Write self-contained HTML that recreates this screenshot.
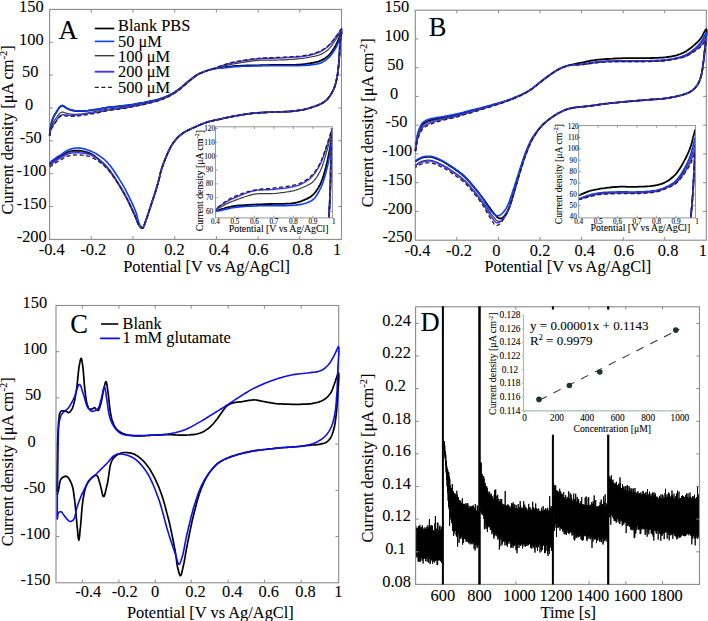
<!DOCTYPE html>
<html><head><meta charset="utf-8"><style>
html,body{margin:0;padding:0;background:#fff;}
svg{display:block;}
text{font-family:"Liberation Serif", serif;fill:#000;stroke:#000;stroke-width:0.08px;}
</style></head><body>
<svg width="708" height="621" viewBox="0 0 708 621">
<rect width="708" height="621" fill="#fff"/>
<rect x="49.6" y="9.4" width="291.9" height="230.0" fill="none" stroke="#8a8a8a" stroke-width="1.1"/>
<path d="M91.3,239.4v-3.2M91.3,9.4v3.2M133.0,239.4v-3.2M133.0,9.4v3.2M174.7,239.4v-3.2M174.7,9.4v3.2M216.4,239.4v-3.2M216.4,9.4v3.2M258.1,239.4v-3.2M258.1,9.4v3.2M299.8,239.4v-3.2M299.8,9.4v3.2M49.6,206.5h3.2M341.5,206.5h-3.2M49.6,173.7h3.2M341.5,173.7h-3.2M49.6,140.8h3.2M341.5,140.8h-3.2M49.6,108.0h3.2M341.5,108.0h-3.2M49.6,75.1h3.2M341.5,75.1h-3.2M49.6,42.3h3.2M341.5,42.3h-3.2" stroke="#8a8a8a" stroke-width="0.9900000000000001" fill="none"/>
<text x="51.7" y="254.6" font-size="16.4" text-anchor="middle" >-0.4</text>
<text x="93.3" y="254.6" font-size="16.4" text-anchor="middle" >-0.2</text>
<text x="130.6" y="254.6" font-size="16.4" text-anchor="middle" >0</text>
<text x="174.4" y="254.6" font-size="16.4" text-anchor="middle" >0.2</text>
<text x="219.0" y="254.6" font-size="16.4" text-anchor="middle" >0.4</text>
<text x="258.2" y="254.6" font-size="16.4" text-anchor="middle" >0.6</text>
<text x="302.4" y="254.6" font-size="16.4" text-anchor="middle" >0.8</text>
<text x="337.1" y="254.6" font-size="16.4" text-anchor="middle" >1</text>
<text x="31.4" y="11.6" font-size="16.4" text-anchor="middle" >150</text>
<text x="31.4" y="44.5" font-size="16.4" text-anchor="middle" >100</text>
<text x="30.2" y="77.3" font-size="16.4" text-anchor="middle" >50</text>
<text x="29.2" y="110.2" font-size="16.4" text-anchor="middle" >0</text>
<text x="30.7" y="143.0" font-size="16.4" text-anchor="middle" >-50</text>
<text x="31.5" y="175.9" font-size="16.4" text-anchor="middle" >-100</text>
<text x="31.7" y="208.7" font-size="16.4" text-anchor="middle" >-150</text>
<text x="31.7" y="241.6" font-size="16.4" text-anchor="middle" >-200</text>
<text transform="translate(13.0,214.4) rotate(-90)" font-size="16.4">Current density [&#956;A cm<tspan dy="-6" font-size="10.5">-2</tspan><tspan dy="6">]</tspan></text>
<text x="123.2" y="271.8" font-size="16.4" text-anchor="start" >Potential [V vs Ag/AgCl]</text>
<text x="58.6" y="39.2" font-size="26.5" text-anchor="start" >A</text>
<path d="M49.6,135.6 L49.7,134.6 L49.8,133.7 L49.9,132.8 L50.0,131.9 L50.1,131.0 L50.2,130.0 L50.3,129.1 L50.5,128.1 L50.7,126.9 L51.0,125.6 L51.3,124.3 L51.6,122.9 L51.9,121.6 L52.3,120.3 L52.7,119.1 L53.1,118.0 L53.5,117.1 L53.9,116.3 L54.3,115.5 L54.7,114.8 L55.2,114.1 L55.6,113.4 L56.1,112.7 L56.5,112.0 L56.9,111.3 L57.3,110.6 L57.7,109.9 L58.2,109.2 L58.6,108.6 L59.0,108.0 L59.5,107.4 L59.9,107.0 L60.2,106.7 L60.5,106.5 L60.8,106.2 L61.1,106.0 L61.4,105.9 L61.7,105.8 L62.1,105.7 L62.4,105.7 L62.9,105.8 L63.4,106.0 L63.9,106.3 L64.4,106.7 L64.9,107.1 L65.5,107.5 L66.0,107.8 L66.6,108.2 L67.2,108.5 L67.8,108.8 L68.4,109.1 L69.0,109.3 L69.6,109.6 L70.3,109.8 L71.0,110.1 L71.7,110.3 L72.8,110.5 L73.9,110.7 L75.1,110.9 L76.4,111.0 L77.7,111.1 L79.1,111.2 L80.5,111.2 L81.9,111.2 L83.8,111.1 L85.9,110.9 L88.1,110.7 L90.4,110.4 L92.6,110.1 L94.8,109.7 L96.9,109.4 L98.8,109.1 L100.1,108.9 L101.2,108.7 L102.3,108.4 L103.4,108.2 L104.5,108.0 L105.6,107.8 L106.7,107.6 L108.0,107.4 L109.8,107.1 L111.7,106.9 L113.7,106.8 L115.8,106.6 L117.9,106.4 L120.1,106.2 L122.4,106.0 L124.7,105.7 L127.6,105.3 L130.8,104.8 L134.1,104.3 L137.4,103.7 L140.7,103.1 L143.9,102.6 L146.9,102.0 L149.7,101.4 L151.5,101.0 L153.1,100.6 L154.7,100.3 L156.2,99.9 L157.7,99.5 L159.2,99.1 L160.7,98.6 L162.2,98.1 L163.8,97.5 L165.4,96.9 L166.9,96.2 L168.5,95.5 L170.1,94.8 L171.6,94.0 L173.2,93.1 L174.7,92.2 L176.3,91.1 L178.0,89.9 L179.6,88.7 L181.2,87.4 L182.7,86.1 L184.3,84.8 L185.8,83.5 L187.2,82.3 L188.3,81.4 L189.4,80.5 L190.5,79.7 L191.5,78.8 L192.6,78.0 L193.6,77.2 L194.6,76.4 L195.5,75.8 L196.3,75.3 L197.1,74.8 L197.8,74.4 L198.6,74.0 L199.3,73.6 L200.1,73.2 L200.9,72.9 L201.8,72.5 L203.1,72.0 L204.4,71.5 L205.8,71.0 L207.2,70.5 L208.7,70.1 L210.2,69.6 L211.8,69.2 L213.3,68.9 L214.9,68.5 L216.6,68.2 L218.3,67.9 L220.1,67.7 L221.8,67.5 L223.5,67.3 L225.2,67.1 L226.8,66.9 L228.2,66.7 L229.4,66.6 L230.7,66.5 L231.9,66.3 L233.1,66.2 L234.4,66.1 L235.8,66.0 L237.2,65.9 L239.5,65.8 L242.0,65.7 L244.5,65.6 L247.2,65.5 L250.0,65.4 L252.7,65.4 L255.4,65.3 L258.1,65.3 L260.7,65.2 L263.3,65.2 L265.9,65.1 L268.5,65.1 L271.1,65.0 L273.7,65.0 L276.3,65.0 L278.9,64.9 L281.6,64.9 L284.3,64.9 L287.1,64.9 L289.8,64.9 L292.5,64.9 L295.1,64.8 L297.5,64.7 L299.8,64.6 L301.3,64.5 L302.7,64.4 L304.0,64.2 L305.2,64.1 L306.5,63.9 L307.7,63.7 L309.0,63.5 L310.2,63.3 L311.5,63.0 L312.9,62.8 L314.2,62.5 L315.6,62.3 L316.9,61.9 L318.2,61.6 L319.4,61.1 L320.7,60.7 L321.8,60.1 L322.9,59.5 L324.0,58.9 L325.1,58.2 L326.1,57.5 L327.1,56.7 L328.1,55.9 L329.0,55.1 L329.9,54.1 L330.8,53.1 L331.6,51.9 L332.4,50.8 L333.2,49.6 L333.9,48.4 L334.6,47.3 L335.2,46.2 L335.7,45.4 L336.2,44.5 L336.6,43.7 L336.9,42.9 L337.3,42.1 L337.6,41.3 L338.0,40.5 L338.4,39.6 L338.8,38.6 L339.3,37.3 L339.7,36.0 L340.2,34.7 L340.6,33.5 L341.0,32.6 L341.3,32.0 L341.5,31.7 L341.6,32.1 L341.5,33.0 L341.3,34.3 L341.0,35.9 L340.7,37.6 L340.4,39.5 L340.2,41.3 L340.0,42.9 L339.9,44.7 L339.8,46.5 L339.7,48.4 L339.6,50.3 L339.5,52.2 L339.5,54.2 L339.4,56.1 L339.2,58.2 L339.0,60.6 L338.8,63.1 L338.6,65.7 L338.3,68.3 L338.0,70.9 L337.7,73.4 L337.3,75.8 L336.9,78.1 L336.5,79.8 L336.2,81.4 L335.8,83.0 L335.3,84.5 L334.9,86.0 L334.4,87.4 L333.8,88.9 L333.1,90.3 L332.4,91.7 L331.6,93.2 L330.8,94.6 L329.9,96.0 L328.9,97.3 L327.9,98.6 L326.7,99.8 L325.5,100.9 L323.9,102.1 L322.2,103.1 L320.3,104.1 L318.3,105.0 L316.3,105.8 L314.3,106.5 L312.2,107.2 L310.2,107.8 L308.3,108.4 L306.4,108.9 L304.5,109.4 L302.6,109.8 L300.7,110.1 L298.8,110.4 L296.9,110.7 L294.9,111.0 L293.0,111.2 L291.0,111.4 L289.1,111.5 L287.2,111.6 L285.2,111.7 L283.2,111.7 L281.1,111.8 L278.9,111.9 L276.2,112.0 L273.3,112.1 L270.3,112.2 L267.2,112.3 L264.1,112.5 L261.1,112.6 L258.3,112.8 L255.6,113.0 L253.6,113.2 L251.8,113.4 L250.0,113.6 L248.2,113.8 L246.5,114.1 L244.8,114.3 L243.1,114.6 L241.4,114.9 L239.9,115.1 L238.5,115.4 L237.0,115.6 L235.6,115.9 L234.2,116.1 L232.8,116.4 L231.4,116.7 L230.0,117.0 L228.4,117.3 L226.9,117.6 L225.4,117.9 L223.8,118.2 L222.3,118.6 L220.8,118.9 L219.2,119.3 L217.7,119.6 L216.3,119.9 L214.9,120.2 L213.5,120.5 L212.0,120.9 L210.6,121.2 L209.2,121.5 L207.8,121.9 L206.5,122.4 L205.0,122.8 L203.6,123.4 L202.2,123.9 L200.8,124.5 L199.4,125.1 L198.0,125.7 L196.6,126.3 L195.2,127.0 L193.7,127.6 L192.2,128.3 L190.7,129.0 L189.2,129.7 L187.8,130.4 L186.4,131.1 L185.1,131.8 L183.9,132.5 L183.0,133.1 L182.2,133.6 L181.5,134.2 L180.8,134.7 L180.1,135.3 L179.5,135.8 L178.8,136.4 L178.2,137.1 L177.4,137.8 L176.7,138.6 L176.0,139.4 L175.3,140.2 L174.6,141.1 L173.9,141.9 L173.2,142.9 L172.6,143.9 L171.8,145.1 L171.0,146.4 L170.3,147.8 L169.6,149.2 L168.9,150.6 L168.2,152.1 L167.5,153.6 L166.9,155.2 L166.1,156.9 L165.3,158.8 L164.6,160.7 L163.8,162.6 L163.1,164.5 L162.5,166.4 L161.8,168.3 L161.3,170.0 L160.9,171.4 L160.5,172.7 L160.2,173.9 L160.0,175.2 L159.7,176.4 L159.4,177.6 L159.1,178.9 L158.8,180.3 L158.3,181.8 L157.9,183.5 L157.4,185.1 L156.9,186.8 L156.4,188.5 L155.9,190.2 L155.4,191.8 L154.9,193.4 L154.4,194.8 L154.0,196.2 L153.5,197.6 L153.1,198.9 L152.6,200.3 L152.1,201.7 L151.7,203.1 L151.2,204.6 L150.6,206.4 L150.0,208.3 L149.3,210.3 L148.7,212.3 L148.0,214.2 L147.4,216.2 L146.8,218.0 L146.1,219.7 L145.7,221.0 L145.2,222.4 L144.8,223.7 L144.3,225.1 L143.9,226.2 L143.4,227.2 L142.9,227.9 L142.4,228.2 L142.0,228.2 L141.6,228.1 L141.2,227.8 L140.8,227.5 L140.4,227.0 L140.0,226.6 L139.6,226.1 L139.3,225.6 L138.8,224.9 L138.4,224.1 L138.0,223.2 L137.6,222.3 L137.2,221.3 L136.8,220.2 L136.4,219.1 L135.9,218.0 L135.1,216.2 L134.2,214.2 L133.3,212.1 L132.3,209.9 L131.3,207.6 L130.2,205.4 L129.2,203.3 L128.2,201.2 L127.3,199.4 L126.4,197.7 L125.5,196.0 L124.6,194.3 L123.6,192.7 L122.7,191.0 L121.7,189.2 L120.6,187.4 L119.2,185.1 L117.7,182.7 L116.1,180.1 L114.5,177.6 L112.8,175.1 L111.2,172.7 L109.6,170.4 L108.0,168.4 L106.8,167.0 L105.6,165.7 L104.5,164.5 L103.3,163.4 L102.1,162.3 L100.9,161.2 L99.8,160.2 L98.6,159.2 L97.6,158.4 L96.6,157.6 L95.6,156.9 L94.7,156.1 L93.7,155.4 L92.6,154.8 L91.6,154.2 L90.5,153.6 L89.2,153.1 L87.9,152.6 L86.5,152.1 L85.1,151.7 L83.6,151.4 L82.2,151.1 L80.8,150.8 L79.4,150.7 L78.1,150.6 L76.8,150.6 L75.5,150.6 L74.2,150.7 L72.9,150.9 L71.7,151.1 L70.4,151.3 L69.2,151.7 L68.0,152.1 L66.8,152.6 L65.6,153.2 L64.4,153.9 L63.3,154.6 L62.2,155.3 L61.1,156.0 L60.0,156.6 L59.2,157.1 L58.3,157.6 L57.5,158.1 L56.7,158.6 L55.9,159.1 L55.2,159.5 L54.5,160.0 L53.8,160.5 L53.2,161.0 L52.6,161.4 L52.1,161.9 L51.6,162.3 L51.1,162.8 L50.6,163.2 L50.1,163.7 L49.6,164.2" fill="none" stroke="#000" stroke-width="1.8" stroke-linejoin="round"/>
<path d="M49.6,135.6 L49.7,134.6 L49.8,133.7 L49.9,132.8 L50.0,131.8 L50.1,130.9 L50.2,130.0 L50.3,129.0 L50.5,128.0 L50.7,126.8 L51.0,125.5 L51.3,124.1 L51.6,122.8 L51.9,121.4 L52.3,120.1 L52.7,118.9 L53.1,117.8 L53.5,116.9 L53.9,116.1 L54.3,115.3 L54.7,114.6 L55.2,113.9 L55.6,113.2 L56.1,112.5 L56.5,111.8 L56.9,111.1 L57.3,110.4 L57.7,109.7 L58.2,109.0 L58.6,108.4 L59.0,107.8 L59.5,107.2 L59.9,106.8 L60.2,106.5 L60.5,106.3 L60.8,106.0 L61.1,105.9 L61.4,105.7 L61.7,105.6 L62.1,105.5 L62.4,105.5 L62.9,105.6 L63.4,105.8 L63.9,106.1 L64.4,106.5 L64.9,106.9 L65.5,107.3 L66.0,107.7 L66.6,108.0 L67.2,108.3 L67.8,108.6 L68.4,108.9 L69.0,109.1 L69.6,109.4 L70.3,109.6 L71.0,109.9 L71.7,110.1 L72.8,110.3 L73.9,110.5 L75.1,110.7 L76.4,110.8 L77.7,110.9 L79.1,111.0 L80.5,111.0 L81.9,111.0 L83.8,110.9 L85.9,110.7 L88.1,110.5 L90.4,110.2 L92.6,109.9 L94.8,109.6 L96.9,109.2 L98.8,109.0 L100.1,108.8 L101.2,108.5 L102.3,108.3 L103.4,108.1 L104.5,107.9 L105.6,107.7 L106.7,107.5 L108.0,107.3 L109.8,107.1 L111.7,106.9 L113.7,106.7 L115.8,106.5 L117.9,106.4 L120.1,106.2 L122.4,105.9 L124.7,105.6 L127.6,105.2 L130.8,104.8 L134.1,104.3 L137.4,103.7 L140.7,103.1 L143.9,102.5 L146.9,102.0 L149.7,101.4 L151.5,101.0 L153.1,100.6 L154.7,100.3 L156.2,99.9 L157.7,99.5 L159.2,99.1 L160.7,98.6 L162.2,98.1 L163.8,97.5 L165.4,96.9 L166.9,96.2 L168.5,95.5 L170.1,94.8 L171.6,94.0 L173.2,93.1 L174.7,92.2 L176.3,91.1 L178.0,89.9 L179.6,88.7 L181.2,87.4 L182.7,86.1 L184.3,84.8 L185.8,83.5 L187.2,82.3 L188.3,81.4 L189.4,80.5 L190.5,79.7 L191.5,78.8 L192.6,78.0 L193.6,77.2 L194.6,76.4 L195.5,75.8 L196.3,75.3 L197.1,74.8 L197.8,74.4 L198.6,74.0 L199.3,73.6 L200.1,73.2 L200.9,72.9 L201.8,72.5 L203.1,72.0 L204.4,71.5 L205.8,71.0 L207.2,70.6 L208.7,70.1 L210.2,69.7 L211.8,69.4 L213.3,69.0 L214.9,68.7 L216.6,68.5 L218.3,68.3 L220.1,68.1 L221.8,68.0 L223.5,67.8 L225.2,67.7 L226.8,67.6 L228.2,67.4 L229.4,67.3 L230.7,67.1 L231.9,67.0 L233.1,66.9 L234.4,66.8 L235.8,66.7 L237.2,66.6 L239.5,66.4 L242.0,66.3 L244.5,66.2 L247.2,66.2 L250.0,66.1 L252.7,66.0 L255.4,66.0 L258.1,65.9 L260.7,65.9 L263.3,65.8 L265.9,65.8 L268.5,65.8 L271.1,65.8 L273.7,65.8 L276.3,65.8 L278.9,65.8 L281.6,65.8 L284.3,65.8 L287.1,65.8 L289.8,65.7 L292.5,65.7 L295.1,65.7 L297.5,65.7 L299.8,65.6 L301.3,65.5 L302.7,65.5 L304.0,65.4 L305.2,65.4 L306.5,65.3 L307.7,65.2 L309.0,65.1 L310.2,64.9 L311.5,64.8 L312.9,64.6 L314.2,64.5 L315.6,64.3 L316.9,64.0 L318.2,63.7 L319.4,63.4 L320.7,63.0 L321.8,62.5 L322.9,61.9 L324.0,61.2 L325.1,60.6 L326.1,59.8 L327.1,59.0 L328.1,58.2 L329.0,57.4 L329.9,56.4 L330.8,55.4 L331.6,54.3 L332.4,53.2 L333.2,52.1 L333.9,51.0 L334.6,49.9 L335.2,48.8 L335.7,48.0 L336.2,47.2 L336.6,46.4 L336.9,45.6 L337.3,44.8 L337.7,44.0 L338.0,43.1 L338.4,42.3 L338.8,41.1 L339.3,39.8 L339.8,38.4 L340.2,37.0 L340.7,35.7 L341.0,34.6 L341.3,34.0 L341.5,33.7 L341.5,34.0 L341.4,34.7 L341.2,35.7 L341.0,37.0 L340.7,38.5 L340.4,40.0 L340.2,41.5 L340.0,42.9 L339.8,44.6 L339.7,46.4 L339.7,48.3 L339.6,50.2 L339.5,52.1 L339.5,54.1 L339.4,56.1 L339.2,58.2 L339.0,60.6 L338.8,63.1 L338.6,65.7 L338.3,68.3 L338.0,70.9 L337.7,73.4 L337.3,75.8 L336.9,78.1 L336.5,79.8 L336.2,81.4 L335.8,83.0 L335.3,84.5 L334.9,86.0 L334.4,87.4 L333.8,88.9 L333.1,90.3 L332.4,91.7 L331.6,93.2 L330.8,94.6 L329.9,96.0 L328.9,97.3 L327.9,98.6 L326.7,99.8 L325.5,100.9 L323.9,102.1 L322.2,103.1 L320.3,104.1 L318.3,105.0 L316.3,105.8 L314.3,106.5 L312.2,107.2 L310.2,107.8 L308.3,108.4 L306.4,108.9 L304.5,109.4 L302.6,109.8 L300.7,110.1 L298.8,110.4 L296.9,110.7 L294.9,111.0 L293.0,111.2 L291.0,111.4 L289.1,111.5 L287.2,111.6 L285.2,111.7 L283.2,111.7 L281.1,111.8 L278.9,111.9 L276.2,112.0 L273.3,112.1 L270.3,112.2 L267.2,112.3 L264.1,112.5 L261.1,112.6 L258.3,112.8 L255.6,113.0 L253.6,113.2 L251.8,113.4 L250.0,113.6 L248.2,113.8 L246.5,114.1 L244.8,114.3 L243.1,114.6 L241.4,114.9 L239.9,115.1 L238.5,115.4 L237.0,115.6 L235.6,115.9 L234.2,116.1 L232.8,116.4 L231.4,116.7 L230.0,117.0 L228.4,117.3 L226.9,117.6 L225.4,117.9 L223.8,118.2 L222.3,118.6 L220.8,118.9 L219.2,119.3 L217.7,119.6 L216.3,119.9 L214.9,120.2 L213.5,120.5 L212.0,120.9 L210.6,121.2 L209.2,121.5 L207.8,121.9 L206.5,122.4 L205.0,122.8 L203.6,123.4 L202.2,123.9 L200.8,124.5 L199.4,125.1 L198.0,125.7 L196.6,126.3 L195.2,127.0 L193.7,127.6 L192.2,128.3 L190.7,129.0 L189.2,129.7 L187.8,130.4 L186.4,131.1 L185.1,131.8 L183.9,132.5 L183.0,133.1 L182.2,133.6 L181.5,134.2 L180.8,134.7 L180.1,135.3 L179.5,135.8 L178.8,136.4 L178.2,137.1 L177.4,137.8 L176.7,138.6 L176.0,139.4 L175.3,140.2 L174.6,141.1 L173.9,141.9 L173.2,142.9 L172.6,143.9 L171.8,145.1 L171.0,146.4 L170.3,147.8 L169.6,149.2 L168.9,150.6 L168.2,152.1 L167.5,153.6 L166.9,155.2 L166.1,156.9 L165.3,158.8 L164.6,160.7 L163.8,162.6 L163.1,164.5 L162.5,166.4 L161.8,168.3 L161.3,170.0 L160.9,171.4 L160.5,172.7 L160.2,173.9 L160.0,175.2 L159.7,176.4 L159.4,177.6 L159.1,178.9 L158.8,180.3 L158.3,181.8 L157.9,183.5 L157.4,185.1 L156.9,186.8 L156.4,188.5 L155.9,190.2 L155.4,191.8 L154.9,193.4 L154.4,194.8 L154.0,196.2 L153.5,197.6 L153.1,198.9 L152.6,200.3 L152.1,201.7 L151.7,203.1 L151.2,204.6 L150.6,206.4 L150.0,208.3 L149.3,210.3 L148.7,212.3 L148.1,214.3 L147.4,216.2 L146.8,218.0 L146.1,219.7 L145.7,220.9 L145.2,222.3 L144.7,223.6 L144.3,224.8 L143.8,226.0 L143.3,226.9 L142.9,227.5 L142.4,227.7 L142.0,227.7 L141.6,227.4 L141.2,227.0 L140.8,226.4 L140.4,225.8 L140.0,225.1 L139.6,224.3 L139.3,223.6 L138.8,222.5 L138.4,221.2 L138.0,219.8 L137.6,218.4 L137.3,216.8 L136.9,215.2 L136.4,213.6 L135.9,212.1 L135.1,210.1 L134.2,208.0 L133.3,205.9 L132.3,203.7 L131.3,201.5 L130.2,199.4 L129.2,197.2 L128.2,195.2 L127.3,193.4 L126.4,191.6 L125.5,189.9 L124.6,188.2 L123.7,186.5 L122.7,184.8 L121.7,183.1 L120.6,181.3 L119.2,179.1 L117.7,176.7 L116.1,174.3 L114.5,171.8 L112.9,169.4 L111.2,167.1 L109.6,165.0 L108.0,163.2 L106.8,161.9 L105.6,160.8 L104.5,159.7 L103.3,158.7 L102.1,157.8 L100.9,156.9 L99.8,156.1 L98.6,155.3 L97.6,154.6 L96.6,154.0 L95.6,153.4 L94.6,152.9 L93.6,152.4 L92.6,151.9 L91.6,151.5 L90.5,151.0 L89.2,150.5 L87.8,150.0 L86.5,149.6 L85.1,149.1 L83.6,148.7 L82.2,148.4 L80.8,148.2 L79.4,148.1 L78.1,148.0 L76.8,148.0 L75.5,148.1 L74.2,148.3 L72.9,148.5 L71.7,148.8 L70.4,149.2 L69.2,149.6 L68.0,150.1 L66.8,150.7 L65.6,151.4 L64.4,152.2 L63.3,153.0 L62.2,153.8 L61.1,154.6 L60.0,155.3 L59.2,155.8 L58.3,156.3 L57.5,156.8 L56.7,157.3 L55.9,157.8 L55.2,158.3 L54.5,158.8 L53.8,159.3 L53.2,159.8 L52.6,160.2 L52.1,160.7 L51.6,161.1 L51.1,161.6 L50.6,162.1 L50.1,162.5 L49.6,163.0" fill="none" stroke="#0a3cff" stroke-width="1.6" stroke-linejoin="round"/>
<path d="M49.6,135.6 L49.7,134.9 L49.8,134.1 L49.9,133.4 L50.0,132.7 L50.1,132.0 L50.2,131.3 L50.3,130.5 L50.5,129.8 L50.7,128.9 L51.0,128.0 L51.3,127.0 L51.6,126.1 L52.0,125.1 L52.3,124.2 L52.7,123.3 L53.1,122.5 L53.5,121.8 L53.9,121.2 L54.3,120.5 L54.7,119.9 L55.2,119.3 L55.6,118.7 L56.1,118.1 L56.5,117.5 L56.9,117.0 L57.3,116.3 L57.8,115.7 L58.2,115.1 L58.6,114.5 L59.0,114.0 L59.5,113.5 L59.9,113.2 L60.2,112.9 L60.5,112.7 L60.8,112.6 L61.1,112.4 L61.4,112.3 L61.7,112.2 L62.1,112.2 L62.4,112.1 L62.9,112.2 L63.4,112.2 L63.9,112.4 L64.4,112.6 L64.9,112.8 L65.5,113.0 L66.0,113.1 L66.6,113.3 L67.2,113.4 L67.8,113.6 L68.4,113.7 L69.0,113.8 L69.6,114.0 L70.3,114.1 L71.0,114.2 L71.7,114.2 L72.8,114.3 L73.9,114.3 L75.2,114.3 L76.4,114.3 L77.7,114.2 L79.1,114.1 L80.5,114.0 L81.9,113.8 L83.8,113.6 L85.9,113.2 L88.2,112.9 L90.4,112.4 L92.6,112.0 L94.8,111.6 L96.9,111.2 L98.8,110.8 L100.0,110.6 L101.2,110.3 L102.3,110.1 L103.4,109.9 L104.5,109.7 L105.6,109.4 L106.7,109.2 L108.0,109.0 L109.8,108.8 L111.7,108.5 L113.7,108.3 L115.8,108.1 L117.9,107.9 L120.1,107.7 L122.4,107.4 L124.7,107.1 L127.6,106.6 L130.8,106.1 L134.1,105.5 L137.4,104.8 L140.7,104.2 L143.9,103.5 L146.9,102.8 L149.7,102.2 L151.5,101.8 L153.1,101.4 L154.7,101.0 L156.2,100.6 L157.7,100.2 L159.2,99.7 L160.7,99.2 L162.2,98.7 L163.8,98.1 L165.4,97.4 L166.9,96.7 L168.5,96.0 L170.1,95.2 L171.6,94.4 L173.2,93.6 L174.7,92.6 L176.3,91.5 L178.0,90.3 L179.6,89.1 L181.2,87.7 L182.7,86.4 L184.3,85.1 L185.8,83.8 L187.2,82.6 L188.3,81.7 L189.4,80.8 L190.5,79.9 L191.5,79.0 L192.6,78.2 L193.6,77.4 L194.6,76.7 L195.5,76.0 L196.3,75.5 L197.1,75.0 L197.8,74.6 L198.6,74.2 L199.3,73.8 L200.1,73.4 L200.9,73.0 L201.8,72.6 L203.1,72.1 L204.4,71.6 L205.8,71.1 L207.2,70.7 L208.7,70.2 L210.2,69.7 L211.8,69.3 L213.3,68.8 L214.9,68.4 L216.6,67.9 L218.3,67.4 L220.1,66.9 L221.8,66.5 L223.5,66.0 L225.2,65.6 L226.8,65.3 L228.2,65.0 L229.4,64.7 L230.7,64.4 L231.9,64.2 L233.1,64.0 L234.4,63.8 L235.8,63.5 L237.2,63.3 L239.5,62.9 L242.0,62.5 L244.5,62.1 L247.2,61.7 L250.0,61.3 L252.7,60.9 L255.4,60.6 L258.1,60.3 L260.7,60.2 L263.3,60.1 L265.9,60.1 L268.5,60.1 L271.1,60.1 L273.7,60.1 L276.3,60.1 L278.9,60.0 L281.6,59.9 L284.3,59.8 L287.1,59.6 L289.8,59.5 L292.5,59.3 L295.1,59.1 L297.5,58.9 L299.8,58.7 L301.3,58.5 L302.7,58.3 L304.0,58.2 L305.2,58.0 L306.5,57.8 L307.7,57.5 L309.0,57.3 L310.2,57.0 L311.5,56.8 L312.9,56.5 L314.2,56.3 L315.6,56.0 L316.9,55.7 L318.2,55.3 L319.4,54.9 L320.7,54.4 L321.8,53.9 L322.9,53.3 L324.0,52.7 L325.1,52.0 L326.1,51.3 L327.1,50.5 L328.1,49.7 L329.0,48.8 L329.9,47.9 L330.8,46.8 L331.6,45.8 L332.4,44.6 L333.2,43.5 L333.9,42.4 L334.6,41.3 L335.2,40.3 L335.7,39.6 L336.1,38.9 L336.5,38.2 L336.9,37.6 L337.3,37.0 L337.6,36.3 L338.0,35.7 L338.4,35.0 L338.8,34.3 L339.2,33.4 L339.7,32.6 L340.1,31.7 L340.6,30.9 L341.0,30.3 L341.3,29.9 L341.5,29.8 L341.7,30.2 L341.6,31.3 L341.4,32.8 L341.2,34.7 L340.8,36.8 L340.5,39.0 L340.2,41.1 L340.0,42.9 L339.9,44.8 L339.8,46.6 L339.7,48.5 L339.6,50.3 L339.5,52.2 L339.5,54.2 L339.4,56.2 L339.2,58.2 L339.0,60.6 L338.8,63.1 L338.6,65.7 L338.3,68.3 L338.0,70.9 L337.7,73.4 L337.3,75.8 L336.9,78.1 L336.5,79.8 L336.2,81.4 L335.8,83.0 L335.3,84.5 L334.9,86.0 L334.4,87.4 L333.8,88.9 L333.1,90.3 L332.4,91.7 L331.6,93.2 L330.8,94.6 L329.9,96.0 L328.9,97.3 L327.9,98.6 L326.7,99.8 L325.5,100.9 L323.9,102.1 L322.2,103.1 L320.3,104.1 L318.3,105.0 L316.3,105.8 L314.3,106.5 L312.2,107.2 L310.2,107.8 L308.3,108.4 L306.4,108.9 L304.5,109.4 L302.6,109.8 L300.7,110.1 L298.8,110.4 L296.9,110.7 L294.9,111.0 L293.0,111.2 L291.0,111.4 L289.1,111.5 L287.2,111.6 L285.2,111.7 L283.2,111.7 L281.1,111.8 L278.9,111.9 L276.2,112.0 L273.3,112.1 L270.3,112.2 L267.2,112.3 L264.1,112.5 L261.1,112.6 L258.3,112.8 L255.6,113.0 L253.6,113.2 L251.8,113.4 L250.0,113.6 L248.2,113.8 L246.5,114.1 L244.8,114.3 L243.1,114.6 L241.4,114.9 L239.9,115.1 L238.5,115.4 L237.0,115.6 L235.6,115.9 L234.2,116.1 L232.8,116.4 L231.4,116.7 L230.0,117.0 L228.4,117.3 L226.9,117.6 L225.4,117.9 L223.8,118.2 L222.3,118.6 L220.8,118.9 L219.2,119.3 L217.7,119.6 L216.3,119.9 L214.9,120.2 L213.5,120.5 L212.0,120.9 L210.6,121.2 L209.2,121.5 L207.8,121.9 L206.5,122.4 L205.0,122.8 L203.6,123.4 L202.2,123.9 L200.8,124.5 L199.4,125.1 L198.0,125.7 L196.6,126.3 L195.2,127.0 L193.7,127.6 L192.2,128.3 L190.7,129.0 L189.2,129.7 L187.8,130.4 L186.4,131.1 L185.1,131.8 L183.9,132.5 L183.0,133.1 L182.2,133.6 L181.5,134.2 L180.8,134.7 L180.1,135.3 L179.5,135.8 L178.8,136.4 L178.2,137.1 L177.4,137.8 L176.7,138.6 L176.0,139.4 L175.3,140.2 L174.6,141.1 L173.9,141.9 L173.2,142.9 L172.6,143.9 L171.8,145.1 L171.0,146.4 L170.3,147.8 L169.6,149.2 L168.9,150.6 L168.2,152.1 L167.5,153.6 L166.9,155.2 L166.1,156.9 L165.3,158.8 L164.6,160.7 L163.8,162.6 L163.1,164.5 L162.5,166.4 L161.8,168.3 L161.3,170.0 L160.9,171.4 L160.5,172.7 L160.2,173.9 L160.0,175.2 L159.7,176.4 L159.4,177.6 L159.1,178.9 L158.8,180.3 L158.3,181.8 L157.9,183.5 L157.4,185.1 L156.9,186.8 L156.4,188.5 L155.9,190.2 L155.4,191.8 L154.9,193.4 L154.4,194.8 L154.0,196.2 L153.5,197.6 L153.1,198.9 L152.6,200.3 L152.1,201.7 L151.7,203.1 L151.2,204.6 L150.6,206.4 L150.0,208.3 L149.3,210.3 L148.7,212.3 L148.0,214.2 L147.4,216.2 L146.8,218.0 L146.1,219.7 L145.7,221.0 L145.2,222.4 L144.8,223.7 L144.3,225.1 L143.9,226.2 L143.4,227.2 L142.9,227.9 L142.4,228.2 L142.0,228.2 L141.6,228.1 L141.2,227.8 L140.8,227.5 L140.4,227.0 L140.0,226.6 L139.6,226.1 L139.3,225.6 L138.8,224.9 L138.4,224.1 L138.0,223.2 L137.6,222.3 L137.2,221.2 L136.8,220.2 L136.4,219.1 L135.9,218.0 L135.1,216.2 L134.2,214.2 L133.3,212.1 L132.3,209.9 L131.3,207.7 L130.2,205.5 L129.2,203.3 L128.2,201.3 L127.3,199.5 L126.4,197.8 L125.5,196.1 L124.6,194.5 L123.6,192.8 L122.7,191.1 L121.7,189.4 L120.6,187.6 L119.2,185.3 L117.7,182.9 L116.1,180.4 L114.5,177.9 L112.8,175.4 L111.2,173.0 L109.6,170.8 L108.0,168.8 L106.8,167.4 L105.6,166.1 L104.4,164.9 L103.3,163.8 L102.1,162.7 L100.9,161.7 L99.8,160.7 L98.6,159.7 L97.6,158.9 L96.6,158.1 L95.6,157.4 L94.7,156.6 L93.7,156.0 L92.6,155.3 L91.6,154.7 L90.5,154.2 L89.2,153.7 L87.9,153.2 L86.5,152.7 L85.1,152.3 L83.6,152.0 L82.2,151.7 L80.8,151.5 L79.4,151.3 L78.1,151.3 L76.8,151.2 L75.5,151.3 L74.2,151.4 L72.9,151.5 L71.7,151.7 L70.4,152.0 L69.2,152.3 L68.0,152.8 L66.8,153.3 L65.6,153.9 L64.4,154.6 L63.3,155.3 L62.2,156.0 L61.1,156.6 L60.0,157.3 L59.2,157.8 L58.3,158.3 L57.5,158.7 L56.7,159.2 L55.9,159.7 L55.2,160.2 L54.5,160.7 L53.8,161.2 L53.2,161.6 L52.6,162.1 L52.1,162.5 L51.6,163.0 L51.1,163.5 L50.6,163.9 L50.1,164.4 L49.6,164.8" fill="none" stroke="#3a3a3a" stroke-width="1.2" stroke-linejoin="round"/>
<path d="M49.6,135.6 L49.7,135.0 L49.8,134.4 L49.9,133.8 L50.0,133.3 L50.1,132.7 L50.2,132.1 L50.3,131.5 L50.5,130.9 L50.7,130.2 L51.0,129.5 L51.3,128.8 L51.6,128.1 L52.0,127.4 L52.3,126.6 L52.7,125.9 L53.1,125.3 L53.5,124.6 L53.9,124.0 L54.3,123.4 L54.7,122.8 L55.2,122.2 L55.6,121.6 L56.1,121.0 L56.5,120.4 L56.9,119.8 L57.3,119.2 L57.8,118.6 L58.2,117.9 L58.6,117.3 L59.0,116.8 L59.5,116.3 L59.9,115.9 L60.2,115.7 L60.5,115.4 L60.8,115.3 L61.1,115.1 L61.4,115.0 L61.7,114.9 L62.1,114.8 L62.4,114.7 L62.9,114.7 L63.4,114.7 L63.9,114.7 L64.4,114.8 L64.9,114.9 L65.5,115.0 L66.0,115.0 L66.6,115.1 L67.2,115.1 L67.8,115.2 L68.4,115.2 L69.0,115.3 L69.6,115.3 L70.3,115.4 L71.0,115.4 L71.7,115.4 L72.8,115.4 L73.9,115.3 L75.2,115.2 L76.4,115.1 L77.7,115.0 L79.1,114.8 L80.5,114.7 L81.9,114.5 L83.8,114.2 L85.9,113.9 L88.1,113.6 L90.4,113.2 L92.6,112.9 L94.8,112.5 L96.9,112.2 L98.8,111.8 L100.0,111.6 L101.2,111.4 L102.3,111.2 L103.4,111.0 L104.5,110.8 L105.6,110.6 L106.7,110.4 L108.0,110.1 L109.8,109.9 L111.7,109.6 L113.7,109.4 L115.8,109.1 L117.9,108.9 L120.1,108.6 L122.4,108.3 L124.7,107.9 L127.6,107.4 L130.8,106.8 L134.1,106.2 L137.4,105.5 L140.7,104.9 L143.9,104.2 L146.9,103.5 L149.7,102.8 L151.5,102.4 L153.1,102.0 L154.7,101.6 L156.2,101.2 L157.7,100.8 L159.2,100.3 L160.7,99.8 L162.2,99.2 L163.8,98.6 L165.4,97.9 L167.0,97.2 L168.5,96.5 L170.1,95.7 L171.6,94.9 L173.2,94.0 L174.7,93.0 L176.3,91.9 L178.0,90.7 L179.6,89.4 L181.2,88.0 L182.7,86.7 L184.3,85.3 L185.8,84.1 L187.2,82.9 L188.3,81.9 L189.4,81.0 L190.5,80.1 L191.5,79.2 L192.5,78.4 L193.6,77.6 L194.6,76.8 L195.5,76.1 L196.3,75.6 L197.1,75.1 L197.8,74.7 L198.6,74.3 L199.3,73.9 L200.1,73.5 L200.9,73.1 L201.8,72.7 L203.1,72.2 L204.4,71.7 L205.8,71.2 L207.2,70.7 L208.7,70.2 L210.2,69.7 L211.8,69.2 L213.3,68.7 L214.9,68.1 L216.6,67.6 L218.3,67.0 L220.1,66.4 L221.8,65.8 L223.5,65.2 L225.2,64.7 L226.8,64.3 L228.2,63.9 L229.4,63.6 L230.7,63.3 L231.9,63.0 L233.1,62.8 L234.4,62.5 L235.8,62.3 L237.2,62.0 L239.5,61.5 L242.0,61.1 L244.5,60.6 L247.2,60.2 L250.0,59.7 L252.7,59.3 L255.4,59.0 L258.1,58.7 L260.7,58.5 L263.3,58.4 L265.9,58.3 L268.5,58.2 L271.1,58.2 L273.7,58.2 L276.3,58.1 L278.9,58.0 L281.6,57.9 L284.3,57.8 L287.1,57.6 L289.8,57.5 L292.5,57.3 L295.1,57.1 L297.5,56.9 L299.8,56.7 L301.3,56.5 L302.7,56.4 L304.0,56.2 L305.3,56.0 L306.5,55.9 L307.7,55.6 L309.0,55.4 L310.2,55.1 L311.6,54.7 L312.9,54.4 L314.2,54.0 L315.6,53.5 L316.9,53.1 L318.2,52.6 L319.4,52.0 L320.7,51.5 L321.8,50.8 L322.9,50.2 L324.0,49.5 L325.0,48.8 L326.1,48.0 L327.1,47.2 L328.1,46.4 L329.0,45.5 L329.9,44.7 L330.7,43.7 L331.6,42.7 L332.4,41.7 L333.2,40.7 L333.9,39.8 L334.6,38.8 L335.2,38.0 L335.7,37.4 L336.1,36.8 L336.5,36.3 L336.9,35.8 L337.3,35.3 L337.6,34.8 L338.0,34.3 L338.4,33.7 L338.8,33.1 L339.2,32.3 L339.7,31.6 L340.1,30.8 L340.6,30.1 L340.9,29.5 L341.3,29.2 L341.5,29.1 L341.7,29.6 L341.7,30.7 L341.5,32.4 L341.2,34.4 L340.9,36.6 L340.5,38.8 L340.2,41.0 L340.0,42.9 L339.9,44.8 L339.8,46.6 L339.7,48.5 L339.6,50.4 L339.6,52.3 L339.5,54.2 L339.4,56.2 L339.2,58.2 L339.0,60.6 L338.8,63.1 L338.6,65.7 L338.3,68.3 L338.0,70.9 L337.7,73.4 L337.3,75.8 L336.9,78.1 L336.5,79.8 L336.2,81.4 L335.8,83.0 L335.3,84.5 L334.9,86.0 L334.4,87.4 L333.8,88.9 L333.1,90.3 L332.4,91.7 L331.6,93.2 L330.8,94.6 L329.9,96.0 L328.9,97.3 L327.9,98.6 L326.7,99.8 L325.5,100.9 L323.9,102.1 L322.2,103.1 L320.3,104.1 L318.3,105.0 L316.3,105.8 L314.3,106.5 L312.2,107.2 L310.2,107.8 L308.3,108.4 L306.4,108.9 L304.5,109.4 L302.6,109.8 L300.7,110.1 L298.8,110.4 L296.9,110.7 L294.9,111.0 L293.0,111.2 L291.0,111.4 L289.1,111.5 L287.2,111.6 L285.2,111.7 L283.2,111.7 L281.1,111.8 L278.9,111.9 L276.2,112.0 L273.3,112.1 L270.3,112.2 L267.2,112.3 L264.1,112.5 L261.1,112.6 L258.3,112.8 L255.6,113.0 L253.6,113.2 L251.8,113.4 L250.0,113.6 L248.2,113.8 L246.5,114.1 L244.8,114.3 L243.1,114.6 L241.4,114.9 L239.9,115.1 L238.5,115.4 L237.0,115.6 L235.6,115.9 L234.2,116.1 L232.8,116.4 L231.4,116.7 L230.0,117.0 L228.4,117.3 L226.9,117.6 L225.4,117.9 L223.8,118.2 L222.3,118.6 L220.8,118.9 L219.2,119.3 L217.7,119.6 L216.3,119.9 L214.9,120.2 L213.5,120.5 L212.0,120.9 L210.6,121.2 L209.2,121.5 L207.8,121.9 L206.5,122.4 L205.0,122.8 L203.6,123.4 L202.2,123.9 L200.8,124.5 L199.4,125.1 L198.0,125.7 L196.6,126.3 L195.2,127.0 L193.7,127.6 L192.2,128.3 L190.7,129.0 L189.2,129.7 L187.8,130.4 L186.4,131.1 L185.1,131.8 L183.9,132.5 L183.0,133.1 L182.2,133.6 L181.5,134.2 L180.8,134.7 L180.1,135.3 L179.5,135.8 L178.8,136.4 L178.2,137.1 L177.4,137.8 L176.7,138.6 L176.0,139.4 L175.3,140.2 L174.6,141.1 L173.9,141.9 L173.2,142.9 L172.6,143.9 L171.8,145.1 L171.0,146.4 L170.3,147.8 L169.6,149.2 L168.9,150.6 L168.2,152.1 L167.5,153.6 L166.9,155.2 L166.1,156.9 L165.3,158.8 L164.6,160.7 L163.8,162.6 L163.1,164.5 L162.5,166.4 L161.8,168.3 L161.3,170.0 L160.9,171.4 L160.5,172.7 L160.2,173.9 L160.0,175.2 L159.7,176.4 L159.4,177.6 L159.1,178.9 L158.8,180.3 L158.3,181.8 L157.9,183.5 L157.4,185.1 L156.9,186.8 L156.4,188.5 L155.9,190.2 L155.4,191.8 L154.9,193.4 L154.4,194.8 L154.0,196.2 L153.5,197.6 L153.1,198.9 L152.6,200.3 L152.1,201.7 L151.7,203.1 L151.2,204.6 L150.6,206.4 L150.0,208.3 L149.3,210.3 L148.7,212.3 L148.0,214.2 L147.4,216.2 L146.8,218.0 L146.1,219.7 L145.7,221.0 L145.2,222.4 L144.8,223.7 L144.3,225.1 L143.9,226.2 L143.4,227.2 L142.9,227.9 L142.4,228.2 L142.0,228.2 L141.6,228.1 L141.2,227.8 L140.8,227.5 L140.4,227.0 L140.0,226.6 L139.6,226.1 L139.3,225.6 L138.8,224.9 L138.4,224.1 L138.0,223.2 L137.6,222.3 L137.2,221.3 L136.8,220.2 L136.4,219.1 L135.9,218.0 L135.1,216.2 L134.2,214.2 L133.3,212.1 L132.3,209.9 L131.3,207.6 L130.2,205.4 L129.2,203.3 L128.2,201.2 L127.3,199.4 L126.4,197.7 L125.5,196.0 L124.6,194.3 L123.6,192.6 L122.7,190.9 L121.7,189.2 L120.6,187.4 L119.2,185.2 L117.7,182.7 L116.1,180.3 L114.5,177.8 L112.9,175.3 L111.2,173.0 L109.6,170.8 L108.0,168.8 L106.8,167.5 L105.6,166.2 L104.5,165.0 L103.3,163.9 L102.1,162.8 L100.9,161.8 L99.8,160.8 L98.6,159.9 L97.6,159.1 L96.6,158.4 L95.6,157.7 L94.7,157.1 L93.7,156.5 L92.6,155.9 L91.6,155.4 L90.5,154.9 L89.2,154.5 L87.9,154.1 L86.5,153.7 L85.1,153.4 L83.6,153.2 L82.2,153.0 L80.8,152.9 L79.4,152.8 L78.1,152.7 L76.8,152.7 L75.5,152.7 L74.2,152.8 L72.9,152.9 L71.7,153.1 L70.4,153.3 L69.2,153.6 L68.0,154.0 L66.8,154.5 L65.6,155.1 L64.4,155.8 L63.3,156.5 L62.2,157.1 L61.1,157.8 L60.0,158.4 L59.2,158.9 L58.3,159.4 L57.5,159.8 L56.7,160.3 L55.9,160.8 L55.2,161.3 L54.5,161.8 L53.8,162.3 L53.2,162.7 L52.6,163.1 L52.1,163.6 L51.6,164.0 L51.1,164.5 L50.6,164.9 L50.1,165.4 L49.6,165.8" fill="none" stroke="#4433ff" stroke-width="1.5" stroke-linejoin="round"/>
<path d="M49.6,135.6 L49.7,135.0 L49.8,134.5 L49.9,133.9 L50.0,133.4 L50.1,132.8 L50.2,132.3 L50.3,131.7 L50.5,131.2 L50.7,130.5 L51.0,129.9 L51.3,129.2 L51.6,128.5 L52.0,127.9 L52.4,127.2 L52.7,126.6 L53.1,125.9 L53.5,125.3 L53.9,124.7 L54.3,124.1 L54.7,123.5 L55.2,122.9 L55.6,122.3 L56.1,121.7 L56.5,121.2 L56.9,120.6 L57.3,120.0 L57.8,119.3 L58.2,118.7 L58.6,118.2 L59.0,117.6 L59.5,117.2 L59.9,116.8 L60.2,116.6 L60.5,116.4 L60.8,116.2 L61.1,116.1 L61.4,115.9 L61.7,115.9 L62.1,115.8 L62.4,115.7 L62.9,115.7 L63.4,115.7 L63.9,115.7 L64.4,115.8 L64.9,115.9 L65.5,115.9 L66.0,116.0 L66.6,116.1 L67.2,116.1 L67.8,116.2 L68.4,116.2 L69.0,116.3 L69.6,116.3 L70.3,116.4 L71.0,116.4 L71.7,116.4 L72.8,116.4 L73.9,116.3 L75.2,116.2 L76.4,116.1 L77.7,116.0 L79.1,115.8 L80.5,115.6 L81.9,115.5 L83.8,115.2 L85.9,114.9 L88.2,114.6 L90.4,114.2 L92.6,113.8 L94.8,113.4 L96.9,113.1 L98.8,112.7 L100.1,112.4 L101.2,112.2 L102.3,111.9 L103.4,111.7 L104.5,111.4 L105.6,111.2 L106.7,110.9 L108.0,110.7 L109.8,110.4 L111.7,110.1 L113.7,109.8 L115.8,109.6 L117.9,109.3 L120.1,109.0 L122.4,108.7 L124.7,108.3 L127.6,107.8 L130.8,107.2 L134.1,106.5 L137.4,105.8 L140.7,105.1 L143.9,104.4 L146.9,103.7 L149.7,103.1 L151.5,102.6 L153.1,102.2 L154.7,101.8 L156.2,101.4 L157.7,100.9 L159.2,100.5 L160.7,100.0 L162.2,99.4 L163.8,98.8 L165.4,98.1 L167.0,97.4 L168.5,96.6 L170.1,95.8 L171.6,95.0 L173.2,94.1 L174.7,93.2 L176.3,92.0 L178.0,90.8 L179.6,89.5 L181.2,88.2 L182.7,86.8 L184.3,85.4 L185.8,84.2 L187.2,83.0 L188.3,82.0 L189.4,81.1 L190.5,80.2 L191.5,79.3 L192.5,78.4 L193.6,77.6 L194.6,76.9 L195.5,76.2 L196.3,75.6 L197.1,75.2 L197.8,74.7 L198.6,74.3 L199.3,73.9 L200.1,73.6 L200.9,73.2 L201.8,72.8 L203.1,72.2 L204.4,71.7 L205.8,71.2 L207.2,70.7 L208.7,70.2 L210.2,69.7 L211.8,69.2 L213.3,68.6 L214.9,68.1 L216.6,67.4 L218.3,66.8 L220.1,66.2 L221.8,65.6 L223.5,65.0 L225.2,64.4 L226.8,63.9 L228.2,63.5 L229.4,63.2 L230.7,62.8 L231.9,62.5 L233.1,62.2 L234.4,61.9 L235.8,61.6 L237.2,61.3 L239.5,60.9 L241.9,60.5 L244.5,60.1 L247.2,59.7 L250.0,59.3 L252.7,58.9 L255.4,58.6 L258.1,58.4 L260.7,58.1 L263.3,58.0 L265.9,57.9 L268.5,57.8 L271.1,57.7 L273.7,57.6 L276.3,57.5 L279.0,57.4 L281.6,57.2 L284.3,57.1 L287.1,57.0 L289.8,56.8 L292.5,56.6 L295.1,56.5 L297.5,56.3 L299.8,56.1 L301.3,55.9 L302.7,55.7 L304.0,55.6 L305.3,55.4 L306.5,55.2 L307.7,55.0 L309.0,54.7 L310.2,54.4 L311.6,54.1 L312.9,53.7 L314.2,53.3 L315.6,52.9 L316.9,52.4 L318.2,51.9 L319.4,51.4 L320.6,50.8 L321.8,50.2 L322.9,49.5 L324.0,48.8 L325.0,48.1 L326.1,47.3 L327.1,46.5 L328.1,45.7 L329.0,44.9 L329.9,44.0 L330.7,43.1 L331.6,42.1 L332.4,41.1 L333.2,40.1 L333.9,39.1 L334.6,38.2 L335.2,37.3 L335.7,36.7 L336.1,36.2 L336.5,35.6 L336.9,35.1 L337.2,34.6 L337.6,34.1 L338.0,33.6 L338.4,33.1 L338.8,32.5 L339.2,31.8 L339.7,31.2 L340.1,30.5 L340.5,29.9 L340.9,29.4 L341.3,29.2 L341.5,29.1 L341.7,29.6 L341.7,30.8 L341.5,32.4 L341.2,34.4 L340.9,36.6 L340.5,38.8 L340.2,41.0 L340.0,42.9 L339.9,44.8 L339.8,46.6 L339.7,48.5 L339.6,50.4 L339.6,52.3 L339.5,54.2 L339.4,56.2 L339.2,58.2 L339.0,60.6 L338.8,63.1 L338.6,65.7 L338.3,68.3 L338.0,70.9 L337.7,73.4 L337.3,75.8 L336.9,78.1 L336.5,79.8 L336.2,81.4 L335.8,83.0 L335.3,84.5 L334.9,86.0 L334.4,87.4 L333.8,88.9 L333.1,90.3 L332.4,91.7 L331.6,93.2 L330.8,94.6 L329.9,96.0 L328.9,97.3 L327.9,98.6 L326.7,99.8 L325.5,100.9 L323.9,102.1 L322.2,103.1 L320.3,104.1 L318.3,105.0 L316.3,105.8 L314.3,106.5 L312.2,107.2 L310.2,107.8 L308.3,108.4 L306.4,108.9 L304.5,109.4 L302.6,109.8 L300.7,110.1 L298.8,110.4 L296.9,110.7 L294.9,111.0 L293.0,111.2 L291.0,111.4 L289.1,111.5 L287.2,111.6 L285.2,111.7 L283.2,111.7 L281.1,111.8 L278.9,111.9 L276.2,112.0 L273.3,112.1 L270.3,112.2 L267.2,112.3 L264.1,112.5 L261.1,112.6 L258.3,112.8 L255.6,113.0 L253.6,113.2 L251.8,113.4 L250.0,113.6 L248.2,113.8 L246.5,114.1 L244.8,114.3 L243.1,114.6 L241.4,114.9 L239.9,115.1 L238.5,115.4 L237.0,115.6 L235.6,115.9 L234.2,116.1 L232.8,116.4 L231.4,116.7 L230.0,117.0 L228.4,117.3 L226.9,117.6 L225.4,117.9 L223.8,118.2 L222.3,118.6 L220.8,118.9 L219.2,119.3 L217.7,119.6 L216.3,119.9 L214.9,120.2 L213.5,120.5 L212.0,120.9 L210.6,121.2 L209.2,121.5 L207.8,121.9 L206.5,122.4 L205.0,122.8 L203.6,123.4 L202.2,123.9 L200.8,124.5 L199.4,125.1 L198.0,125.7 L196.6,126.3 L195.2,127.0 L193.7,127.6 L192.2,128.3 L190.7,129.0 L189.2,129.7 L187.8,130.4 L186.4,131.1 L185.1,131.8 L183.9,132.5 L183.0,133.1 L182.2,133.6 L181.5,134.2 L180.8,134.7 L180.1,135.3 L179.5,135.8 L178.8,136.4 L178.2,137.1 L177.4,137.8 L176.7,138.6 L176.0,139.4 L175.3,140.2 L174.6,141.1 L173.9,141.9 L173.2,142.9 L172.6,143.9 L171.8,145.1 L171.0,146.4 L170.3,147.8 L169.6,149.2 L168.9,150.6 L168.2,152.1 L167.5,153.6 L166.9,155.2 L166.1,156.9 L165.3,158.8 L164.6,160.7 L163.8,162.6 L163.1,164.5 L162.5,166.4 L161.8,168.3 L161.3,170.0 L160.9,171.4 L160.5,172.7 L160.2,173.9 L160.0,175.2 L159.7,176.4 L159.4,177.6 L159.1,178.9 L158.8,180.3 L158.3,181.8 L157.9,183.5 L157.4,185.1 L156.9,186.8 L156.4,188.5 L155.9,190.2 L155.4,191.8 L154.9,193.4 L154.4,194.8 L154.0,196.2 L153.5,197.6 L153.1,198.9 L152.6,200.3 L152.1,201.7 L151.7,203.1 L151.2,204.6 L150.6,206.4 L150.0,208.3 L149.3,210.3 L148.7,212.3 L148.0,214.2 L147.4,216.2 L146.8,218.0 L146.1,219.7 L145.7,221.0 L145.2,222.4 L144.8,223.7 L144.3,225.1 L143.9,226.2 L143.4,227.2 L142.9,227.9 L142.4,228.2 L142.0,228.2 L141.6,228.1 L141.2,227.8 L140.8,227.5 L140.4,227.0 L140.0,226.6 L139.6,226.1 L139.3,225.6 L138.8,224.9 L138.4,224.1 L138.0,223.2 L137.6,222.3 L137.2,221.3 L136.8,220.2 L136.4,219.1 L135.9,218.0 L135.1,216.2 L134.2,214.2 L133.3,212.1 L132.3,209.9 L131.3,207.6 L130.2,205.4 L129.2,203.3 L128.2,201.2 L127.3,199.4 L126.4,197.7 L125.5,196.0 L124.6,194.3 L123.7,192.6 L122.7,190.9 L121.7,189.2 L120.6,187.4 L119.2,185.2 L117.7,182.9 L116.1,180.5 L114.5,178.2 L112.9,175.8 L111.2,173.6 L109.6,171.5 L108.0,169.7 L106.8,168.4 L105.6,167.2 L104.5,166.1 L103.3,165.1 L102.1,164.1 L100.9,163.2 L99.8,162.3 L98.6,161.4 L97.6,160.8 L96.6,160.1 L95.6,159.5 L94.6,158.9 L93.7,158.3 L92.6,157.8 L91.6,157.4 L90.5,156.9 L89.2,156.5 L87.9,156.1 L86.5,155.8 L85.1,155.5 L83.6,155.3 L82.2,155.1 L80.8,155.0 L79.4,154.9 L78.1,154.8 L76.8,154.8 L75.5,154.9 L74.2,155.0 L72.9,155.1 L71.7,155.3 L70.4,155.5 L69.2,155.8 L68.0,156.2 L66.8,156.7 L65.6,157.3 L64.4,157.9 L63.3,158.5 L62.2,159.1 L61.1,159.8 L60.0,160.3 L59.2,160.8 L58.3,161.3 L57.5,161.7 L56.7,162.2 L55.9,162.6 L55.2,163.1 L54.5,163.5 L53.8,164.0 L53.2,164.4 L52.6,164.9 L52.1,165.3 L51.6,165.7 L51.1,166.1 L50.6,166.6 L50.1,167.0 L49.6,167.4" fill="none" stroke="#222" stroke-width="1.3" stroke-linejoin="round" stroke-dasharray="4,2.6"/>
<path d="M94.8,28.5H114.3" stroke="#000" stroke-width="1.7"/>
<text x="118.0" y="31.1" font-size="16.4" text-anchor="start" >Blank PBS</text>
<path d="M94.8,41.4H114.3" stroke="#0a3cff" stroke-width="1.6"/>
<text x="118.0" y="46.5" font-size="16.4" text-anchor="start" >50 &#956;M</text>
<path d="M94.8,55.7H114.3" stroke="#3a3a3a" stroke-width="1.4"/>
<text x="118.0" y="62.0" font-size="16.4" text-anchor="start" >100 &#956;M</text>
<path d="M94.8,71.7H114.3" stroke="#4433ff" stroke-width="1.9"/>
<text x="118.0" y="77.4" font-size="16.4" text-anchor="start" >200 &#956;M</text>
<path d="M94.8,87.4H114.3" stroke="#222" stroke-width="1.3" stroke-dasharray="4,2.6"/>
<text x="118.0" y="92.9" font-size="16.4" text-anchor="start" >500 &#956;M</text>
<rect x="215.4" y="126.8" width="116.99999999999997" height="91.10000000000001" fill="#fff"/>
<svg x="215.4" y="126.8" width="116.99999999999997" height="91.10000000000001" viewBox="215.4 126.8 116.99999999999997 91.10000000000001" overflow="hidden">
<path d="M212.5,212.2 L214.1,211.7 L215.7,211.1 L217.3,210.6 L218.9,210.0 L220.5,209.5 L222.1,208.9 L223.6,208.5 L225.2,208.0 L226.4,207.7 L227.6,207.4 L228.7,207.1 L229.9,206.9 L231.0,206.6 L232.2,206.4 L233.5,206.2 L234.9,206.0 L237.0,205.7 L239.3,205.5 L241.7,205.3 L244.2,205.1 L246.8,205.0 L249.4,204.8 L251.9,204.7 L254.4,204.6 L256.8,204.5 L259.3,204.4 L261.7,204.3 L264.1,204.2 L266.6,204.1 L269.0,204.0 L271.5,204.0 L273.9,203.9 L276.4,203.8 L278.9,203.8 L281.5,203.8 L284.1,203.8 L286.6,203.7 L289.0,203.6 L291.3,203.5 L293.4,203.2 L294.8,203.0 L296.1,202.7 L297.3,202.4 L298.5,202.1 L299.7,201.7 L300.8,201.3 L302.0,200.9 L303.1,200.4 L304.4,199.9 L305.7,199.3 L307.0,198.8 L308.2,198.1 L309.5,197.4 L310.7,196.7 L311.8,195.8 L312.9,194.9 L314.1,193.7 L315.1,192.5 L316.2,191.1 L317.2,189.6 L318.1,188.1 L319.0,186.5 L319.9,184.8 L320.7,183.1 L321.6,181.0 L322.5,178.8 L323.3,176.4 L324.0,174.0 L324.7,171.5 L325.4,169.1 L326.0,166.7 L326.5,164.5 L327.0,162.7 L327.4,160.9 L327.8,159.2 L328.1,157.5 L328.5,155.8 L328.8,154.1 L329.1,152.4 L329.5,150.6 L329.9,148.4 L330.3,145.8 L330.8,143.1 L331.2,140.3 L331.6,137.9 L331.9,135.9 L332.2,134.5 L332.4,134.0 L332.5,134.7 L332.4,136.5 L332.2,139.3 L332.0,142.6 L331.7,146.4 L331.4,150.3 L331.2,154.1 L331.0,157.6 L330.9,161.3 L330.8,165.1 L330.7,169.0 L330.6,173.0 L330.6,177.1 L330.5,181.2 L330.4,185.4 L330.3,189.6 L330.1,194.6 L329.8,199.7 L329.6,205.0 L329.3,210.3 L329.0,215.6 L328.7,220.9 L328.4,226.3 L328.1,231.6" fill="none" stroke="#000" stroke-width="1.8" stroke-linejoin="round"/>
<path d="M212.5,212.5 L214.1,212.1 L215.7,211.7 L217.3,211.3 L218.9,210.9 L220.5,210.5 L222.1,210.1 L223.6,209.8 L225.2,209.4 L226.4,209.1 L227.6,208.8 L228.7,208.6 L229.9,208.3 L231.0,208.0 L232.2,207.8 L233.5,207.6 L234.9,207.4 L237.0,207.1 L239.3,206.9 L241.7,206.7 L244.2,206.5 L246.8,206.3 L249.4,206.2 L251.9,206.1 L254.4,206.0 L256.8,205.9 L259.3,205.8 L261.7,205.8 L264.1,205.8 L266.6,205.8 L269.0,205.7 L271.5,205.7 L273.9,205.7 L276.4,205.7 L278.9,205.6 L281.5,205.6 L284.1,205.6 L286.6,205.6 L289.0,205.5 L291.3,205.4 L293.4,205.3 L294.8,205.2 L296.1,205.1 L297.3,204.9 L298.5,204.8 L299.7,204.6 L300.8,204.4 L302.0,204.2 L303.1,203.9 L304.4,203.5 L305.7,203.2 L307.0,202.8 L308.2,202.3 L309.5,201.8 L310.7,201.2 L311.8,200.5 L312.9,199.7 L314.1,198.7 L315.2,197.4 L316.2,196.0 L317.2,194.5 L318.1,193.0 L319.0,191.3 L319.9,189.7 L320.7,188.0 L321.6,185.9 L322.5,183.8 L323.3,181.5 L324.0,179.2 L324.7,176.8 L325.4,174.5 L326.0,172.2 L326.5,170.0 L327.0,168.2 L327.4,166.5 L327.8,164.8 L328.2,163.1 L328.5,161.4 L328.8,159.7 L329.1,158.0 L329.5,156.2 L329.9,153.8 L330.3,151.0 L330.8,148.0 L331.2,145.1 L331.6,142.4 L332.0,140.2 L332.2,138.7 L332.4,138.2 L332.4,138.7 L332.3,140.2 L332.2,142.4 L331.9,145.2 L331.7,148.2 L331.4,151.5 L331.2,154.6 L331.0,157.6 L330.9,161.1 L330.8,164.9 L330.7,168.8 L330.6,172.8 L330.6,176.9 L330.5,181.1 L330.4,185.4 L330.3,189.6 L330.1,194.6 L329.8,199.7 L329.6,205.0 L329.3,210.3 L329.0,215.6 L328.7,220.9 L328.4,226.3 L328.1,231.6" fill="none" stroke="#0a3cff" stroke-width="1.6" stroke-linejoin="round"/>
<path d="M212.5,212.1 L214.1,211.2 L215.7,210.2 L217.3,209.2 L218.9,208.2 L220.5,207.2 L222.1,206.3 L223.6,205.4 L225.2,204.6 L226.4,204.0 L227.6,203.4 L228.7,202.9 L229.9,202.4 L231.0,201.9 L232.2,201.4 L233.5,201.0 L234.9,200.4 L237.0,199.6 L239.3,198.8 L241.7,197.9 L244.2,197.0 L246.7,196.2 L249.3,195.4 L251.9,194.7 L254.4,194.2 L256.8,193.9 L259.2,193.7 L261.7,193.6 L264.1,193.7 L266.6,193.7 L269.0,193.7 L271.5,193.7 L273.9,193.5 L276.4,193.3 L278.9,193.0 L281.5,192.7 L284.1,192.4 L286.6,192.0 L289.0,191.7 L291.3,191.2 L293.4,190.8 L294.8,190.4 L296.1,190.0 L297.3,189.6 L298.5,189.2 L299.7,188.8 L300.8,188.3 L302.0,187.8 L303.1,187.3 L304.4,186.7 L305.7,186.2 L307.0,185.6 L308.2,184.9 L309.5,184.3 L310.7,183.5 L311.8,182.7 L312.9,181.8 L314.1,180.6 L315.1,179.3 L316.2,177.9 L317.2,176.5 L318.1,174.9 L319.0,173.3 L319.9,171.7 L320.7,170.0 L321.6,167.9 L322.5,165.7 L323.2,163.4 L324.0,161.0 L324.7,158.7 L325.3,156.3 L326.0,154.1 L326.5,152.0 L327.0,150.5 L327.4,149.1 L327.8,147.7 L328.1,146.3 L328.4,145.0 L328.8,143.7 L329.1,142.3 L329.5,140.9 L329.9,139.4 L330.3,137.7 L330.7,135.8 L331.1,134.0 L331.5,132.4 L331.9,131.1 L332.2,130.2 L332.4,129.9 L332.6,130.7 L332.5,132.9 L332.4,136.2 L332.1,140.2 L331.8,144.6 L331.5,149.2 L331.2,153.6 L331.0,157.6 L330.9,161.4 L330.8,165.3 L330.7,169.2 L330.6,173.2 L330.6,177.2 L330.5,181.3 L330.4,185.4 L330.3,189.6 L330.1,194.6 L329.8,199.7 L329.6,205.0 L329.3,210.3 L329.0,215.6 L328.7,220.9 L328.4,226.3 L328.1,231.6" fill="none" stroke="#3a3a3a" stroke-width="1.2" stroke-linejoin="round"/>
<path d="M212.5,211.8 L214.1,210.7 L215.7,209.4 L217.3,208.2 L218.9,206.9 L220.5,205.7 L222.1,204.6 L223.6,203.5 L225.2,202.5 L226.4,201.8 L227.6,201.1 L228.7,200.5 L229.8,199.9 L231.0,199.4 L232.2,198.8 L233.5,198.3 L234.9,197.7 L237.0,196.8 L239.3,195.8 L241.7,194.8 L244.2,193.9 L246.7,192.9 L249.3,192.1 L251.9,191.3 L254.4,190.8 L256.8,190.3 L259.2,190.1 L261.7,189.9 L264.1,189.8 L266.6,189.8 L269.0,189.7 L271.5,189.6 L273.9,189.4 L276.4,189.1 L278.9,188.8 L281.5,188.5 L284.1,188.2 L286.6,187.9 L289.0,187.5 L291.3,187.1 L293.4,186.6 L294.8,186.2 L296.1,185.9 L297.4,185.5 L298.6,185.2 L299.7,184.7 L300.9,184.3 L302.0,183.7 L303.1,183.1 L304.4,182.4 L305.7,181.6 L307.0,180.7 L308.2,179.8 L309.5,178.8 L310.7,177.8 L311.8,176.7 L312.9,175.5 L314.0,174.2 L315.1,172.8 L316.1,171.3 L317.1,169.7 L318.1,168.1 L319.0,166.5 L319.9,164.8 L320.7,163.1 L321.6,161.2 L322.4,159.2 L323.2,157.1 L323.9,155.0 L324.6,152.9 L325.3,150.9 L325.9,149.0 L326.5,147.2 L327.0,145.9 L327.4,144.8 L327.7,143.6 L328.1,142.5 L328.4,141.5 L328.8,140.4 L329.1,139.3 L329.5,138.2 L329.9,136.9 L330.3,135.3 L330.7,133.7 L331.1,132.1 L331.5,130.7 L331.9,129.5 L332.2,128.8 L332.4,128.5 L332.6,129.4 L332.6,131.7 L332.4,135.1 L332.2,139.4 L331.8,144.0 L331.5,148.8 L331.2,153.5 L331.0,157.6 L330.9,161.5 L330.8,165.4 L330.7,169.3 L330.6,173.2 L330.6,177.2 L330.5,181.3 L330.4,185.4 L330.3,189.6 L330.1,194.6 L329.8,199.7 L329.6,205.0 L329.3,210.3 L329.0,215.6 L328.7,220.9 L328.4,226.3 L328.1,231.6" fill="none" stroke="#4433ff" stroke-width="1.5" stroke-linejoin="round"/>
<path d="M212.5,211.7 L214.1,210.4 L215.7,209.2 L217.3,207.8 L218.9,206.5 L220.5,205.3 L222.1,204.0 L223.6,202.9 L225.2,201.8 L226.4,201.0 L227.5,200.2 L228.7,199.5 L229.8,198.8 L231.0,198.2 L232.2,197.6 L233.5,196.9 L234.9,196.3 L237.0,195.4 L239.3,194.5 L241.7,193.7 L244.2,192.8 L246.7,192.0 L249.3,191.3 L251.9,190.6 L254.4,190.1 L256.8,189.6 L259.2,189.3 L261.7,189.0 L264.1,188.8 L266.6,188.6 L269.0,188.5 L271.5,188.2 L273.9,188.0 L276.4,187.7 L278.9,187.4 L281.5,187.1 L284.1,186.8 L286.6,186.5 L289.0,186.1 L291.3,185.7 L293.4,185.2 L294.8,184.9 L296.1,184.5 L297.4,184.2 L298.6,183.8 L299.7,183.4 L300.9,182.9 L302.0,182.4 L303.1,181.8 L304.4,181.0 L305.7,180.2 L307.0,179.4 L308.2,178.4 L309.5,177.4 L310.7,176.4 L311.8,175.3 L312.9,174.2 L314.0,172.8 L315.1,171.4 L316.1,169.9 L317.1,168.3 L318.1,166.7 L319.0,165.1 L319.9,163.4 L320.7,161.7 L321.6,159.8 L322.4,157.8 L323.2,155.7 L323.9,153.6 L324.6,151.5 L325.3,149.5 L325.9,147.6 L326.5,145.8 L327.0,144.5 L327.4,143.4 L327.7,142.2 L328.1,141.1 L328.4,140.0 L328.8,139.0 L329.1,137.9 L329.5,136.8 L329.9,135.6 L330.3,134.3 L330.7,132.9 L331.1,131.5 L331.5,130.3 L331.9,129.4 L332.2,128.7 L332.4,128.5 L332.6,129.4 L332.6,131.7 L332.5,135.2 L332.2,139.4 L331.9,144.0 L331.5,148.9 L331.2,153.5 L331.0,157.6 L330.9,161.5 L330.8,165.4 L330.7,169.3 L330.6,173.2 L330.6,177.2 L330.5,181.3 L330.4,185.4 L330.3,189.6 L330.1,194.6 L329.8,199.7 L329.6,205.0 L329.3,210.3 L329.0,215.6 L328.7,220.9 L328.4,226.3 L328.1,231.6" fill="none" stroke="#222" stroke-width="1.3" stroke-linejoin="round" stroke-dasharray="4,2.6"/>
</svg>
<rect x="215.4" y="126.8" width="116.99999999999997" height="91.10000000000001" fill="none" stroke="#8a8a8a" stroke-width="0.9"/>
<path d="M234.9,217.9v-2.2M234.9,126.8v2.2M254.4,217.9v-2.2M254.4,126.8v2.2M273.9,217.9v-2.2M273.9,126.8v2.2M293.4,217.9v-2.2M293.4,126.8v2.2M312.9,217.9v-2.2M312.9,126.8v2.2M215.4,211.5h2.2M332.4,211.5h-2.2M215.4,197.7h2.2M332.4,197.7h-2.2M215.4,183.8h2.2M332.4,183.8h-2.2M215.4,170.0h2.2M332.4,170.0h-2.2M215.4,156.2h2.2M332.4,156.2h-2.2M215.4,142.3h2.2M332.4,142.3h-2.2M215.4,128.5h2.2M332.4,128.5h-2.2" stroke="#8a8a8a" stroke-width="0.81" fill="none"/>
<text x="215.4" y="224.2" font-size="7.2" text-anchor="middle" >0.4</text>
<text x="234.9" y="224.2" font-size="7.2" text-anchor="middle" >0.5</text>
<text x="254.4" y="224.2" font-size="7.2" text-anchor="middle" >0.6</text>
<text x="273.9" y="224.2" font-size="7.2" text-anchor="middle" >0.7</text>
<text x="293.4" y="224.2" font-size="7.2" text-anchor="middle" >0.8</text>
<text x="312.9" y="224.2" font-size="7.2" text-anchor="middle" >0.9</text>
<text x="333.9" y="224.2" font-size="7.2" text-anchor="middle" >1</text>
<text x="209.6" y="213.9" font-size="7.2" text-anchor="middle" >60</text>
<text x="209.6" y="200.1" font-size="7.2" text-anchor="middle" >70</text>
<text x="209.6" y="186.2" font-size="7.2" text-anchor="middle" >80</text>
<text x="209.6" y="172.4" font-size="7.2" text-anchor="middle" >90</text>
<text x="209.6" y="158.6" font-size="7.2" text-anchor="middle" >100</text>
<text x="209.6" y="144.7" font-size="7.2" text-anchor="middle" >110</text>
<text x="209.6" y="130.9" font-size="7.2" text-anchor="middle" >120</text>
<text transform="translate(203.0,231.2) rotate(-90)" font-size="9.8">Current density [&#956;A cm<tspan dy="-4" font-size="6.5">-2</tspan><tspan dy="4">]</tspan></text>
<text x="228.8" y="232.3" font-size="9.8" text-anchor="start" >Potential [V vs Ag/AgCl]</text>
<rect x="415.3" y="10.2" width="290.99999999999994" height="230.0" fill="none" stroke="#8a8a8a" stroke-width="1.1"/>
<path d="M456.9,240.2v-3.2M456.9,10.2v3.2M498.4,240.2v-3.2M498.4,10.2v3.2M540.0,240.2v-3.2M540.0,10.2v3.2M581.6,240.2v-3.2M581.6,10.2v3.2M623.2,240.2v-3.2M623.2,10.2v3.2M664.7,240.2v-3.2M664.7,10.2v3.2M415.3,211.4h3.2M706.3,211.4h-3.2M415.3,182.7h3.2M706.3,182.7h-3.2M415.3,153.9h3.2M706.3,153.9h-3.2M415.3,125.2h3.2M706.3,125.2h-3.2M415.3,96.4h3.2M706.3,96.4h-3.2M415.3,67.7h3.2M706.3,67.7h-3.2M415.3,38.9h3.2M706.3,38.9h-3.2" stroke="#8a8a8a" stroke-width="0.9900000000000001" fill="none"/>
<text x="417.4" y="255.8" font-size="16.4" text-anchor="middle" >-0.4</text>
<text x="459.0" y="255.8" font-size="16.4" text-anchor="middle" >-0.2</text>
<text x="496.3" y="255.8" font-size="16.4" text-anchor="middle" >0</text>
<text x="540.1" y="255.8" font-size="16.4" text-anchor="middle" >0.2</text>
<text x="584.7" y="255.8" font-size="16.4" text-anchor="middle" >0.4</text>
<text x="623.9" y="255.8" font-size="16.4" text-anchor="middle" >0.6</text>
<text x="668.1" y="255.8" font-size="16.4" text-anchor="middle" >0.8</text>
<text x="702.8" y="255.8" font-size="16.4" text-anchor="middle" >1</text>
<text x="396.8" y="12.3" font-size="16.4" text-anchor="middle" >150</text>
<text x="396.8" y="41.0" font-size="16.4" text-anchor="middle" >100</text>
<text x="395.4" y="69.8" font-size="16.4" text-anchor="middle" >50</text>
<text x="394.2" y="98.5" font-size="16.4" text-anchor="middle" >0</text>
<text x="396.5" y="127.3" font-size="16.4" text-anchor="middle" >-50</text>
<text x="397.2" y="156.0" font-size="16.4" text-anchor="middle" >-100</text>
<text x="397.4" y="184.8" font-size="16.4" text-anchor="middle" >-150</text>
<text x="397.4" y="213.5" font-size="16.4" text-anchor="middle" >-200</text>
<text x="397.4" y="242.3" font-size="16.4" text-anchor="middle" >-250</text>
<text transform="translate(373.3,207.3) rotate(-90)" font-size="16.4">Current density [&#956;A cm<tspan dy="-6" font-size="10.5">-2</tspan><tspan dy="6">]</tspan></text>
<text x="484.4" y="271.5" font-size="16.4" text-anchor="start" >Potential [V vs Ag/AgCl]</text>
<text x="428.7" y="35.8" font-size="26.5" text-anchor="start" >B</text>
<path d="M415.3,151.1 L415.4,150.8 L415.4,150.5 L415.5,150.2 L415.5,149.9 L415.6,149.6 L415.6,149.3 L415.7,148.9 L415.7,148.5 L415.8,147.7 L415.9,146.9 L416.1,145.9 L416.2,144.9 L416.3,143.8 L416.4,142.7 L416.6,141.7 L416.8,140.7 L416.9,139.7 L417.1,138.8 L417.2,137.8 L417.4,136.9 L417.5,136.0 L417.7,135.0 L418.0,134.1 L418.3,133.1 L418.7,132.0 L419.1,130.8 L419.6,129.7 L420.1,128.5 L420.6,127.4 L421.2,126.3 L421.8,125.3 L422.5,124.5 L423.1,123.9 L423.7,123.4 L424.3,122.9 L425.0,122.5 L425.6,122.2 L426.3,121.8 L427.0,121.5 L427.7,121.2 L428.3,120.9 L428.9,120.7 L429.5,120.5 L430.1,120.3 L430.8,120.1 L431.4,119.9 L432.1,119.7 L432.9,119.6 L434.0,119.3 L435.2,119.0 L436.6,118.8 L437.9,118.5 L439.3,118.2 L440.7,118.0 L442.1,117.7 L443.4,117.5 L444.7,117.2 L446.0,117.0 L447.2,116.7 L448.5,116.5 L449.8,116.2 L451.1,116.0 L452.5,115.7 L453.9,115.4 L455.7,114.9 L457.6,114.5 L459.6,114.0 L461.6,113.4 L463.6,112.9 L465.7,112.3 L467.8,111.8 L470.0,111.2 L472.5,110.5 L475.1,109.9 L477.7,109.2 L480.4,108.5 L483.1,107.7 L485.8,107.0 L488.5,106.2 L491.2,105.5 L493.9,104.7 L496.6,103.9 L499.3,103.1 L502.0,102.3 L504.6,101.4 L507.3,100.5 L509.9,99.6 L512.4,98.7 L514.6,97.7 L516.9,96.8 L519.1,95.8 L521.2,94.8 L523.3,93.8 L525.4,92.7 L527.4,91.7 L529.3,90.5 L530.8,89.5 L532.3,88.5 L533.7,87.4 L535.1,86.3 L536.5,85.2 L537.8,84.1 L539.2,83.0 L540.6,81.9 L542.0,80.8 L543.4,79.7 L544.8,78.6 L546.2,77.5 L547.7,76.5 L549.1,75.4 L550.5,74.4 L551.9,73.5 L553.1,72.6 L554.4,71.8 L555.6,71.1 L556.9,70.3 L558.1,69.6 L559.3,68.9 L560.6,68.3 L561.8,67.7 L562.8,67.3 L563.8,66.9 L564.8,66.6 L565.8,66.3 L566.8,66.0 L567.8,65.7 L568.9,65.4 L570.0,65.1 L571.3,64.8 L572.7,64.5 L574.2,64.1 L575.7,63.8 L577.2,63.5 L578.7,63.2 L580.1,62.9 L581.6,62.6 L582.9,62.4 L584.2,62.1 L585.5,61.8 L586.8,61.5 L588.1,61.2 L589.4,61.0 L590.7,60.7 L592.0,60.5 L593.2,60.3 L594.5,60.2 L595.7,60.0 L596.9,59.9 L598.2,59.7 L599.5,59.6 L600.9,59.5 L602.4,59.4 L604.6,59.2 L607.1,59.0 L609.6,58.8 L612.3,58.7 L615.0,58.5 L617.8,58.4 L620.5,58.3 L623.2,58.2 L625.8,58.2 L628.4,58.2 L631.0,58.2 L633.5,58.2 L636.1,58.2 L638.7,58.2 L641.3,58.2 L643.9,58.2 L646.6,58.2 L649.3,58.1 L652.1,58.0 L654.8,57.9 L657.5,57.8 L660.0,57.7 L662.5,57.6 L664.7,57.3 L666.2,57.2 L667.6,57.0 L668.9,56.9 L670.2,56.7 L671.4,56.5 L672.6,56.2 L673.9,56.0 L675.1,55.6 L676.4,55.3 L677.8,54.9 L679.1,54.4 L680.4,54.0 L681.7,53.4 L683.0,52.9 L684.3,52.3 L685.5,51.6 L686.9,50.8 L688.3,49.8 L689.7,48.8 L691.0,47.8 L692.4,46.7 L693.6,45.6 L694.8,44.6 L695.9,43.5 L696.7,42.8 L697.4,42.1 L698.1,41.4 L698.7,40.8 L699.3,40.1 L699.9,39.3 L700.5,38.6 L701.1,37.8 L701.8,36.7 L702.6,35.4 L703.3,33.9 L704.1,32.4 L704.8,31.1 L705.4,30.1 L705.9,29.4 L706.3,29.2 L706.6,29.9 L706.7,31.6 L706.5,34.1 L706.2,37.0 L705.9,40.2 L705.5,43.5 L705.1,46.5 L704.8,49.0 L704.7,50.8 L704.5,52.4 L704.4,54.0 L704.2,55.6 L704.1,57.1 L703.9,58.7 L703.7,60.3 L703.4,61.9 L703.2,63.9 L702.9,66.0 L702.6,68.1 L702.3,70.2 L701.9,72.3 L701.5,74.4 L701.1,76.3 L700.5,78.0 L700.1,79.3 L699.6,80.5 L699.2,81.6 L698.6,82.7 L698.1,83.8 L697.5,84.8 L696.8,85.7 L696.1,86.7 L695.4,87.5 L694.6,88.4 L693.8,89.1 L692.9,89.9 L692.0,90.6 L691.1,91.2 L690.0,91.9 L688.9,92.5 L687.4,93.2 L685.7,93.9 L683.9,94.4 L682.1,95.0 L680.2,95.5 L678.2,95.9 L676.3,96.4 L674.4,96.8 L672.6,97.2 L670.8,97.5 L668.9,97.8 L667.0,98.1 L665.2,98.4 L663.4,98.6 L661.6,98.8 L659.9,99.0 L658.7,99.1 L657.5,99.2 L656.4,99.3 L655.4,99.3 L654.2,99.4 L653.1,99.4 L651.8,99.5 L650.4,99.6 L647.6,99.8 L644.4,100.1 L640.9,100.4 L637.3,100.7 L633.5,101.0 L629.9,101.3 L626.4,101.6 L623.2,101.9 L620.8,102.1 L618.5,102.4 L616.2,102.6 L614.1,102.8 L611.9,103.0 L609.8,103.2 L607.8,103.5 L605.7,103.7 L603.9,103.9 L602.2,104.2 L600.6,104.4 L598.9,104.6 L597.3,104.9 L595.6,105.1 L593.8,105.4 L592.0,105.6 L589.4,106.0 L586.5,106.3 L583.5,106.6 L580.4,106.9 L577.4,107.2 L574.5,107.6 L571.9,108.0 L569.5,108.5 L568.2,108.9 L567.0,109.3 L565.9,109.7 L564.8,110.1 L563.8,110.5 L562.8,111.0 L561.8,111.5 L560.8,112.0 L559.8,112.5 L558.7,113.0 L557.7,113.6 L556.7,114.2 L555.7,114.8 L554.7,115.4 L553.7,116.1 L552.7,116.8 L551.4,117.7 L550.1,118.6 L548.8,119.6 L547.5,120.6 L546.1,121.7 L544.8,122.8 L543.5,124.0 L542.3,125.2 L541.0,126.6 L539.7,128.1 L538.4,129.6 L537.2,131.2 L536.0,132.8 L534.9,134.4 L533.8,136.1 L532.7,137.7 L531.8,139.2 L531.0,140.7 L530.2,142.2 L529.5,143.8 L528.8,145.3 L528.1,146.9 L527.4,148.6 L526.7,150.3 L525.9,152.3 L525.1,154.5 L524.3,156.8 L523.6,159.1 L522.8,161.4 L522.1,163.8 L521.4,166.2 L520.6,168.5 L519.9,171.1 L519.1,173.7 L518.4,176.4 L517.7,179.1 L517.0,181.8 L516.2,184.5 L515.5,187.1 L514.7,189.7 L514.0,192.2 L513.3,194.7 L512.6,197.2 L511.9,199.7 L511.1,202.2 L510.3,204.5 L509.5,206.6 L508.6,208.6 L508.0,210.0 L507.3,211.4 L506.5,212.7 L505.8,214.0 L505.0,215.1 L504.3,216.1 L503.5,217.0 L502.8,217.6 L502.3,217.9 L501.9,218.1 L501.4,218.3 L500.9,218.4 L500.5,218.5 L500.0,218.5 L499.6,218.4 L499.1,218.3 L498.6,218.1 L498.0,217.7 L497.4,217.2 L496.8,216.7 L496.3,216.0 L495.7,215.4 L495.1,214.7 L494.5,214.1 L493.8,213.2 L493.1,212.3 L492.3,211.4 L491.6,210.4 L490.9,209.4 L490.1,208.3 L489.4,207.3 L488.6,206.3 L487.8,205.2 L487.0,204.0 L486.2,202.9 L485.4,201.7 L484.6,200.6 L483.8,199.4 L482.9,198.2 L482.0,197.1 L481.0,195.8 L480.0,194.5 L479.0,193.2 L477.9,191.9 L476.8,190.6 L475.7,189.3 L474.6,188.0 L473.5,186.7 L472.4,185.5 L471.4,184.2 L470.4,183.0 L469.3,181.7 L468.2,180.5 L467.1,179.3 L466.0,178.1 L464.8,176.9 L463.4,175.7 L462.0,174.5 L460.5,173.3 L459.0,172.2 L457.4,171.0 L455.8,169.9 L454.3,168.8 L452.7,167.8 L451.2,166.7 L449.6,165.7 L448.1,164.7 L446.5,163.7 L444.9,162.7 L443.3,161.8 L441.8,161.0 L440.2,160.3 L438.9,159.7 L437.6,159.1 L436.4,158.6 L435.1,158.1 L433.8,157.6 L432.5,157.3 L431.3,157.0 L430.1,156.8 L429.0,156.8 L427.8,156.8 L426.7,156.8 L425.7,157.0 L424.6,157.2 L423.5,157.4 L422.5,157.7 L421.5,158.0 L420.7,158.3 L419.9,158.7 L419.1,159.1 L418.3,159.6 L417.6,160.0 L416.8,160.5 L416.1,161.0 L415.3,161.4" fill="none" stroke="#000" stroke-width="1.8" stroke-linejoin="round"/>
<path d="M415.3,151.1 L415.4,150.7 L415.4,150.4 L415.4,150.1 L415.5,149.7 L415.5,149.4 L415.6,149.0 L415.7,148.6 L415.7,148.2 L415.8,147.3 L415.9,146.4 L416.1,145.3 L416.2,144.2 L416.3,143.0 L416.4,141.8 L416.6,140.7 L416.8,139.6 L416.9,138.6 L417.1,137.5 L417.2,136.5 L417.4,135.5 L417.5,134.5 L417.7,133.5 L418.0,132.5 L418.3,131.5 L418.7,130.4 L419.1,129.2 L419.6,128.1 L420.1,126.9 L420.6,125.8 L421.2,124.7 L421.8,123.7 L422.5,122.9 L423.1,122.3 L423.7,121.8 L424.3,121.4 L425.0,121.0 L425.6,120.7 L426.3,120.3 L427.0,120.0 L427.7,119.7 L428.3,119.5 L428.9,119.3 L429.5,119.1 L430.1,118.9 L430.8,118.8 L431.4,118.6 L432.1,118.5 L432.9,118.3 L434.0,118.1 L435.3,117.9 L436.6,117.6 L437.9,117.4 L439.3,117.2 L440.7,117.0 L442.1,116.8 L443.4,116.6 L444.7,116.3 L446.0,116.1 L447.2,115.9 L448.5,115.7 L449.8,115.4 L451.1,115.1 L452.5,114.9 L453.9,114.6 L455.7,114.1 L457.6,113.7 L459.6,113.2 L461.6,112.7 L463.6,112.2 L465.7,111.6 L467.8,111.1 L470.0,110.5 L472.5,109.9 L475.1,109.3 L477.7,108.6 L480.4,107.9 L483.1,107.2 L485.8,106.5 L488.5,105.8 L491.2,105.1 L493.9,104.3 L496.6,103.6 L499.3,102.8 L502.0,102.0 L504.6,101.2 L507.3,100.3 L509.9,99.4 L512.4,98.5 L514.6,97.6 L516.9,96.6 L519.1,95.7 L521.2,94.7 L523.3,93.7 L525.4,92.6 L527.4,91.5 L529.3,90.4 L530.8,89.4 L532.3,88.4 L533.7,87.3 L535.1,86.2 L536.5,85.1 L537.8,84.0 L539.2,82.9 L540.6,81.8 L542.0,80.7 L543.4,79.6 L544.8,78.5 L546.2,77.4 L547.7,76.4 L549.1,75.3 L550.5,74.3 L551.9,73.4 L553.1,72.6 L554.4,71.8 L555.6,71.0 L556.9,70.3 L558.1,69.5 L559.3,68.9 L560.6,68.3 L561.8,67.7 L562.8,67.3 L563.8,66.9 L564.8,66.5 L565.8,66.2 L566.8,65.9 L567.8,65.6 L568.9,65.3 L570.0,65.1 L571.3,64.9 L572.7,64.8 L574.2,64.7 L575.7,64.6 L577.2,64.5 L578.7,64.5 L580.2,64.4 L581.6,64.2 L582.9,64.1 L584.2,63.9 L585.5,63.6 L586.8,63.4 L588.1,63.2 L589.4,62.9 L590.7,62.7 L592.0,62.5 L593.3,62.3 L594.5,62.2 L595.7,62.0 L596.9,61.9 L598.2,61.7 L599.5,61.6 L600.9,61.5 L602.4,61.4 L604.6,61.2 L607.1,61.1 L609.6,61.0 L612.3,61.0 L615.0,60.9 L617.8,60.9 L620.5,60.8 L623.2,60.8 L625.8,60.8 L628.4,60.8 L631.0,60.8 L633.6,60.8 L636.1,60.8 L638.7,60.8 L641.3,60.8 L643.9,60.8 L646.6,60.7 L649.3,60.7 L652.1,60.6 L654.8,60.5 L657.5,60.4 L660.0,60.3 L662.5,60.1 L664.7,59.9 L666.2,59.8 L667.6,59.6 L668.9,59.4 L670.2,59.2 L671.4,59.0 L672.6,58.8 L673.9,58.5 L675.1,58.2 L676.4,57.9 L677.7,57.6 L679.1,57.3 L680.4,56.9 L681.7,56.6 L683.0,56.1 L684.3,55.6 L685.5,55.0 L686.9,54.3 L688.3,53.5 L689.7,52.6 L691.0,51.6 L692.4,50.6 L693.6,49.5 L694.8,48.5 L695.9,47.6 L696.7,46.9 L697.4,46.2 L698.1,45.5 L698.7,44.8 L699.3,44.1 L699.9,43.4 L700.5,42.6 L701.1,41.8 L701.8,40.7 L702.6,39.4 L703.4,37.9 L704.1,36.5 L704.8,35.2 L705.4,34.1 L705.9,33.4 L706.3,33.2 L706.5,33.8 L706.6,35.1 L706.4,37.0 L706.1,39.4 L705.8,41.9 L705.4,44.5 L705.1,46.9 L704.8,49.0 L704.7,50.7 L704.5,52.3 L704.4,53.9 L704.2,55.5 L704.0,57.1 L703.9,58.7 L703.7,60.3 L703.4,61.9 L703.2,63.9 L702.9,66.0 L702.6,68.1 L702.3,70.2 L701.9,72.3 L701.5,74.4 L701.1,76.3 L700.5,78.0 L700.1,79.3 L699.6,80.5 L699.2,81.6 L698.6,82.7 L698.1,83.8 L697.5,84.8 L696.8,85.7 L696.1,86.7 L695.4,87.5 L694.6,88.4 L693.8,89.1 L692.9,89.9 L692.0,90.6 L691.1,91.2 L690.0,91.9 L688.9,92.5 L687.4,93.2 L685.7,93.9 L683.9,94.4 L682.1,95.0 L680.2,95.5 L678.2,95.9 L676.3,96.4 L674.4,96.8 L672.6,97.2 L670.8,97.5 L668.9,97.8 L667.0,98.1 L665.2,98.4 L663.4,98.6 L661.6,98.8 L659.9,99.0 L658.7,99.1 L657.5,99.2 L656.4,99.3 L655.4,99.3 L654.2,99.4 L653.1,99.4 L651.8,99.5 L650.4,99.6 L647.6,99.8 L644.4,100.1 L640.9,100.4 L637.3,100.7 L633.5,101.0 L629.9,101.3 L626.4,101.6 L623.2,101.9 L620.8,102.1 L618.5,102.4 L616.2,102.6 L614.1,102.8 L611.9,103.0 L609.8,103.2 L607.8,103.5 L605.7,103.7 L603.9,103.9 L602.2,104.2 L600.6,104.4 L598.9,104.6 L597.3,104.9 L595.6,105.1 L593.8,105.4 L592.0,105.6 L589.4,106.0 L586.5,106.3 L583.5,106.6 L580.4,106.9 L577.4,107.2 L574.5,107.6 L571.9,108.0 L569.5,108.5 L568.2,108.9 L567.0,109.3 L565.9,109.7 L564.8,110.1 L563.8,110.5 L562.8,111.0 L561.8,111.5 L560.8,112.0 L559.8,112.5 L558.7,113.0 L557.7,113.6 L556.7,114.2 L555.7,114.8 L554.7,115.4 L553.7,116.1 L552.7,116.8 L551.4,117.7 L550.1,118.6 L548.8,119.6 L547.5,120.6 L546.1,121.7 L544.8,122.8 L543.5,124.0 L542.3,125.2 L541.0,126.6 L539.7,128.0 L538.4,129.6 L537.2,131.1 L536.0,132.7 L534.9,134.3 L533.8,136.0 L532.7,137.6 L531.8,139.1 L531.0,140.6 L530.2,142.1 L529.5,143.6 L528.8,145.1 L528.1,146.7 L527.4,148.3 L526.7,150.0 L525.9,152.1 L525.0,154.3 L524.2,156.5 L523.4,158.8 L522.6,161.1 L521.8,163.4 L521.0,165.8 L520.2,168.2 L519.4,170.7 L518.5,173.4 L517.7,176.0 L516.8,178.7 L516.0,181.4 L515.1,184.0 L514.3,186.7 L513.4,189.2 L512.6,191.7 L511.8,194.2 L510.9,196.7 L510.1,199.2 L509.3,201.6 L508.4,203.9 L507.4,206.0 L506.4,207.8 L505.6,209.1 L504.8,210.3 L503.9,211.4 L503.0,212.5 L502.1,213.5 L501.2,214.3 L500.4,214.9 L499.6,215.4 L499.1,215.6 L498.7,215.7 L498.3,215.8 L497.8,215.8 L497.4,215.8 L497.0,215.8 L496.6,215.7 L496.2,215.5 L495.7,215.3 L495.2,215.0 L494.7,214.7 L494.2,214.2 L493.7,213.8 L493.2,213.3 L492.7,212.8 L492.2,212.2 L491.6,211.6 L490.9,210.8 L490.3,210.0 L489.7,209.2 L489.0,208.4 L488.4,207.5 L487.7,206.6 L487.1,205.7 L486.4,204.6 L485.7,203.5 L485.0,202.4 L484.4,201.2 L483.7,200.0 L483.0,198.9 L482.2,197.7 L481.4,196.5 L480.5,195.2 L479.6,193.9 L478.6,192.6 L477.6,191.3 L476.6,190.0 L475.6,188.7 L474.5,187.4 L473.5,186.1 L472.5,184.9 L471.4,183.6 L470.4,182.4 L469.3,181.2 L468.3,179.9 L467.1,178.7 L466.0,177.5 L464.8,176.4 L463.4,175.1 L462.0,173.9 L460.5,172.8 L459.0,171.6 L457.4,170.4 L455.8,169.3 L454.3,168.2 L452.7,167.2 L451.2,166.1 L449.6,165.1 L448.1,164.1 L446.5,163.1 L444.9,162.2 L443.3,161.3 L441.8,160.4 L440.2,159.7 L438.9,159.1 L437.6,158.5 L436.4,158.0 L435.1,157.5 L433.8,157.1 L432.5,156.7 L431.3,156.4 L430.1,156.2 L429.0,156.2 L427.8,156.2 L426.7,156.3 L425.7,156.4 L424.6,156.6 L423.5,156.8 L422.5,157.1 L421.5,157.4 L420.7,157.7 L419.9,158.1 L419.1,158.5 L418.3,159.0 L417.6,159.5 L416.8,159.9 L416.1,160.4 L415.3,160.8" fill="none" stroke="#0a3cff" stroke-width="1.6" stroke-linejoin="round"/>
<path d="M415.3,151.1 L415.4,150.8 L415.4,150.5 L415.5,150.3 L415.5,150.0 L415.6,149.7 L415.6,149.4 L415.7,149.1 L415.7,148.8 L415.8,148.1 L415.9,147.2 L416.1,146.4 L416.2,145.4 L416.3,144.4 L416.5,143.5 L416.6,142.5 L416.8,141.6 L416.9,140.7 L417.1,139.8 L417.2,138.9 L417.4,138.0 L417.5,137.1 L417.8,136.2 L418.0,135.3 L418.3,134.4 L418.7,133.3 L419.1,132.1 L419.6,131.0 L420.1,129.8 L420.6,128.6 L421.2,127.6 L421.8,126.6 L422.5,125.7 L423.1,125.2 L423.7,124.6 L424.3,124.2 L425.0,123.7 L425.6,123.4 L426.3,123.0 L427.0,122.7 L427.7,122.3 L428.3,122.0 L428.9,121.8 L429.5,121.6 L430.1,121.4 L430.8,121.2 L431.4,121.0 L432.1,120.8 L432.9,120.6 L434.0,120.3 L435.2,120.0 L436.6,119.7 L437.9,119.4 L439.3,119.1 L440.7,118.8 L442.1,118.5 L443.4,118.2 L444.7,117.9 L446.0,117.6 L447.2,117.4 L448.5,117.1 L449.8,116.9 L451.1,116.6 L452.5,116.3 L453.9,116.0 L455.7,115.6 L457.6,115.1 L459.6,114.6 L461.6,114.0 L463.6,113.5 L465.7,112.9 L467.8,112.3 L470.0,111.7 L472.5,111.0 L475.1,110.3 L477.7,109.6 L480.4,108.9 L483.1,108.1 L485.8,107.3 L488.5,106.6 L491.2,105.8 L493.9,105.0 L496.6,104.1 L499.3,103.3 L502.0,102.5 L504.6,101.6 L507.3,100.7 L509.9,99.8 L512.4,98.8 L514.6,97.9 L516.9,96.9 L519.1,95.9 L521.2,94.9 L523.3,93.9 L525.4,92.8 L527.4,91.8 L529.3,90.6 L530.8,89.6 L532.3,88.6 L533.7,87.5 L535.1,86.4 L536.5,85.3 L537.8,84.1 L539.2,83.0 L540.6,82.0 L542.0,80.9 L543.4,79.8 L544.8,78.7 L546.2,77.6 L547.7,76.5 L549.1,75.5 L550.5,74.5 L551.9,73.5 L553.1,72.7 L554.4,71.9 L555.6,71.1 L556.9,70.4 L558.1,69.6 L559.3,69.0 L560.6,68.3 L561.8,67.8 L562.8,67.3 L563.8,66.9 L564.8,66.6 L565.8,66.2 L566.8,65.9 L567.8,65.6 L568.9,65.4 L570.0,65.2 L571.3,65.0 L572.7,64.8 L574.2,64.7 L575.7,64.7 L577.2,64.6 L578.7,64.6 L580.2,64.5 L581.6,64.4 L582.9,64.2 L584.2,64.0 L585.5,63.8 L586.8,63.6 L588.1,63.4 L589.4,63.2 L590.7,63.0 L592.0,62.8 L593.3,62.6 L594.5,62.5 L595.7,62.3 L596.9,62.2 L598.2,62.0 L599.5,61.9 L600.9,61.8 L602.4,61.7 L604.6,61.5 L607.1,61.4 L609.6,61.3 L612.3,61.3 L615.0,61.2 L617.8,61.2 L620.5,61.1 L623.2,61.1 L625.8,61.1 L628.4,61.1 L631.0,61.1 L633.6,61.1 L636.1,61.1 L638.7,61.1 L641.3,61.1 L643.9,61.1 L646.6,61.0 L649.3,61.0 L652.1,60.9 L654.8,60.8 L657.5,60.7 L660.0,60.6 L662.5,60.4 L664.7,60.2 L666.2,60.1 L667.6,59.9 L668.9,59.7 L670.2,59.5 L671.4,59.3 L672.6,59.0 L673.9,58.8 L675.1,58.5 L676.4,58.2 L677.7,57.9 L679.1,57.7 L680.4,57.3 L681.7,57.0 L683.0,56.6 L684.2,56.2 L685.5,55.6 L686.9,55.0 L688.3,54.2 L689.7,53.3 L691.0,52.4 L692.3,51.5 L693.6,50.5 L694.8,49.6 L695.9,48.7 L696.7,48.1 L697.4,47.5 L698.0,46.8 L698.7,46.2 L699.3,45.6 L699.9,44.9 L700.5,44.3 L701.1,43.5 L701.8,42.6 L702.6,41.6 L703.3,40.4 L704.1,39.2 L704.8,38.2 L705.4,37.3 L705.9,36.8 L706.3,36.6 L706.5,37.1 L706.5,38.2 L706.4,39.6 L706.1,41.4 L705.8,43.4 L705.4,45.4 L705.1,47.3 L704.8,49.0 L704.7,50.6 L704.5,52.2 L704.4,53.8 L704.2,55.4 L704.0,57.0 L703.9,58.6 L703.7,60.3 L703.4,61.9 L703.2,63.9 L702.9,66.0 L702.6,68.1 L702.3,70.2 L701.9,72.3 L701.5,74.4 L701.1,76.3 L700.5,78.0 L700.1,79.3 L699.6,80.5 L699.2,81.6 L698.6,82.7 L698.1,83.8 L697.5,84.8 L696.8,85.7 L696.1,86.7 L695.4,87.5 L694.6,88.4 L693.8,89.1 L692.9,89.9 L692.0,90.6 L691.1,91.2 L690.0,91.9 L688.9,92.5 L687.4,93.2 L685.7,93.9 L683.9,94.4 L682.1,95.0 L680.2,95.5 L678.2,95.9 L676.3,96.4 L674.4,96.8 L672.6,97.2 L670.8,97.5 L668.9,97.8 L667.0,98.1 L665.2,98.4 L663.4,98.6 L661.6,98.8 L659.9,99.0 L658.7,99.1 L657.5,99.2 L656.4,99.3 L655.4,99.3 L654.2,99.4 L653.1,99.4 L651.8,99.5 L650.4,99.6 L647.6,99.8 L644.4,100.1 L640.9,100.4 L637.3,100.7 L633.5,101.0 L629.9,101.3 L626.4,101.6 L623.2,101.9 L620.8,102.1 L618.5,102.4 L616.2,102.6 L614.1,102.8 L611.9,103.0 L609.8,103.2 L607.8,103.5 L605.7,103.7 L603.9,103.9 L602.2,104.2 L600.6,104.4 L598.9,104.6 L597.3,104.9 L595.6,105.1 L593.8,105.4 L592.0,105.6 L589.4,106.0 L586.5,106.3 L583.5,106.6 L580.4,106.9 L577.4,107.2 L574.5,107.6 L571.9,108.0 L569.5,108.5 L568.2,108.9 L567.0,109.3 L565.9,109.7 L564.8,110.1 L563.8,110.5 L562.8,111.0 L561.8,111.5 L560.8,112.0 L559.8,112.5 L558.7,113.0 L557.7,113.6 L556.7,114.2 L555.7,114.8 L554.7,115.4 L553.7,116.1 L552.7,116.8 L551.4,117.7 L550.1,118.6 L548.8,119.6 L547.4,120.6 L546.1,121.7 L544.8,122.8 L543.5,124.0 L542.3,125.2 L541.0,126.7 L539.7,128.2 L538.4,129.9 L537.2,131.6 L536.0,133.3 L534.9,135.0 L533.8,136.8 L532.7,138.5 L531.8,140.1 L531.0,141.7 L530.2,143.3 L529.5,144.9 L528.8,146.5 L528.1,148.2 L527.4,149.9 L526.7,151.7 L525.9,153.9 L525.1,156.2 L524.3,158.5 L523.5,160.9 L522.7,163.3 L522.0,165.8 L521.2,168.2 L520.5,170.7 L519.7,173.4 L518.9,176.1 L518.1,178.8 L517.4,181.6 L516.6,184.4 L515.8,187.1 L515.0,189.9 L514.2,192.6 L513.5,195.1 L512.7,197.7 L512.0,200.3 L511.2,202.9 L510.4,205.4 L509.6,207.8 L508.7,210.0 L507.8,212.0 L507.1,213.4 L506.3,214.7 L505.5,216.0 L504.8,217.2 L503.9,218.3 L503.1,219.3 L502.3,220.1 L501.6,220.6 L501.1,220.9 L500.7,221.1 L500.2,221.2 L499.8,221.3 L499.3,221.4 L498.9,221.4 L498.5,221.3 L498.0,221.2 L497.5,221.0 L496.9,220.6 L496.4,220.2 L495.8,219.7 L495.3,219.1 L494.8,218.5 L494.2,217.8 L493.7,217.2 L493.0,216.4 L492.3,215.5 L491.6,214.6 L490.9,213.7 L490.2,212.7 L489.5,211.7 L488.8,210.7 L488.1,209.7 L487.3,208.6 L486.5,207.5 L485.8,206.4 L485.0,205.2 L484.3,204.0 L483.5,202.9 L482.7,201.7 L481.8,200.5 L480.9,199.2 L479.9,197.9 L478.8,196.6 L477.8,195.3 L476.7,194.0 L475.6,192.7 L474.6,191.4 L473.5,190.2 L472.4,188.9 L471.4,187.7 L470.4,186.4 L469.3,185.2 L468.2,184.0 L467.1,182.7 L466.0,181.6 L464.8,180.4 L463.4,179.2 L462.0,178.0 L460.5,176.8 L459.0,175.6 L457.4,174.5 L455.8,173.4 L454.3,172.3 L452.7,171.2 L451.2,170.2 L449.6,169.1 L448.1,168.1 L446.5,167.1 L444.9,166.2 L443.3,165.3 L441.8,164.5 L440.2,163.7 L438.9,163.1 L437.6,162.6 L436.4,162.0 L435.1,161.5 L433.8,161.1 L432.5,160.7 L431.3,160.4 L430.1,160.3 L429.0,160.2 L427.8,160.2 L426.7,160.3 L425.7,160.4 L424.6,160.6 L423.5,160.8 L422.5,161.1 L421.5,161.4 L420.7,161.7 L419.9,162.1 L419.1,162.6 L418.3,163.0 L417.6,163.5 L416.8,164.0 L416.1,164.4 L415.3,164.9" fill="none" stroke="#3a3a3a" stroke-width="1.2" stroke-linejoin="round"/>
<path d="M415.3,151.1 L415.4,150.8 L415.4,150.6 L415.5,150.4 L415.5,150.2 L415.6,150.0 L415.6,149.7 L415.7,149.4 L415.7,149.1 L415.8,148.5 L415.9,147.8 L416.1,147.1 L416.2,146.3 L416.3,145.4 L416.5,144.6 L416.6,143.7 L416.8,142.9 L416.9,142.1 L417.1,141.3 L417.2,140.4 L417.4,139.6 L417.6,138.8 L417.8,138.0 L418.0,137.1 L418.3,136.3 L418.7,135.2 L419.1,134.1 L419.6,132.9 L420.1,131.7 L420.6,130.6 L421.2,129.5 L421.8,128.5 L422.5,127.6 L423.1,127.0 L423.7,126.5 L424.3,126.0 L425.0,125.6 L425.6,125.2 L426.3,124.8 L427.0,124.4 L427.7,124.1 L428.3,123.7 L428.9,123.5 L429.5,123.2 L430.1,123.0 L430.8,122.8 L431.4,122.5 L432.1,122.3 L432.9,122.1 L434.0,121.7 L435.2,121.4 L436.5,121.0 L437.9,120.6 L439.3,120.3 L440.7,119.9 L442.1,119.6 L443.4,119.2 L444.7,118.9 L446.0,118.7 L447.2,118.4 L448.5,118.1 L449.8,117.9 L451.1,117.6 L452.5,117.3 L453.9,117.0 L455.7,116.5 L457.6,116.0 L459.6,115.5 L461.6,114.9 L463.6,114.3 L465.7,113.7 L467.8,113.1 L470.0,112.5 L472.5,111.8 L475.1,111.1 L477.7,110.3 L480.4,109.5 L483.1,108.7 L485.8,107.9 L488.5,107.1 L491.2,106.2 L493.9,105.4 L496.6,104.5 L499.3,103.7 L502.0,102.8 L504.6,101.9 L507.3,101.0 L509.9,100.0 L512.4,99.0 L514.6,98.1 L516.9,97.1 L519.1,96.1 L521.2,95.1 L523.3,94.1 L525.4,93.0 L527.4,91.9 L529.3,90.8 L530.8,89.8 L532.3,88.7 L533.7,87.6 L535.1,86.5 L536.5,85.4 L537.8,84.3 L539.2,83.2 L540.6,82.1 L542.0,81.0 L543.4,79.9 L544.8,78.8 L546.2,77.7 L547.7,76.6 L549.1,75.6 L550.5,74.6 L551.9,73.6 L553.1,72.8 L554.4,72.0 L555.6,71.2 L556.9,70.4 L558.1,69.7 L559.3,69.0 L560.6,68.4 L561.8,67.8 L562.8,67.4 L563.8,67.0 L564.8,66.6 L565.8,66.3 L566.8,65.9 L567.8,65.7 L568.9,65.4 L570.0,65.2 L571.3,65.0 L572.7,64.9 L574.2,64.8 L575.7,64.8 L577.2,64.7 L578.7,64.7 L580.2,64.6 L581.6,64.5 L582.9,64.4 L584.2,64.2 L585.5,64.0 L586.8,63.9 L588.1,63.7 L589.4,63.5 L590.7,63.3 L592.0,63.1 L593.3,62.9 L594.5,62.8 L595.7,62.6 L596.9,62.5 L598.2,62.3 L599.5,62.2 L600.9,62.1 L602.4,61.9 L604.6,61.8 L607.1,61.7 L609.6,61.6 L612.3,61.6 L615.0,61.5 L617.8,61.4 L620.5,61.4 L623.2,61.4 L625.8,61.4 L628.4,61.4 L631.0,61.4 L633.6,61.4 L636.1,61.4 L638.7,61.4 L641.3,61.4 L643.9,61.4 L646.6,61.3 L649.3,61.3 L652.1,61.2 L654.8,61.1 L657.5,61.0 L660.0,60.9 L662.5,60.7 L664.7,60.5 L666.2,60.3 L667.6,60.2 L668.9,60.0 L670.2,59.8 L671.4,59.5 L672.6,59.3 L673.9,59.0 L675.1,58.8 L676.4,58.5 L677.7,58.3 L679.1,58.0 L680.4,57.7 L681.7,57.4 L683.0,57.1 L684.2,56.7 L685.5,56.2 L686.9,55.6 L688.3,54.9 L689.6,54.1 L691.0,53.3 L692.3,52.4 L693.6,51.5 L694.8,50.7 L695.9,49.9 L696.7,49.3 L697.4,48.7 L698.0,48.2 L698.7,47.6 L699.3,47.1 L699.9,46.5 L700.5,45.9 L701.1,45.3 L701.8,44.5 L702.6,43.5 L703.4,42.4 L704.1,41.3 L704.8,40.3 L705.4,39.5 L705.9,39.1 L706.3,38.9 L706.5,39.3 L706.5,40.2 L706.3,41.3 L706.0,42.8 L705.7,44.4 L705.4,46.0 L705.1,47.6 L704.8,49.0 L704.7,50.5 L704.5,52.1 L704.3,53.7 L704.2,55.3 L704.0,56.9 L703.9,58.6 L703.7,60.3 L703.4,61.9 L703.2,63.9 L702.9,66.0 L702.6,68.1 L702.3,70.2 L701.9,72.3 L701.5,74.4 L701.1,76.3 L700.5,78.0 L700.1,79.3 L699.6,80.5 L699.2,81.6 L698.6,82.7 L698.1,83.8 L697.5,84.8 L696.8,85.7 L696.1,86.7 L695.4,87.5 L694.6,88.4 L693.8,89.1 L692.9,89.9 L692.0,90.6 L691.1,91.2 L690.0,91.9 L688.9,92.5 L687.4,93.2 L685.7,93.9 L683.9,94.4 L682.1,95.0 L680.2,95.5 L678.2,95.9 L676.3,96.4 L674.4,96.8 L672.6,97.2 L670.8,97.5 L668.9,97.8 L667.0,98.1 L665.2,98.4 L663.4,98.6 L661.6,98.8 L659.9,99.0 L658.7,99.1 L657.5,99.2 L656.4,99.3 L655.4,99.3 L654.2,99.4 L653.1,99.4 L651.8,99.5 L650.4,99.6 L647.6,99.8 L644.4,100.1 L640.9,100.4 L637.3,100.7 L633.5,101.0 L629.9,101.3 L626.4,101.6 L623.2,101.9 L620.8,102.1 L618.5,102.4 L616.2,102.6 L614.1,102.8 L611.9,103.0 L609.8,103.2 L607.8,103.5 L605.7,103.7 L603.9,103.9 L602.2,104.2 L600.6,104.4 L598.9,104.6 L597.3,104.9 L595.6,105.1 L593.8,105.4 L592.0,105.6 L589.4,106.0 L586.5,106.3 L583.5,106.6 L580.4,106.9 L577.4,107.2 L574.5,107.6 L571.9,108.0 L569.5,108.5 L568.2,108.9 L567.0,109.3 L565.9,109.7 L564.8,110.1 L563.8,110.5 L562.8,111.0 L561.8,111.5 L560.8,112.0 L559.8,112.5 L558.7,113.0 L557.7,113.6 L556.7,114.2 L555.7,114.8 L554.7,115.4 L553.7,116.1 L552.7,116.8 L551.4,117.7 L550.1,118.6 L548.8,119.6 L547.4,120.6 L546.1,121.7 L544.8,122.8 L543.5,124.0 L542.3,125.2 L541.0,126.7 L539.7,128.3 L538.4,129.9 L537.2,131.6 L536.0,133.4 L534.9,135.2 L533.8,137.0 L532.7,138.7 L531.8,140.3 L531.0,142.0 L530.2,143.6 L529.5,145.2 L528.8,146.9 L528.1,148.5 L527.4,150.3 L526.7,152.1 L525.9,154.3 L525.0,156.6 L524.2,158.9 L523.4,161.3 L522.6,163.8 L521.8,166.3 L521.1,168.8 L520.3,171.2 L519.4,173.9 L518.6,176.7 L517.8,179.4 L516.9,182.2 L516.1,185.0 L515.3,187.8 L514.4,190.6 L513.6,193.3 L512.8,195.8 L511.9,198.5 L511.1,201.1 L510.3,203.7 L509.5,206.2 L508.6,208.7 L507.7,210.9 L506.7,212.9 L505.9,214.4 L505.1,215.7 L504.2,217.1 L503.4,218.3 L502.5,219.5 L501.6,220.5 L500.8,221.3 L500.0,221.9 L499.5,222.2 L499.1,222.4 L498.7,222.6 L498.2,222.7 L497.8,222.8 L497.4,222.8 L497.0,222.7 L496.5,222.6 L496.0,222.4 L495.5,222.0 L495.0,221.5 L494.5,221.0 L494.0,220.4 L493.5,219.7 L493.0,219.0 L492.5,218.4 L491.9,217.5 L491.2,216.6 L490.6,215.7 L489.9,214.7 L489.3,213.7 L488.6,212.6 L488.0,211.6 L487.3,210.6 L486.6,209.5 L485.9,208.4 L485.2,207.2 L484.5,206.1 L483.8,204.9 L483.1,203.7 L482.3,202.6 L481.5,201.4 L480.6,200.1 L479.6,198.8 L478.7,197.5 L477.7,196.2 L476.6,194.9 L475.6,193.6 L474.5,192.3 L473.5,191.0 L472.5,189.8 L471.4,188.5 L470.4,187.3 L469.3,186.0 L468.2,184.8 L467.1,183.6 L466.0,182.4 L464.8,181.3 L463.4,180.0 L462.0,178.8 L460.5,177.6 L459.0,176.5 L457.4,175.3 L455.8,174.2 L454.3,173.1 L452.7,172.1 L451.2,171.0 L449.6,170.0 L448.1,169.0 L446.5,168.0 L444.9,167.1 L443.3,166.2 L441.8,165.3 L440.2,164.6 L438.9,164.0 L437.6,163.4 L436.4,162.9 L435.1,162.4 L433.8,161.9 L432.5,161.6 L431.3,161.3 L430.1,161.1 L429.0,161.1 L427.8,161.1 L426.7,161.2 L425.7,161.3 L424.6,161.5 L423.5,161.7 L422.5,162.0 L421.5,162.3 L420.7,162.6 L419.9,163.0 L419.1,163.4 L418.3,163.9 L417.6,164.3 L416.8,164.8 L416.1,165.3 L415.3,165.7" fill="none" stroke="#4433ff" stroke-width="1.5" stroke-linejoin="round"/>
<path d="M415.3,151.1 L415.4,150.9 L415.4,150.7 L415.5,150.5 L415.5,150.3 L415.6,150.1 L415.6,149.9 L415.7,149.7 L415.7,149.5 L415.8,148.9 L415.9,148.3 L416.1,147.7 L416.2,147.0 L416.3,146.2 L416.5,145.5 L416.6,144.7 L416.8,144.0 L416.9,143.3 L417.1,142.5 L417.2,141.8 L417.4,141.0 L417.6,140.2 L417.8,139.5 L418.0,138.7 L418.3,137.8 L418.7,136.8 L419.1,135.7 L419.6,134.5 L420.1,133.3 L420.6,132.2 L421.2,131.1 L421.8,130.1 L422.5,129.2 L423.1,128.6 L423.7,128.0 L424.3,127.5 L425.0,127.1 L425.6,126.7 L426.3,126.3 L427.0,125.9 L427.7,125.5 L428.3,125.2 L428.9,124.9 L429.5,124.6 L430.1,124.3 L430.8,124.1 L431.4,123.9 L432.1,123.6 L432.9,123.3 L434.0,122.9 L435.2,122.5 L436.5,122.1 L437.9,121.7 L439.3,121.3 L440.7,120.9 L442.1,120.5 L443.4,120.1 L444.7,119.8 L446.0,119.5 L447.2,119.2 L448.5,119.0 L449.8,118.7 L451.1,118.4 L452.5,118.1 L453.9,117.8 L455.7,117.3 L457.6,116.8 L459.6,116.2 L461.6,115.6 L463.6,115.0 L465.7,114.4 L467.9,113.8 L470.0,113.2 L472.5,112.4 L475.1,111.6 L477.7,110.8 L480.4,110.0 L483.1,109.2 L485.8,108.3 L488.5,107.5 L491.2,106.6 L493.9,105.7 L496.6,104.9 L499.3,104.0 L502.0,103.1 L504.6,102.2 L507.3,101.2 L509.9,100.2 L512.4,99.2 L514.6,98.3 L516.9,97.3 L519.1,96.3 L521.2,95.3 L523.3,94.2 L525.4,93.1 L527.4,92.0 L529.3,90.9 L530.8,89.9 L532.3,88.8 L533.7,87.7 L535.1,86.6 L536.5,85.5 L537.8,84.4 L539.2,83.3 L540.6,82.2 L542.0,81.1 L543.4,80.0 L544.8,78.9 L546.2,77.8 L547.7,76.7 L549.1,75.6 L550.5,74.6 L551.9,73.7 L553.1,72.8 L554.4,72.0 L555.6,71.2 L556.9,70.5 L558.1,69.8 L559.3,69.1 L560.6,68.5 L561.8,67.9 L562.8,67.4 L563.8,67.0 L564.8,66.6 L565.8,66.3 L566.8,66.0 L567.8,65.7 L568.9,65.4 L570.0,65.2 L571.3,65.0 L572.7,64.9 L574.2,64.9 L575.7,64.8 L577.2,64.8 L578.7,64.8 L580.2,64.8 L581.6,64.7 L582.9,64.6 L584.2,64.4 L585.5,64.3 L586.8,64.1 L588.1,63.9 L589.4,63.7 L590.7,63.6 L592.0,63.4 L593.3,63.2 L594.5,63.1 L595.7,62.9 L596.9,62.8 L598.2,62.6 L599.5,62.5 L600.9,62.4 L602.4,62.2 L604.6,62.1 L607.1,62.0 L609.6,61.9 L612.3,61.8 L615.0,61.8 L617.8,61.7 L620.5,61.7 L623.2,61.7 L625.8,61.6 L628.4,61.6 L631.0,61.7 L633.6,61.7 L636.1,61.7 L638.7,61.7 L641.3,61.7 L643.9,61.7 L646.6,61.6 L649.3,61.6 L652.1,61.5 L654.8,61.4 L657.5,61.3 L660.0,61.2 L662.5,61.0 L664.7,60.8 L666.2,60.6 L667.6,60.5 L668.9,60.3 L670.2,60.0 L671.4,59.8 L672.6,59.6 L673.9,59.3 L675.1,59.1 L676.4,58.8 L677.7,58.6 L679.0,58.3 L680.4,58.0 L681.7,57.7 L683.0,57.4 L684.2,57.0 L685.5,56.5 L686.9,55.9 L688.2,55.2 L689.6,54.4 L691.0,53.6 L692.3,52.8 L693.6,52.0 L694.8,51.2 L695.9,50.4 L696.7,49.9 L697.4,49.4 L698.0,49.0 L698.7,48.5 L699.3,48.0 L699.9,47.5 L700.5,47.0 L701.1,46.4 L701.8,45.7 L702.6,44.8 L703.4,43.8 L704.1,42.8 L704.8,41.9 L705.5,41.2 L706.0,40.8 L706.3,40.7 L706.5,41.0 L706.4,41.7 L706.3,42.6 L706.0,43.8 L705.7,45.1 L705.4,46.5 L705.1,47.8 L704.8,49.0 L704.7,50.5 L704.5,52.0 L704.3,53.6 L704.2,55.2 L704.0,56.9 L703.9,58.6 L703.7,60.2 L703.4,61.9 L703.2,63.9 L702.9,66.0 L702.6,68.1 L702.3,70.2 L701.9,72.3 L701.5,74.4 L701.1,76.3 L700.5,78.0 L700.1,79.3 L699.6,80.5 L699.2,81.6 L698.6,82.7 L698.1,83.8 L697.5,84.8 L696.8,85.7 L696.1,86.7 L695.4,87.5 L694.6,88.4 L693.8,89.1 L692.9,89.9 L692.0,90.6 L691.1,91.2 L690.0,91.9 L688.9,92.5 L687.4,93.2 L685.7,93.9 L683.9,94.4 L682.1,95.0 L680.2,95.5 L678.2,95.9 L676.3,96.4 L674.4,96.8 L672.6,97.2 L670.8,97.5 L668.9,97.8 L667.0,98.1 L665.2,98.4 L663.4,98.6 L661.6,98.8 L659.9,99.0 L658.7,99.1 L657.5,99.2 L656.4,99.3 L655.4,99.3 L654.2,99.4 L653.1,99.4 L651.8,99.5 L650.4,99.6 L647.6,99.8 L644.4,100.1 L640.9,100.4 L637.3,100.7 L633.5,101.0 L629.9,101.3 L626.4,101.6 L623.2,101.9 L620.8,102.1 L618.5,102.4 L616.2,102.6 L614.1,102.8 L611.9,103.0 L609.8,103.2 L607.8,103.5 L605.7,103.7 L603.9,103.9 L602.2,104.2 L600.6,104.4 L598.9,104.6 L597.3,104.9 L595.6,105.1 L593.8,105.4 L592.0,105.6 L589.4,106.0 L586.5,106.3 L583.5,106.6 L580.4,106.9 L577.4,107.2 L574.5,107.6 L571.9,108.0 L569.5,108.5 L568.2,108.9 L567.0,109.3 L565.9,109.7 L564.8,110.1 L563.8,110.5 L562.8,111.0 L561.8,111.5 L560.8,112.0 L559.8,112.5 L558.7,113.0 L557.7,113.6 L556.7,114.2 L555.7,114.8 L554.7,115.4 L553.7,116.1 L552.7,116.8 L551.4,117.7 L550.1,118.6 L548.8,119.6 L547.4,120.6 L546.1,121.7 L544.8,122.8 L543.5,124.0 L542.3,125.2 L541.0,126.7 L539.7,128.3 L538.4,130.0 L537.2,131.8 L536.0,133.6 L534.8,135.5 L533.8,137.3 L532.7,139.1 L531.8,140.8 L531.0,142.4 L530.2,144.1 L529.5,145.8 L528.8,147.5 L528.1,149.2 L527.4,151.0 L526.7,152.8 L525.9,155.1 L525.0,157.4 L524.2,159.8 L523.4,162.3 L522.6,164.7 L521.8,167.3 L521.0,169.8 L520.2,172.3 L519.3,175.1 L518.4,177.8 L517.6,180.7 L516.7,183.5 L515.9,186.3 L515.0,189.2 L514.1,191.9 L513.2,194.7 L512.4,197.3 L511.6,200.0 L510.7,202.7 L509.9,205.3 L509.0,207.9 L508.1,210.4 L507.1,212.7 L506.1,214.8 L505.3,216.3 L504.4,217.8 L503.6,219.2 L502.7,220.5 L501.8,221.8 L500.9,222.8 L500.0,223.8 L499.2,224.4 L498.7,224.7 L498.3,225.0 L497.9,225.2 L497.5,225.4 L497.0,225.5 L496.6,225.6 L496.2,225.6 L495.8,225.5 L495.3,225.2 L494.8,224.8 L494.3,224.3 L493.8,223.6 L493.4,222.9 L492.9,222.2 L492.4,221.4 L491.9,220.7 L491.3,219.8 L490.7,218.8 L490.1,217.8 L489.4,216.7 L488.8,215.6 L488.2,214.5 L487.6,213.4 L486.9,212.3 L486.2,211.2 L485.6,210.0 L484.9,208.9 L484.3,207.7 L483.6,206.6 L482.9,205.4 L482.1,204.3 L481.4,203.1 L480.5,201.8 L479.5,200.5 L478.6,199.2 L477.6,197.9 L476.6,196.6 L475.6,195.3 L474.5,194.0 L473.5,192.8 L472.5,191.5 L471.4,190.2 L470.4,189.0 L469.3,187.8 L468.3,186.5 L467.1,185.3 L466.0,184.1 L464.8,183.0 L463.4,181.8 L462.0,180.6 L460.5,179.4 L459.0,178.2 L457.4,177.1 L455.8,175.9 L454.3,174.9 L452.7,173.8 L451.2,172.8 L449.6,171.7 L448.1,170.7 L446.5,169.7 L444.9,168.8 L443.3,167.9 L441.8,167.1 L440.2,166.3 L438.9,165.7 L437.6,165.1 L436.4,164.6 L435.1,164.1 L433.8,163.7 L432.5,163.3 L431.3,163.0 L430.1,162.9 L429.0,162.8 L427.8,162.8 L426.7,162.9 L425.7,163.0 L424.6,163.2 L423.5,163.4 L422.5,163.7 L421.5,164.0 L420.7,164.3 L419.9,164.7 L419.1,165.1 L418.3,165.6 L417.6,166.1 L416.8,166.5 L416.1,167.0 L415.3,167.5" fill="none" stroke="#222" stroke-width="1.3" stroke-linejoin="round" stroke-dasharray="4,2.6"/>
<rect x="578.7" y="125.6" width="116.79999999999995" height="92.30000000000001" fill="#fff"/>
<svg x="578.7" y="125.6" width="116.79999999999995" height="92.30000000000001" viewBox="578.7 125.6 116.79999999999995 92.30000000000001" overflow="hidden">
<path d="M560.1,205.6 L561.1,204.9 L562.0,204.3 L562.9,203.6 L563.9,203.0 L564.8,202.3 L565.8,201.7 L566.8,201.1 L567.8,200.4 L569.1,199.8 L570.4,199.1 L571.8,198.5 L573.2,197.9 L574.6,197.3 L576.0,196.7 L577.4,196.1 L578.7,195.5 L579.9,195.0 L581.2,194.4 L582.4,193.8 L583.6,193.3 L584.8,192.8 L586.0,192.3 L587.2,191.8 L588.4,191.3 L589.6,191.0 L590.8,190.6 L591.9,190.3 L593.1,190.1 L594.3,189.8 L595.5,189.6 L596.8,189.3 L598.2,189.1 L600.3,188.7 L602.6,188.4 L605.0,188.1 L607.5,187.7 L610.0,187.5 L612.6,187.2 L615.2,187.0 L617.6,186.8 L620.1,186.7 L622.5,186.7 L624.9,186.7 L627.4,186.8 L629.8,186.8 L632.2,186.9 L634.7,186.9 L637.1,186.8 L639.6,186.7 L642.1,186.6 L644.7,186.5 L647.3,186.3 L649.8,186.1 L652.2,185.8 L654.5,185.5 L656.6,185.1 L658.0,184.8 L659.3,184.5 L660.5,184.1 L661.7,183.8 L662.9,183.3 L664.0,182.9 L665.2,182.3 L666.3,181.7 L667.6,181.0 L668.8,180.2 L670.1,179.3 L671.3,178.3 L672.5,177.3 L673.7,176.2 L674.9,175.1 L676.0,173.8 L677.4,172.1 L678.7,170.3 L680.0,168.3 L681.3,166.2 L682.5,164.1 L683.7,161.9 L684.8,159.9 L685.8,158.0 L686.5,156.5 L687.2,155.1 L687.8,153.7 L688.4,152.4 L689.0,151.0 L689.5,149.6 L690.1,148.2 L690.6,146.7 L691.3,144.5 L692.0,141.9 L692.7,139.0 L693.4,136.2 L694.1,133.7 L694.6,131.6 L695.1,130.2 L695.5,129.7 L695.8,131.0 L695.9,134.2 L695.8,139.1 L695.5,144.9 L695.1,151.3 L694.7,157.7 L694.4,163.7 L694.1,168.7 L694.0,172.1 L693.8,175.4 L693.7,178.5 L693.6,181.6 L693.4,184.7 L693.2,187.7 L693.0,190.9 L692.8,194.2 L692.5,198.0 L692.2,201.9 L691.9,205.8 L691.5,209.8 L691.2,213.8 L690.8,217.9 L690.5,221.9 L690.1,225.9" fill="none" stroke="#000" stroke-width="1.8" stroke-linejoin="round"/>
<path d="M560.1,205.5 L561.1,204.8 L562.0,204.1 L562.9,203.4 L563.8,202.7 L564.8,202.1 L565.7,201.4 L566.8,200.9 L567.8,200.4 L569.1,200.0 L570.4,199.7 L571.7,199.5 L573.1,199.4 L574.6,199.3 L576.0,199.2 L577.4,199.0 L578.7,198.7 L580.0,198.4 L581.2,197.9 L582.4,197.5 L583.6,197.0 L584.8,196.6 L586.0,196.1 L587.2,195.7 L588.4,195.3 L589.6,195.0 L590.8,194.6 L591.9,194.3 L593.1,194.0 L594.3,193.8 L595.5,193.5 L596.8,193.3 L598.2,193.0 L600.3,192.8 L602.6,192.6 L605.0,192.4 L607.5,192.3 L610.0,192.1 L612.6,192.1 L615.2,192.0 L617.6,191.9 L620.1,191.9 L622.5,191.9 L624.9,191.9 L627.4,191.9 L629.8,192.0 L632.2,192.0 L634.7,192.0 L637.1,191.9 L639.6,191.8 L642.1,191.7 L644.7,191.6 L647.3,191.4 L649.8,191.2 L652.2,190.9 L654.5,190.6 L656.6,190.2 L658.0,189.9 L659.3,189.6 L660.5,189.2 L661.7,188.8 L662.9,188.4 L664.0,187.9 L665.1,187.4 L666.3,186.8 L667.6,186.2 L668.8,185.6 L670.1,184.9 L671.3,184.2 L672.5,183.4 L673.7,182.6 L674.9,181.6 L676.0,180.6 L677.4,179.1 L678.7,177.4 L680.1,175.6 L681.3,173.7 L682.5,171.7 L683.7,169.7 L684.8,167.7 L685.8,165.9 L686.5,164.5 L687.2,163.1 L687.8,161.7 L688.4,160.3 L689.0,159.0 L689.5,157.6 L690.1,156.1 L690.6,154.6 L691.3,152.4 L692.0,149.8 L692.8,147.0 L693.4,144.2 L694.1,141.6 L694.7,139.5 L695.1,138.1 L695.5,137.6 L695.8,138.6 L695.8,141.2 L695.6,144.9 L695.4,149.5 L695.0,154.6 L694.7,159.7 L694.4,164.6 L694.1,168.7 L694.0,172.0 L693.8,175.2 L693.7,178.3 L693.5,181.4 L693.4,184.5 L693.2,187.7 L693.0,190.9 L692.8,194.2 L692.5,198.0 L692.2,201.9 L691.9,205.8 L691.5,209.8 L691.2,213.8 L690.8,217.9 L690.5,221.9 L690.1,225.9" fill="none" stroke="#0a3cff" stroke-width="1.6" stroke-linejoin="round"/>
<path d="M560.1,205.6 L561.1,205.0 L562.0,204.3 L562.9,203.6 L563.8,202.8 L564.8,202.2 L565.7,201.5 L566.8,201.0 L567.8,200.5 L569.1,200.1 L570.4,199.8 L571.7,199.7 L573.1,199.5 L574.6,199.4 L576.0,199.3 L577.4,199.2 L578.7,198.9 L580.0,198.6 L581.2,198.3 L582.4,197.9 L583.6,197.4 L584.8,197.0 L586.0,196.6 L587.2,196.2 L588.4,195.9 L589.6,195.5 L590.8,195.2 L591.9,194.9 L593.1,194.6 L594.3,194.3 L595.5,194.1 L596.8,193.8 L598.2,193.6 L600.3,193.3 L602.6,193.1 L605.0,193.0 L607.5,192.8 L610.0,192.7 L612.6,192.6 L615.2,192.5 L617.6,192.5 L620.1,192.4 L622.5,192.4 L624.9,192.5 L627.4,192.5 L629.8,192.6 L632.2,192.6 L634.7,192.6 L637.1,192.5 L639.6,192.4 L642.1,192.3 L644.7,192.1 L647.3,192.0 L649.8,191.7 L652.2,191.5 L654.5,191.2 L656.6,190.8 L658.0,190.5 L659.3,190.1 L660.5,189.7 L661.7,189.3 L662.8,188.9 L664.0,188.4 L665.1,187.9 L666.3,187.4 L667.5,186.8 L668.8,186.2 L670.1,185.6 L671.3,185.0 L672.5,184.3 L673.7,183.5 L674.9,182.7 L676.0,181.7 L677.4,180.4 L678.7,178.8 L680.0,177.1 L681.3,175.3 L682.5,173.5 L683.7,171.6 L684.8,169.8 L685.8,168.2 L686.5,166.9 L687.2,165.6 L687.8,164.3 L688.4,163.1 L689.0,161.9 L689.5,160.6 L690.1,159.3 L690.6,158.0 L691.3,156.2 L692.0,154.1 L692.7,151.8 L693.4,149.6 L694.1,147.5 L694.7,145.9 L695.1,144.8 L695.5,144.4 L695.7,145.2 L695.8,147.1 L695.6,150.0 L695.4,153.6 L695.0,157.5 L694.7,161.5 L694.4,165.3 L694.1,168.7 L694.0,171.9 L693.8,175.0 L693.7,178.1 L693.5,181.2 L693.4,184.4 L693.2,187.6 L693.0,190.9 L692.8,194.2 L692.5,198.0 L692.2,201.9 L691.9,205.8 L691.5,209.8 L691.2,213.8 L690.8,217.9 L690.5,221.9 L690.1,225.9" fill="none" stroke="#3a3a3a" stroke-width="1.2" stroke-linejoin="round"/>
<path d="M560.1,205.8 L561.1,205.1 L562.0,204.4 L562.9,203.6 L563.8,202.9 L564.8,202.2 L565.7,201.6 L566.8,201.0 L567.8,200.6 L569.1,200.2 L570.4,200.0 L571.7,199.8 L573.1,199.7 L574.6,199.7 L576.0,199.6 L577.4,199.5 L578.7,199.3 L580.0,199.0 L581.2,198.7 L582.4,198.3 L583.6,197.9 L584.8,197.5 L586.0,197.1 L587.2,196.8 L588.4,196.4 L589.6,196.1 L590.8,195.8 L591.9,195.5 L593.1,195.2 L594.3,194.9 L595.5,194.6 L596.8,194.4 L598.2,194.2 L600.3,193.9 L602.6,193.7 L605.0,193.5 L607.5,193.4 L610.0,193.3 L612.6,193.2 L615.2,193.1 L617.6,193.0 L620.1,193.0 L622.5,193.0 L624.9,193.0 L627.4,193.1 L629.8,193.1 L632.2,193.1 L634.7,193.1 L637.1,193.0 L639.6,192.9 L642.1,192.8 L644.7,192.7 L647.3,192.5 L649.8,192.3 L652.2,192.1 L654.5,191.7 L656.6,191.3 L658.0,191.0 L659.3,190.7 L660.5,190.3 L661.7,189.9 L662.8,189.4 L664.0,189.0 L665.1,188.5 L666.3,188.0 L667.5,187.4 L668.8,186.9 L670.0,186.4 L671.3,185.8 L672.5,185.2 L673.7,184.5 L674.9,183.7 L676.0,182.9 L677.4,181.6 L678.7,180.2 L680.0,178.6 L681.3,177.0 L682.5,175.3 L683.7,173.6 L684.8,172.0 L685.8,170.4 L686.5,169.3 L687.2,168.1 L687.8,167.0 L688.4,165.9 L689.0,164.9 L689.5,163.7 L690.1,162.6 L690.6,161.4 L691.3,159.7 L692.0,157.8 L692.7,155.7 L693.4,153.7 L694.1,151.8 L694.7,150.3 L695.2,149.3 L695.5,148.9 L695.7,149.5 L695.7,151.1 L695.6,153.4 L695.3,156.3 L695.0,159.4 L694.7,162.7 L694.4,165.9 L694.1,168.7 L694.0,171.7 L693.8,174.8 L693.7,177.9 L693.5,181.1 L693.4,184.3 L693.2,187.5 L693.0,190.8 L692.8,194.2 L692.5,198.0 L692.2,201.9 L691.9,205.8 L691.5,209.8 L691.2,213.8 L690.8,217.9 L690.5,221.9 L690.1,225.9" fill="none" stroke="#4433ff" stroke-width="1.5" stroke-linejoin="round"/>
<path d="M560.1,205.8 L561.1,205.2 L562.0,204.4 L562.9,203.7 L563.8,203.0 L564.8,202.3 L565.7,201.6 L566.8,201.1 L567.8,200.6 L569.1,200.3 L570.4,200.1 L571.7,200.0 L573.1,199.9 L574.6,199.9 L576.0,199.9 L577.4,199.8 L578.7,199.6 L579.9,199.4 L581.2,199.1 L582.4,198.7 L583.6,198.4 L584.8,198.0 L586.0,197.7 L587.2,197.3 L588.4,197.0 L589.6,196.7 L590.8,196.4 L591.9,196.1 L593.1,195.8 L594.3,195.5 L595.5,195.2 L596.8,195.0 L598.2,194.7 L600.3,194.5 L602.6,194.3 L605.0,194.1 L607.5,194.0 L610.0,193.8 L612.6,193.8 L615.2,193.7 L617.6,193.6 L620.1,193.6 L622.5,193.6 L624.9,193.6 L627.4,193.6 L629.8,193.7 L632.2,193.7 L634.7,193.7 L637.1,193.6 L639.6,193.5 L642.1,193.4 L644.7,193.2 L647.3,193.1 L649.8,192.9 L652.2,192.6 L654.5,192.3 L656.6,191.9 L658.0,191.6 L659.3,191.2 L660.5,190.8 L661.7,190.4 L662.8,190.0 L664.0,189.5 L665.1,189.0 L666.3,188.5 L667.5,188.0 L668.8,187.5 L670.0,186.9 L671.3,186.4 L672.5,185.7 L673.7,185.1 L674.9,184.3 L676.0,183.4 L677.4,182.2 L678.7,180.9 L680.0,179.4 L681.3,177.8 L682.5,176.1 L683.7,174.5 L684.8,173.0 L685.8,171.6 L686.5,170.5 L687.2,169.5 L687.8,168.6 L688.4,167.6 L689.0,166.7 L689.5,165.7 L690.1,164.7 L690.6,163.6 L691.3,162.2 L692.0,160.4 L692.8,158.5 L693.5,156.6 L694.1,154.9 L694.7,153.5 L695.2,152.6 L695.5,152.3 L695.7,152.8 L695.7,154.1 L695.5,156.0 L695.3,158.3 L695.0,160.9 L694.6,163.6 L694.3,166.3 L694.1,168.7 L694.0,171.6 L693.8,174.6 L693.7,177.7 L693.5,180.9 L693.4,184.2 L693.2,187.5 L693.0,190.8 L692.8,194.2 L692.5,198.0 L692.2,201.9 L691.9,205.8 L691.5,209.8 L691.2,213.8 L690.8,217.9 L690.5,221.9 L690.1,225.9" fill="none" stroke="#222" stroke-width="1.3" stroke-linejoin="round" stroke-dasharray="4,2.6"/>
</svg>
<rect x="578.7" y="125.6" width="116.79999999999995" height="92.30000000000001" fill="none" stroke="#8a8a8a" stroke-width="0.9"/>
<path d="M598.2,217.9v-2.2M598.2,125.6v2.2M617.6,217.9v-2.2M617.6,125.6v2.2M637.1,217.9v-2.2M637.1,125.6v2.2M656.6,217.9v-2.2M656.6,125.6v2.2M676.0,217.9v-2.2M676.0,125.6v2.2M578.7,205.5h2.2M695.5,205.5h-2.2M578.7,194.2h2.2M695.5,194.2h-2.2M578.7,182.9h2.2M695.5,182.9h-2.2M578.7,171.6h2.2M695.5,171.6h-2.2M578.7,160.2h2.2M695.5,160.2h-2.2M578.7,148.9h2.2M695.5,148.9h-2.2M578.7,137.6h2.2M695.5,137.6h-2.2" stroke="#8a8a8a" stroke-width="0.81" fill="none"/>
<text x="578.7" y="224.3" font-size="7.2" text-anchor="middle" >0.4</text>
<text x="598.2" y="224.3" font-size="7.2" text-anchor="middle" >0.5</text>
<text x="617.6" y="224.3" font-size="7.2" text-anchor="middle" >0.6</text>
<text x="637.1" y="224.3" font-size="7.2" text-anchor="middle" >0.7</text>
<text x="656.6" y="224.3" font-size="7.2" text-anchor="middle" >0.8</text>
<text x="676.0" y="224.3" font-size="7.2" text-anchor="middle" >0.9</text>
<text x="697.0" y="224.3" font-size="7.2" text-anchor="middle" >1</text>
<text x="573.2" y="219.2" font-size="7.2" text-anchor="middle" >40</text>
<text x="573.2" y="207.9" font-size="7.2" text-anchor="middle" >50</text>
<text x="573.2" y="196.6" font-size="7.2" text-anchor="middle" >60</text>
<text x="573.2" y="185.3" font-size="7.2" text-anchor="middle" >70</text>
<text x="573.2" y="174.0" font-size="7.2" text-anchor="middle" >80</text>
<text x="573.2" y="162.6" font-size="7.2" text-anchor="middle" >90</text>
<text x="573.2" y="151.3" font-size="7.2" text-anchor="middle" >100</text>
<text x="573.2" y="140.0" font-size="7.2" text-anchor="middle" >110</text>
<text x="573.2" y="128.7" font-size="7.2" text-anchor="middle" >120</text>
<text transform="translate(562.3,224.3) rotate(-90)" font-size="9.7">Current density [&#956;A cm<tspan dy="-4" font-size="6.5">-2</tspan><tspan dy="4">]</tspan></text>
<text x="590.6" y="231.1" font-size="9.8" text-anchor="start" >Potential [V vs Ag/AgCl]</text>
<rect x="56.0" y="305.5" width="282.7" height="277.29999999999995" fill="none" stroke="#8a8a8a" stroke-width="1.1"/>
<path d="M82.4,582.8v-3.2M82.4,305.5v3.2M118.9,582.8v-3.2M118.9,305.5v3.2M155.3,582.8v-3.2M155.3,305.5v3.2M191.2,582.8v-3.2M191.2,305.5v3.2M228.2,582.8v-3.2M228.2,305.5v3.2M264.4,582.8v-3.2M264.4,305.5v3.2M301.2,582.8v-3.2M301.2,305.5v3.2M56.0,536.6h3.2M338.7,536.6h-3.2M56.0,490.4h3.2M338.7,490.4h-3.2M56.0,444.1h3.2M338.7,444.1h-3.2M56.0,397.9h3.2M338.7,397.9h-3.2M56.0,351.7h3.2M338.7,351.7h-3.2" stroke="#8a8a8a" stroke-width="0.9900000000000001" fill="none"/>
<text x="88.3" y="597.3" font-size="16.4" text-anchor="middle" >-0.4</text>
<text x="124.7" y="597.3" font-size="16.4" text-anchor="middle" >-0.2</text>
<text x="155.2" y="597.3" font-size="16.4" text-anchor="middle" >0</text>
<text x="195.5" y="597.3" font-size="16.4" text-anchor="middle" >0.2</text>
<text x="232.2" y="597.3" font-size="16.4" text-anchor="middle" >0.4</text>
<text x="268.7" y="597.3" font-size="16.4" text-anchor="middle" >0.6</text>
<text x="305.5" y="597.3" font-size="16.4" text-anchor="middle" >0.8</text>
<text x="338.3" y="597.3" font-size="16.4" text-anchor="middle" >1</text>
<text x="34.9" y="308.0" font-size="16.4" text-anchor="middle" >150</text>
<text x="35.0" y="354.2" font-size="16.4" text-anchor="middle" >100</text>
<text x="33.1" y="400.4" font-size="16.4" text-anchor="middle" >50</text>
<text x="31.5" y="446.6" font-size="16.4" text-anchor="middle" >0</text>
<text x="34.5" y="492.9" font-size="16.4" text-anchor="middle" >-50</text>
<text x="35.2" y="539.1" font-size="16.4" text-anchor="middle" >-100</text>
<text x="35.4" y="585.3" font-size="16.4" text-anchor="middle" >-150</text>
<text transform="translate(12.8,546.3) rotate(-90)" font-size="16.4">Current density [&#956;A cm<tspan dy="-6" font-size="10.5">-2</tspan><tspan dy="6">]</tspan></text>
<text x="127.0" y="618.0" font-size="16.4" text-anchor="start" >Potential [V vs Ag/AgCl]</text>
<text x="70.2" y="332.5" font-size="26.5" text-anchor="start" >C</text>
<path d="M101,324H118.3" stroke="#000" stroke-width="1.6"/>
<path d="M100.8,338.4H119.2" stroke="#0c0cf0" stroke-width="1.7" stroke-linecap="round"/>
<text x="122.5" y="328.5" font-size="16.4" text-anchor="start" >Blank</text>
<text x="122.5" y="343.3" font-size="16.4" text-anchor="start" >1 mM glutamate</text>
<path d="M57.2,492.0 L57.2,487.1 L57.3,482.1 L57.3,477.0 L57.3,472.0 L57.4,467.0 L57.4,462.2 L57.5,457.6 L57.5,453.2 L57.6,450.0 L57.6,446.9 L57.7,443.8 L57.7,440.9 L57.8,438.0 L57.9,435.3 L58.0,432.6 L58.1,430.1 L58.2,428.4 L58.3,426.8 L58.4,425.1 L58.5,423.6 L58.6,422.1 L58.7,420.7 L58.9,419.4 L59.0,418.1 L59.1,417.4 L59.2,416.7 L59.3,416.0 L59.3,415.3 L59.4,414.7 L59.6,414.1 L59.7,413.6 L59.9,413.1 L60.0,412.8 L60.1,412.5 L60.2,412.2 L60.3,412.0 L60.5,411.8 L60.6,411.6 L60.8,411.4 L61.1,411.2 L61.5,411.0 L62.1,410.9 L62.8,410.9 L63.5,410.9 L64.2,410.9 L64.9,411.0 L65.5,411.1 L66.1,411.2 L66.5,411.4 L66.8,411.6 L67.1,411.8 L67.5,412.1 L67.8,412.3 L68.1,412.5 L68.4,412.6 L68.7,412.6 L69.1,412.5 L69.4,412.3 L69.8,412.0 L70.2,411.6 L70.5,411.2 L70.9,410.7 L71.2,410.3 L71.5,409.8 L71.9,409.3 L72.2,408.7 L72.5,408.1 L72.7,407.4 L73.0,406.7 L73.2,406.0 L73.4,405.2 L73.7,404.3 L74.1,402.7 L74.5,401.0 L74.9,399.1 L75.2,397.1 L75.6,395.1 L75.9,392.9 L76.3,390.8 L76.6,388.6 L77.0,385.9 L77.3,383.1 L77.6,380.1 L77.9,377.1 L78.2,374.1 L78.5,371.3 L78.8,368.7 L79.1,366.4 L79.4,365.1 L79.6,363.7 L79.9,362.4 L80.1,361.1 L80.4,360.0 L80.7,359.1 L80.9,358.5 L81.1,358.3 L81.4,358.5 L81.6,359.1 L81.8,360.0 L82.0,361.1 L82.2,362.4 L82.4,363.7 L82.6,365.1 L82.8,366.4 L83.1,368.7 L83.3,371.3 L83.5,374.1 L83.8,377.1 L84.0,380.1 L84.2,383.1 L84.5,385.9 L84.8,388.6 L85.0,390.8 L85.3,392.9 L85.5,395.1 L85.8,397.2 L86.1,399.2 L86.4,401.1 L86.7,402.8 L87.1,404.3 L87.4,405.1 L87.6,405.8 L87.8,406.5 L88.1,407.1 L88.3,407.7 L88.6,408.2 L88.9,408.6 L89.3,408.9 L89.6,409.1 L90.0,409.2 L90.4,409.2 L90.8,409.2 L91.2,409.2 L91.6,409.1 L92.0,409.0 L92.4,408.9 L92.7,408.8 L93.0,408.6 L93.3,408.3 L93.5,408.1 L93.8,407.9 L94.1,407.7 L94.3,407.5 L94.6,407.5 L94.8,407.6 L95.1,407.9 L95.3,408.2 L95.6,408.6 L95.8,408.9 L96.1,409.3 L96.3,409.6 L96.6,409.8 L96.8,410.0 L97.0,410.1 L97.2,410.2 L97.4,410.3 L97.6,410.4 L97.8,410.4 L98.0,410.4 L98.2,410.3 L98.6,410.0 L99.0,409.4 L99.3,408.6 L99.7,407.7 L100.0,406.6 L100.3,405.6 L100.6,404.4 L100.9,403.4 L101.3,401.8 L101.7,400.0 L102.1,398.0 L102.4,396.0 L102.8,394.0 L103.1,392.0 L103.5,390.2 L103.8,388.6 L104.1,387.5 L104.4,386.3 L104.7,385.2 L104.9,384.1 L105.2,383.1 L105.5,382.4 L105.8,381.8 L106.0,381.7 L106.3,382.0 L106.6,382.8 L106.8,384.0 L107.1,385.5 L107.3,387.2 L107.5,388.9 L107.8,390.7 L108.0,392.3 L108.3,394.4 L108.6,396.7 L108.8,399.1 L109.1,401.6 L109.3,404.0 L109.6,406.4 L109.9,408.7 L110.2,410.8 L110.4,412.2 L110.6,413.6 L110.9,414.9 L111.1,416.2 L111.4,417.4 L111.7,418.6 L112.0,419.8 L112.4,420.9 L112.7,421.9 L113.1,422.9 L113.5,423.9 L113.9,424.9 L114.4,425.8 L114.9,426.7 L115.4,427.5 L116.0,428.3 L116.5,429.0 L117.1,429.6 L117.7,430.2 L118.4,430.7 L119.0,431.3 L119.8,431.7 L120.5,432.2 L121.2,432.6 L122.2,433.1 L123.1,433.5 L124.2,433.9 L125.2,434.2 L126.3,434.5 L127.4,434.8 L128.5,435.0 L129.6,435.2 L130.7,435.4 L131.9,435.6 L133.1,435.7 L134.2,435.9 L135.4,435.9 L136.6,436.0 L137.8,436.0 L139.0,436.1 L140.3,436.0 L141.6,436.0 L142.9,435.9 L144.3,435.8 L145.6,435.7 L146.9,435.5 L148.2,435.4 L149.6,435.3 L150.9,435.2 L152.2,435.2 L153.6,435.1 L154.9,435.1 L156.3,435.0 L157.6,434.9 L159.0,434.9 L160.3,434.9 L161.5,434.8 L162.7,434.8 L163.9,434.7 L165.1,434.7 L166.3,434.7 L167.5,434.7 L168.8,434.7 L170.1,434.7 L171.7,434.7 L173.4,434.8 L175.1,434.9 L176.9,435.0 L178.7,435.1 L180.5,435.1 L182.3,435.2 L184.0,435.1 L185.8,435.1 L187.7,435.0 L189.6,434.9 L191.4,434.7 L193.2,434.6 L195.0,434.3 L196.7,434.0 L198.2,433.7 L199.3,433.3 L200.3,433.0 L201.3,432.6 L202.3,432.2 L203.2,431.7 L204.1,431.2 L204.9,430.7 L205.8,430.1 L206.7,429.6 L207.6,429.0 L208.4,428.3 L209.3,427.7 L210.1,427.0 L210.9,426.2 L211.7,425.4 L212.5,424.6 L213.5,423.5 L214.5,422.3 L215.5,421.0 L216.5,419.7 L217.5,418.4 L218.5,417.0 L219.4,415.7 L220.3,414.5 L221.2,413.3 L221.9,412.2 L222.7,411.1 L223.5,409.9 L224.2,408.9 L225.0,407.9 L225.8,406.9 L226.7,406.1 L227.4,405.6 L228.2,405.1 L229.0,404.6 L229.7,404.2 L230.6,403.8 L231.4,403.5 L232.2,403.2 L233.1,402.9 L234.0,402.7 L234.9,402.5 L235.8,402.3 L236.8,402.2 L237.8,402.1 L238.8,402.0 L239.8,401.9 L240.9,401.8 L242.1,401.6 L243.5,401.4 L244.9,401.1 L246.3,400.9 L247.6,400.7 L248.9,400.4 L250.1,400.3 L251.2,400.1 L251.8,400.1 L252.2,400.0 L252.7,400.0 L253.1,400.0 L253.6,399.9 L254.0,399.9 L254.5,399.9 L255.0,400.0 L255.9,400.0 L256.9,400.2 L258.0,400.4 L259.1,400.6 L260.3,400.8 L261.5,401.1 L262.7,401.3 L263.9,401.5 L265.3,401.8 L266.8,402.1 L268.2,402.3 L269.8,402.6 L271.3,402.9 L272.9,403.1 L274.5,403.4 L276.3,403.6 L278.6,403.8 L281.0,403.9 L283.6,404.1 L286.3,404.2 L289.0,404.2 L291.6,404.3 L294.1,404.3 L296.6,404.3 L298.6,404.3 L300.6,404.3 L302.6,404.2 L304.5,404.1 L306.4,404.1 L308.2,403.9 L310.0,403.8 L311.6,403.6 L312.8,403.4 L314.0,403.2 L315.1,403.0 L316.2,402.7 L317.2,402.5 L318.2,402.2 L319.2,401.9 L320.2,401.5 L321.0,401.2 L321.8,400.8 L322.5,400.5 L323.2,400.1 L323.9,399.7 L324.6,399.2 L325.3,398.7 L326.0,398.2 L326.7,397.6 L327.4,396.9 L328.1,396.3 L328.7,395.5 L329.3,394.8 L329.9,394.0 L330.5,393.2 L331.1,392.3 L331.6,391.3 L332.1,390.2 L332.6,389.0 L333.0,387.9 L333.4,386.7 L333.8,385.5 L334.3,384.3 L334.7,383.1 L335.2,381.7 L335.7,380.1 L336.3,378.4 L336.8,376.8 L337.3,375.3 L337.8,374.1 L338.2,373.3 L338.5,373.1 L338.7,373.7 L338.8,375.4 L338.8,377.8 L338.6,380.8 L338.4,384.0 L338.2,387.3 L337.9,390.5 L337.8,393.2 L337.7,395.6 L337.5,397.9 L337.4,400.2 L337.3,402.5 L337.1,404.8 L336.9,407.1 L336.7,409.4 L336.5,411.7 L336.3,413.9 L336.0,416.2 L335.7,418.6 L335.4,420.9 L335.0,423.1 L334.7,425.3 L334.3,427.3 L333.8,429.2 L333.4,430.6 L333.0,431.9 L332.6,433.1 L332.2,434.3 L331.7,435.5 L331.2,436.6 L330.7,437.5 L330.2,438.5 L329.7,439.1 L329.2,439.7 L328.8,440.2 L328.3,440.7 L327.8,441.2 L327.2,441.6 L326.6,442.1 L326.0,442.4 L325.2,442.8 L324.3,443.2 L323.3,443.5 L322.3,443.7 L321.3,443.9 L320.3,444.1 L319.3,444.3 L318.4,444.5 L317.5,444.6 L316.7,444.7 L315.9,444.8 L315.1,444.8 L314.3,444.9 L313.4,445.0 L312.6,445.0 L311.6,445.1 L310.4,445.2 L309.1,445.4 L307.7,445.5 L306.3,445.7 L304.8,445.8 L303.3,446.0 L301.8,446.2 L300.2,446.3 L298.1,446.5 L296.0,446.7 L293.7,446.8 L291.4,447.0 L289.0,447.1 L286.7,447.3 L284.4,447.5 L282.1,447.7 L279.8,447.9 L277.5,448.1 L275.1,448.3 L272.8,448.6 L270.5,448.8 L268.3,449.0 L266.1,449.3 L263.9,449.5 L262.1,449.8 L260.4,450.0 L258.7,450.2 L257.0,450.4 L255.3,450.6 L253.6,450.9 L251.8,451.2 L250.0,451.6 L247.7,452.1 L245.2,452.6 L242.7,453.2 L240.1,453.9 L237.5,454.6 L235.0,455.4 L232.6,456.1 L230.4,456.9 L228.7,457.6 L227.1,458.2 L225.5,458.9 L224.0,459.6 L222.5,460.4 L221.0,461.2 L219.7,462.0 L218.3,463.0 L216.9,464.1 L215.6,465.3 L214.4,466.6 L213.1,468.0 L212.0,469.4 L210.8,470.8 L209.7,472.3 L208.7,473.8 L207.6,475.5 L206.6,477.1 L205.7,478.8 L204.8,480.6 L203.9,482.4 L203.1,484.3 L202.2,486.3 L201.4,488.3 L200.4,491.0 L199.4,493.8 L198.5,496.7 L197.6,499.7 L196.7,502.8 L195.9,506.0 L195.1,509.2 L194.2,512.5 L193.2,516.5 L192.2,520.7 L191.3,525.1 L190.3,529.6 L189.4,534.0 L188.6,538.3 L187.7,542.4 L187.0,546.3 L186.4,549.2 L185.9,552.0 L185.4,554.7 L185.0,557.4 L184.5,560.0 L184.1,562.4 L183.6,564.7 L183.1,566.8 L182.8,568.2 L182.5,569.7 L182.1,571.2 L181.8,572.6 L181.5,573.8 L181.1,574.8 L180.8,575.4 L180.4,575.7 L180.1,575.5 L179.7,574.9 L179.4,574.0 L179.0,572.9 L178.7,571.6 L178.3,570.3 L178.0,569.0 L177.7,567.7 L177.3,566.0 L177.0,564.1 L176.7,562.2 L176.5,560.2 L176.2,558.0 L175.9,555.8 L175.6,553.5 L175.2,551.1 L174.5,547.4 L173.7,543.4 L172.9,539.2 L172.0,534.8 L171.1,530.4 L170.1,525.9 L169.1,521.5 L168.0,517.3 L166.9,513.3 L165.9,509.2 L164.8,505.1 L163.6,501.1 L162.4,497.1 L161.1,493.2 L159.7,489.5 L158.3,485.9 L156.9,482.9 L155.6,479.9 L154.1,476.9 L152.6,474.1 L151.1,471.4 L149.5,468.8 L147.9,466.4 L146.2,464.2 L144.9,462.7 L143.5,461.2 L142.1,459.8 L140.7,458.5 L139.3,457.4 L137.8,456.3 L136.4,455.4 L135.0,454.6 L134.0,454.1 L133.0,453.7 L131.9,453.4 L130.9,453.1 L129.9,452.9 L128.8,452.8 L127.9,452.7 L126.9,452.6 L126.0,452.5 L125.2,452.5 L124.4,452.5 L123.7,452.5 L122.9,452.6 L122.1,452.8 L121.3,453.0 L120.5,453.2 L119.5,453.7 L118.4,454.2 L117.4,454.8 L116.3,455.5 L115.2,456.4 L114.3,457.3 L113.3,458.3 L112.5,459.5 L111.4,461.8 L110.5,464.6 L109.8,467.8 L109.3,471.3 L108.8,474.8 L108.3,478.3 L107.8,481.5 L107.2,484.3 L106.7,486.2 L106.3,488.2 L105.8,490.3 L105.4,492.3 L104.9,494.0 L104.5,495.4 L104.1,496.3 L103.6,496.6 L103.2,496.3 L102.7,495.2 L102.3,493.7 L101.9,491.8 L101.5,489.8 L101.0,487.8 L100.6,485.9 L100.1,484.3 L99.7,483.0 L99.3,481.6 L98.9,480.2 L98.6,478.9 L98.1,477.6 L97.7,476.6 L97.1,475.8 L96.5,475.4 L95.9,475.3 L95.3,475.4 L94.6,475.7 L93.9,476.0 L93.2,476.5 L92.5,477.0 L91.8,477.6 L91.2,478.1 L90.6,478.7 L89.9,479.3 L89.4,480.0 L88.8,480.7 L88.3,481.5 L87.8,482.4 L87.3,483.3 L86.8,484.3 L86.2,485.7 L85.7,487.2 L85.2,488.9 L84.7,490.7 L84.3,492.5 L83.9,494.4 L83.6,496.4 L83.2,498.5 L82.8,501.4 L82.4,504.7 L82.0,508.2 L81.7,511.7 L81.4,515.3 L81.2,518.8 L80.9,522.0 L80.6,525.1 L80.4,527.4 L80.1,529.8 L79.9,532.3 L79.7,534.7 L79.5,536.9 L79.2,538.6 L79.0,539.7 L78.8,540.1 L78.6,539.7 L78.4,538.6 L78.1,536.9 L77.9,534.7 L77.7,532.3 L77.5,529.8 L77.2,527.4 L77.0,525.1 L76.7,522.0 L76.4,518.8 L76.1,515.3 L75.8,511.7 L75.5,508.2 L75.1,504.7 L74.8,501.5 L74.4,498.5 L74.1,496.4 L73.9,494.5 L73.6,492.6 L73.4,490.8 L73.1,489.0 L72.7,487.4 L72.2,485.8 L71.7,484.3 L71.2,483.0 L70.6,481.7 L70.0,480.5 L69.3,479.3 L68.6,478.2 L67.9,477.3 L67.2,476.7 L66.4,476.3 L65.8,476.2 L65.1,476.3 L64.4,476.6 L63.6,476.9 L62.9,477.3 L62.2,477.8 L61.6,478.4 L61.1,479.0 L60.5,480.0 L60.1,481.2 L59.7,482.6 L59.5,484.0 L59.3,485.6 L59.1,487.0 L58.8,488.4 L58.6,489.6 L58.4,490.3 L58.2,491.0 L58.0,491.7 L57.9,492.3 L57.7,492.9 L57.5,493.5 L57.4,494.1 L57.2,494.8" fill="none" stroke="#000" stroke-width="1.7" stroke-linejoin="round"/>
<path d="M57.2,518.8 L57.2,514.1 L57.3,509.3 L57.3,504.6 L57.3,499.8 L57.4,495.1 L57.4,490.4 L57.5,485.6 L57.5,480.9 L57.6,476.2 L57.7,471.4 L57.7,466.5 L57.8,461.6 L57.8,456.9 L57.9,452.3 L58.0,448.0 L58.1,444.0 L58.2,441.3 L58.2,438.7 L58.3,436.2 L58.4,433.8 L58.4,431.5 L58.5,429.3 L58.7,427.3 L58.8,425.5 L58.9,424.6 L59.0,423.7 L59.1,422.8 L59.3,422.0 L59.4,421.3 L59.5,420.5 L59.7,419.8 L59.9,419.1 L60.0,418.4 L60.2,417.8 L60.4,417.2 L60.5,416.6 L60.7,416.1 L61.0,415.5 L61.2,415.0 L61.5,414.5 L61.9,413.9 L62.3,413.4 L62.8,413.0 L63.2,412.5 L63.7,412.1 L64.2,411.6 L64.7,411.2 L65.2,410.8 L65.6,410.4 L66.0,410.0 L66.5,409.6 L66.9,409.3 L67.4,408.9 L67.8,408.5 L68.3,408.1 L68.7,407.5 L69.4,406.6 L70.1,405.4 L70.8,404.2 L71.5,402.9 L72.3,401.5 L73.0,400.1 L73.6,398.7 L74.3,397.3 L75.0,395.6 L75.7,393.6 L76.3,391.4 L76.9,389.3 L77.6,387.4 L78.2,385.8 L78.8,384.7 L79.4,384.4 L79.9,384.6 L80.4,385.4 L80.9,386.5 L81.4,387.8 L81.9,389.4 L82.3,391.0 L82.8,392.5 L83.3,394.0 L83.8,395.6 L84.4,397.4 L84.9,399.3 L85.4,401.2 L85.9,403.0 L86.5,404.7 L87.1,406.3 L87.8,407.5 L88.3,408.2 L88.8,408.9 L89.4,409.5 L90.0,410.1 L90.6,410.6 L91.1,411.0 L91.7,411.3 L92.3,411.4 L92.8,411.4 L93.3,411.3 L93.7,411.2 L94.2,410.9 L94.7,410.7 L95.2,410.4 L95.6,410.1 L96.0,409.8 L96.4,409.6 L96.7,409.5 L97.0,409.3 L97.3,409.1 L97.6,408.9 L97.8,408.6 L98.1,408.3 L98.4,408.0 L98.8,407.2 L99.2,406.2 L99.6,405.1 L99.9,403.9 L100.3,402.6 L100.6,401.3 L100.9,400.0 L101.3,398.8 L101.7,397.2 L102.1,395.4 L102.5,393.4 L102.9,391.5 L103.3,389.8 L103.7,388.3 L104.0,387.4 L104.4,387.0 L104.7,387.4 L105.0,388.3 L105.3,389.6 L105.6,391.3 L105.9,393.2 L106.2,395.1 L106.4,397.0 L106.7,398.8 L107.0,400.7 L107.3,402.8 L107.6,405.0 L107.9,407.2 L108.2,409.4 L108.5,411.5 L108.8,413.5 L109.3,415.4 L109.6,416.7 L110.0,418.0 L110.4,419.3 L110.8,420.4 L111.3,421.6 L111.8,422.7 L112.3,423.8 L112.9,424.9 L113.5,425.9 L114.2,426.9 L114.8,427.9 L115.6,428.8 L116.3,429.7 L117.1,430.5 L117.9,431.3 L118.7,432.0 L119.4,432.5 L120.1,433.0 L120.8,433.4 L121.5,433.7 L122.2,434.1 L123.1,434.3 L123.9,434.6 L124.9,434.9 L126.6,435.2 L128.6,435.4 L130.8,435.5 L133.2,435.6 L135.6,435.6 L138.0,435.6 L140.4,435.5 L142.7,435.5 L144.9,435.5 L147.2,435.5 L149.5,435.4 L151.8,435.3 L154.1,435.2 L156.2,435.1 L158.3,435.0 L160.3,434.9 L161.6,434.7 L162.9,434.6 L164.1,434.5 L165.3,434.4 L166.4,434.2 L167.6,434.1 L168.8,433.9 L170.1,433.7 L171.7,433.4 L173.4,433.0 L175.2,432.7 L176.9,432.2 L178.7,431.8 L180.5,431.3 L182.3,430.8 L184.0,430.1 L185.8,429.4 L187.6,428.6 L189.4,427.8 L191.2,426.9 L192.9,425.9 L194.7,424.9 L196.4,423.9 L198.2,422.9 L200.0,421.9 L201.8,420.9 L203.6,419.8 L205.4,418.7 L207.2,417.5 L209.0,416.4 L210.8,415.3 L212.5,414.2 L214.3,413.1 L216.1,412.0 L217.9,410.9 L219.6,409.8 L221.4,408.7 L223.2,407.6 L224.9,406.4 L226.7,405.3 L228.5,404.2 L230.2,403.0 L232.0,401.8 L233.8,400.6 L235.5,399.4 L237.3,398.3 L239.1,397.1 L240.9,396.0 L242.6,394.9 L244.3,393.8 L246.1,392.7 L247.8,391.7 L249.5,390.6 L251.3,389.6 L253.1,388.6 L255.0,387.7 L257.1,386.7 L259.3,385.7 L261.6,384.7 L263.8,383.7 L266.1,382.8 L268.4,381.9 L270.7,381.1 L273.0,380.3 L275.2,379.5 L277.3,378.8 L279.5,378.1 L281.6,377.5 L283.8,376.8 L286.0,376.3 L288.2,375.7 L290.4,375.2 L292.8,374.8 L295.2,374.4 L297.7,374.0 L300.2,373.7 L302.7,373.5 L305.0,373.2 L307.2,373.0 L309.3,372.7 L310.6,372.6 L311.9,372.4 L313.1,372.3 L314.2,372.2 L315.3,372.1 L316.4,371.9 L317.4,371.8 L318.4,371.5 L319.1,371.3 L319.8,371.1 L320.4,370.8 L321.0,370.6 L321.6,370.3 L322.2,370.0 L322.8,369.6 L323.4,369.2 L324.2,368.7 L324.9,368.1 L325.7,367.5 L326.4,366.8 L327.2,366.0 L327.9,365.3 L328.6,364.5 L329.2,363.7 L330.0,362.7 L330.7,361.6 L331.4,360.4 L332.1,359.2 L332.8,358.0 L333.5,356.8 L334.1,355.6 L334.7,354.4 L335.2,353.3 L335.8,352.1 L336.3,350.8 L336.9,349.5 L337.4,348.4 L337.8,347.4 L338.2,346.9 L338.5,346.7 L338.8,347.5 L338.9,349.4 L338.9,352.2 L338.7,355.6 L338.4,359.4 L338.2,363.2 L337.9,366.9 L337.8,370.1 L337.7,373.0 L337.6,375.9 L337.5,378.8 L337.4,381.7 L337.3,384.6 L337.2,387.5 L337.1,390.4 L336.9,393.2 L336.7,396.0 L336.5,398.7 L336.3,401.5 L336.0,404.2 L335.8,406.9 L335.5,409.6 L335.1,412.1 L334.7,414.5 L334.3,416.3 L334.0,418.0 L333.6,419.7 L333.1,421.4 L332.7,423.0 L332.2,424.5 L331.7,426.0 L331.1,427.4 L330.5,428.5 L330.0,429.6 L329.4,430.6 L328.8,431.6 L328.1,432.6 L327.5,433.5 L326.7,434.4 L326.0,435.3 L325.1,436.2 L324.3,437.0 L323.3,437.8 L322.3,438.6 L321.3,439.3 L320.3,440.0 L319.3,440.6 L318.4,441.2 L317.5,441.7 L316.7,442.1 L315.9,442.5 L315.1,442.8 L314.3,443.1 L313.5,443.4 L312.6,443.7 L311.6,444.0 L310.4,444.4 L309.1,444.7 L307.7,445.0 L306.3,445.3 L304.8,445.6 L303.3,445.8 L301.8,446.1 L300.2,446.3 L298.1,446.6 L296.0,446.8 L293.7,446.9 L291.4,447.1 L289.1,447.2 L286.7,447.4 L284.4,447.5 L282.1,447.7 L279.8,447.9 L277.5,448.1 L275.1,448.3 L272.8,448.6 L270.5,448.8 L268.3,449.0 L266.1,449.3 L263.9,449.5 L262.1,449.8 L260.4,450.0 L258.7,450.2 L257.0,450.4 L255.3,450.6 L253.6,450.9 L251.8,451.2 L250.0,451.6 L247.7,452.1 L245.2,452.6 L242.7,453.2 L240.1,453.9 L237.5,454.6 L235.0,455.4 L232.6,456.1 L230.4,456.9 L228.7,457.6 L227.1,458.2 L225.5,458.9 L224.0,459.6 L222.5,460.4 L221.1,461.2 L219.7,462.1 L218.3,463.0 L216.9,464.1 L215.6,465.3 L214.4,466.6 L213.2,467.9 L212.0,469.3 L210.9,470.7 L209.8,472.1 L208.7,473.5 L207.7,475.0 L206.7,476.4 L205.7,477.9 L204.8,479.4 L203.9,480.9 L203.1,482.5 L202.2,484.2 L201.4,485.9 L200.4,488.1 L199.5,490.4 L198.5,492.8 L197.6,495.2 L196.8,497.7 L195.9,500.3 L195.1,503.0 L194.2,505.7 L193.2,509.0 L192.3,512.5 L191.3,516.1 L190.4,519.9 L189.5,523.6 L188.6,527.3 L187.8,530.8 L187.0,534.3 L186.3,537.3 L185.7,540.4 L185.1,543.4 L184.5,546.4 L184.0,549.3 L183.4,552.0 L182.9,554.4 L182.2,556.6 L181.8,557.9 L181.4,559.3 L181.0,560.6 L180.6,561.8 L180.2,562.8 L179.8,563.7 L179.4,564.2 L179.0,564.4 L178.6,564.2 L178.2,563.5 L177.8,562.6 L177.5,561.4 L177.1,560.1 L176.7,558.6 L176.3,557.1 L175.9,555.7 L175.1,553.3 L174.2,550.7 L173.2,547.8 L172.2,544.8 L171.1,541.6 L170.1,538.4 L169.0,535.1 L168.0,531.8 L166.8,527.8 L165.7,523.7 L164.6,519.4 L163.4,515.0 L162.2,510.6 L161.0,506.3 L159.7,502.0 L158.3,498.0 L156.9,494.4 L155.6,490.8 L154.2,487.3 L152.7,483.8 L151.2,480.4 L149.6,477.2 L148.0,474.2 L146.2,471.4 L144.7,469.3 L143.2,467.3 L141.7,465.4 L140.1,463.6 L138.4,461.9 L136.7,460.4 L135.0,459.0 L133.2,457.9 L131.6,457.0 L129.9,456.2 L128.1,455.5 L126.3,455.0 L124.5,454.5 L122.8,454.2 L121.2,454.0 L119.8,454.0 L119.0,454.0 L118.2,454.1 L117.6,454.2 L116.9,454.3 L116.2,454.6 L115.6,454.8 L115.0,455.2 L114.3,455.5 L113.4,456.2 L112.5,456.9 L111.7,457.8 L110.8,458.8 L110.0,459.9 L109.1,460.9 L108.2,462.0 L107.2,463.0 L106.0,464.3 L104.6,465.6 L103.3,467.0 L101.9,468.4 L100.5,469.8 L99.1,471.2 L97.7,472.5 L96.5,473.7 L95.5,474.7 L94.6,475.5 L93.7,476.3 L92.8,477.1 L91.9,478.0 L91.1,478.8 L90.2,479.7 L89.4,480.7 L88.4,482.1 L87.5,483.5 L86.6,485.0 L85.7,486.6 L84.8,488.3 L84.0,489.9 L83.2,491.6 L82.4,493.2 L81.6,494.9 L80.9,496.7 L80.2,498.4 L79.5,500.2 L78.8,502.0 L78.2,503.8 L77.6,505.6 L77.0,507.3 L76.5,509.0 L76.1,510.8 L75.8,512.5 L75.4,514.3 L75.0,516.0 L74.6,517.5 L74.1,518.7 L73.5,519.7 L73.1,520.1 L72.7,520.5 L72.3,520.8 L71.8,521.1 L71.4,521.3 L70.9,521.4 L70.5,521.5 L70.0,521.5 L69.3,521.2 L68.7,520.8 L68.0,520.1 L67.2,519.4 L66.5,518.6 L65.9,517.7 L65.2,516.9 L64.6,516.2 L64.1,515.6 L63.7,514.9 L63.2,514.2 L62.8,513.6 L62.4,512.9 L62.0,512.4 L61.5,512.0 L61.1,511.8 L60.8,511.7 L60.5,511.7 L60.1,511.8 L59.8,511.9 L59.4,512.0 L59.1,512.2 L58.8,512.4 L58.6,512.7 L58.3,513.2 L58.0,514.0 L57.8,514.8 L57.7,515.8 L57.6,516.8 L57.5,517.8 L57.3,518.8 L57.2,519.7" fill="none" stroke="#0c0cf0" stroke-width="1.6" stroke-linejoin="round"/>
<path d="M415.9,525.7 L416.1,557.6 L416.4,528.5 L416.6,555.8 L416.9,527.7 L417.1,556.9 L417.4,528.1 L417.6,555.6 L417.9,528.3 L418.1,561.6 L418.4,526.0 L418.6,559.3 L418.9,528.9 L419.1,561.8 L419.4,526.1 L419.6,557.8 L419.9,524.8 L420.1,561.9 L420.4,529.1 L420.6,561.0 L420.9,527.4 L421.1,556.8 L421.4,527.0 L421.6,557.7 L421.9,529.0 L422.1,560.5 L422.4,525.3 L422.6,557.8 L422.9,527.8 L423.1,563.5 L423.4,529.0 L423.6,558.5 L423.9,529.5 L424.1,558.6 L424.4,529.0 L424.6,557.7 L424.9,527.4 L425.1,558.4 L425.4,528.7 L425.6,561.2 L425.9,529.1 L426.1,558.3 L426.4,529.9 L426.6,558.8 L426.9,526.7 L427.1,561.7 L427.4,528.5 L427.6,556.9 L427.9,525.2 L428.1,557.3 L428.4,529.3 L428.6,562.7 L428.9,527.6 L429.1,557.4 L429.4,519.0 L429.6,559.1 L429.9,526.9 L430.1,564.0 L430.4,529.4 L430.6,562.1 L430.9,525.5 L431.1,558.0 L431.4,525.3 L431.6,559.8 L431.9,527.7 L432.1,560.6 L432.4,525.7 L432.6,563.8 L432.9,529.9 L433.1,561.9 L433.4,530.7 L433.6,559.3 L433.9,530.3 L434.1,560.5 L434.4,531.3 L434.6,562.6 L434.9,523.4 L435.1,559.9 L435.4,516.1 L435.6,560.8 L435.9,528.7 L436.1,559.6 L436.4,531.8 L436.6,560.1 L436.9,528.8 L437.1,565.1 L437.4,522.7 L437.6,564.8 L437.9,522.6 L438.1,560.7 L438.4,532.4 L438.6,559.7 L438.9,530.1 L439.1,560.1 L439.4,527.0 L439.6,559.4 L439.9,525.5 L440.1,560.7 L440.4,532.0 L440.6,561.3 L440.9,529.0 L441.1,561.0 L441.4,526.8 L441.6,563.0 L441.9,530.0 L442.1,560.7" fill="none" stroke="#000" stroke-width="0.9"/>
<path d="M415.9,532.5 L416.9,532.5 L417.9,532.6 L418.9,532.6 L419.9,532.6 L420.9,532.8 L421.9,532.9 L422.9,533.1 L423.9,533.2 L424.9,533.3 L425.9,533.5 L426.9,533.6 L427.9,533.8 L428.9,533.9 L429.9,534.1 L430.9,534.3 L431.9,534.5 L432.9,534.7 L433.9,534.9 L434.9,535.1 L435.9,535.3 L436.9,535.5 L437.9,535.8 L438.9,536.0 L439.9,536.2 L440.9,536.4 L441.9,536.6 L441.9,556.7 L440.9,556.4 L439.9,556.2 L438.9,556.0 L437.9,555.7 L436.9,555.5 L435.9,555.3 L434.9,555.0 L433.9,554.8 L432.9,554.6 L431.9,554.3 L430.9,554.1 L429.9,553.9 L428.9,553.7 L427.9,553.6 L426.9,553.5 L425.9,553.3 L424.9,553.2 L423.9,553.0 L422.9,552.9 L421.9,552.8 L420.9,552.6 L419.9,552.5 L418.9,552.4 L417.9,552.3 L416.9,552.1 L415.9,552.0Z" fill="#000"/>
<path d="M443.3,440.6 L443.6,446.9 L443.8,441.5 L444.1,449.9 L444.3,441.1 L444.6,455.3 L444.8,445.5 L445.1,458.5 L445.3,451.2 L445.6,465.2 L445.8,454.6 L446.1,472.6 L446.3,460.7 L446.6,479.5 L446.8,465.9 L447.1,486.6 L447.3,468.6 L447.6,492.5 L447.8,469.9 L448.1,500.8 L448.3,472.2 L448.6,507.0 L448.8,472.3 L449.1,509.2 L449.3,476.1 L449.6,525.8 L449.8,478.8 L450.1,516.9 L450.3,485.1 L450.6,517.6 L450.8,488.0 L451.1,520.0 L451.3,488.7 L451.6,522.6 L451.8,487.8 L452.1,523.3 L452.3,484.0 L452.6,531.1 L452.8,492.1 L453.1,530.3 L453.3,491.1 L453.6,535.9 L453.8,493.4 L454.1,533.7 L454.3,493.0 L454.6,531.0 L454.8,493.3 L455.1,530.1 L455.3,494.1 L455.6,531.1 L455.8,496.9 L456.1,535.4 L456.3,497.8 L456.6,536.7 L456.8,490.8 L457.1,531.8 L457.3,494.7 L457.6,546.6 L457.8,497.4 L458.1,534.0 L458.3,497.1 L458.6,533.6 L458.8,500.9 L459.1,542.8 L459.3,500.5 L459.6,537.0 L459.8,500.1 L460.1,539.0 L460.3,500.8 L460.6,537.2 L460.8,503.8 L461.1,536.6 L461.3,504.3 L461.6,536.7 L461.8,502.5 L462.1,539.0 L462.3,498.3 L462.6,544.7 L462.8,504.1 L463.1,538.9 L463.3,505.6 L463.6,542.8 L463.8,503.8 L464.1,537.8 L464.3,504.0 L464.6,538.7 L464.8,505.8 L465.1,538.5 L465.3,507.4 L465.6,539.6 L465.8,503.0 L466.1,541.7 L466.3,507.5 L466.6,540.7 L466.8,504.4 L467.1,542.0 L467.3,504.2 L467.6,539.1 L467.8,503.0 L468.1,541.1 L468.3,507.9 L468.6,543.3 L468.8,505.6 L469.1,540.4 L469.3,509.0 L469.6,542.4 L469.8,507.7 L470.1,544.4 L470.3,506.2 L470.6,542.4 L470.8,509.6 L471.1,541.0 L471.3,506.3 L471.6,543.6 L471.8,506.9 L472.1,544.3 L472.3,506.5 L472.6,542.4 L472.8,505.9 L473.1,543.3 L473.3,505.4 L473.6,542.8 L473.8,507.5 L474.1,548.8 L474.3,507.9 L474.6,545.2 L474.8,508.9 L475.1,550.5 L475.3,504.0 L475.6,545.3 L475.8,510.8 L476.1,545.3 L476.3,510.5 L476.6,543.5 L476.8,511.3 L477.1,548.2 L477.3,505.5 L477.6,546.5 L477.8,506.1 L478.1,544.1 L478.3,512.6 L478.6,545.2" fill="none" stroke="#000" stroke-width="0.9"/>
<path d="M443.3,441.2 L444.3,444.6 L445.3,453.2 L446.3,464.4 L447.3,472.2 L448.3,479.2 L449.3,485.3 L450.3,490.2 L451.3,493.1 L452.3,495.5 L453.3,497.6 L454.3,499.5 L455.3,501.1 L456.3,502.6 L457.3,504.0 L458.3,505.5 L459.3,506.9 L460.3,507.7 L461.3,508.5 L462.3,509.3 L463.3,510.1 L464.3,510.9 L465.3,511.6 L466.3,512.0 L467.3,512.4 L468.3,512.9 L469.3,513.3 L470.3,513.7 L471.3,514.1 L472.3,514.5 L473.3,515.0 L474.3,515.4 L475.3,515.9 L476.3,516.3 L477.3,516.7 L478.3,517.0 L478.3,540.2 L477.3,540.0 L476.3,539.5 L475.3,539.1 L474.3,538.6 L473.3,538.1 L472.3,537.6 L471.3,537.1 L470.3,536.6 L469.3,536.2 L468.3,535.7 L467.3,535.3 L466.3,534.8 L465.3,534.3 L464.3,533.7 L463.3,533.1 L462.3,532.5 L461.3,531.9 L460.3,531.3 L459.3,530.7 L458.3,529.5 L457.3,528.2 L456.3,526.8 L455.3,525.5 L454.3,524.1 L453.3,522.6 L452.3,520.4 L451.3,516.7 L450.3,512.9 L449.3,508.5 L448.3,499.3 L447.3,488.0 L446.3,476.5 L445.3,463.2 L444.3,452.1 L443.3,444.8Z" fill="#000"/>
<path d="M480.2,466.6 L480.4,508.2 L480.7,462.0 L480.9,512.1 L481.2,462.9 L481.4,513.5 L481.7,474.5 L481.9,514.3 L482.2,474.0 L482.4,512.0 L482.7,478.6 L482.9,515.2 L483.2,478.9 L483.4,515.5 L483.7,476.2 L483.9,519.0 L484.2,478.6 L484.4,529.3 L484.7,485.1 L484.9,525.6 L485.2,483.0 L485.4,520.0 L485.7,486.7 L485.9,528.6 L486.2,488.1 L486.4,523.7 L486.7,486.1 L486.9,529.0 L487.2,487.9 L487.4,532.0 L487.7,491.0 L487.9,527.4 L488.2,493.1 L488.4,526.4 L488.7,494.5 L488.9,526.0 L489.2,491.6 L489.4,526.8 L489.7,492.3 L489.9,527.4 L490.2,494.9 L490.4,530.0 L490.7,494.9 L490.9,529.4 L491.2,493.7 L491.4,530.0 L491.7,495.8 L491.9,534.2 L492.2,496.2 L492.4,530.4 L492.7,498.9 L492.9,532.5 L493.2,499.9 L493.4,534.2 L493.7,498.5 L493.9,538.7 L494.2,494.9 L494.4,536.5 L494.7,490.1 L494.9,535.8 L495.2,491.9 L495.4,534.1 L495.7,489.4 L495.9,534.9 L496.2,495.8 L496.4,533.8 L496.7,500.3 L496.9,536.4 L497.2,501.6 L497.4,535.7 L497.7,494.8 L497.9,539.6 L498.2,498.9 L498.4,536.1 L498.7,502.9 L498.9,538.4 L499.2,503.3 L499.4,549.5 L499.7,500.8 L499.9,546.3 L500.2,499.0 L500.4,537.3 L500.7,502.3 L500.9,539.7 L501.2,502.0 L501.4,537.0 L501.7,498.9 L501.9,545.3 L502.2,503.6 L502.4,543.4 L502.7,505.1 L502.9,538.0 L503.2,506.1 L503.4,541.6 L503.7,504.2 L503.9,539.2 L504.2,506.0 L504.4,541.2 L504.7,504.7 L504.9,545.4 L505.2,491.0 L505.4,540.6 L505.7,505.0 L505.9,542.1 L506.2,507.1 L506.4,545.3 L506.7,505.6 L506.9,542.2 L507.2,506.0 L507.4,546.7 L507.7,504.5 L507.9,540.7 L508.2,506.9 L508.4,542.0 L508.7,504.8 L508.9,543.8 L509.2,507.9 L509.4,541.3 L509.7,506.5 L509.9,540.7 L510.2,507.7 L510.4,543.2 L510.7,508.5 L510.9,548.0 L511.2,506.2 L511.4,547.2 L511.7,503.1 L511.9,543.4 L512.2,503.9 L512.5,545.3 L512.7,507.7 L513.0,548.0 L513.2,502.3 L513.5,544.3 L513.7,506.0 L514.0,546.1 L514.2,507.8 L514.5,544.9 L514.7,504.3 L515.0,545.6 L515.2,508.9 L515.5,543.7 L515.7,508.6 L516.0,550.2 L516.2,505.0 L516.5,541.7 L516.7,507.8 L517.0,553.3 L517.2,508.4 L517.5,548.3 L517.7,509.7 L518.0,544.2 L518.2,504.0 L518.5,544.3 L518.7,509.6 L519.0,547.8 L519.2,507.2 L519.5,544.9 L519.7,508.4 L520.0,543.0 L520.2,501.1 L520.5,545.9 L520.7,505.6 L521.0,545.2 L521.2,508.0 L521.5,544.1 L521.7,508.9 L522.0,543.1 L522.2,509.2 L522.5,548.4 L522.7,507.6 L523.0,542.4 L523.2,508.1 L523.5,543.7 L523.7,501.2 L524.0,546.4 L524.2,510.8 L524.5,544.3 L524.7,504.6 L525.0,543.4 L525.2,509.7 L525.5,546.7 L525.7,506.8 L526.0,543.6 L526.2,510.3 L526.5,545.7 L526.7,508.0 L527.0,545.9 L527.2,510.7 L527.5,544.3 L527.7,509.9 L528.0,543.7 L528.2,509.6 L528.5,545.2 L528.7,503.9 L529.0,544.4 L529.2,507.1 L529.5,543.8 L529.7,510.1 L530.0,543.7 L530.2,507.5 L530.5,547.0 L530.7,509.8 L531.0,548.0 L531.2,510.3 L531.5,548.4 L531.7,510.6 L532.0,548.3 L532.2,508.6 L532.5,544.8 L532.7,501.8 L533.0,545.9 L533.2,507.1 L533.5,547.3 L533.7,509.8 L534.0,547.4 L534.2,509.6 L534.5,549.3 L534.7,508.4 L535.0,552.6 L535.2,509.0 L535.5,544.3 L535.7,503.5 L536.0,546.6 L536.2,508.1 L536.5,547.5 L536.7,510.4 L537.0,545.9 L537.2,510.7 L537.5,550.9 L537.7,508.9 L538.0,547.1 L538.2,512.3 L538.5,547.0 L538.7,508.4 L539.0,544.5 L539.2,511.2 L539.5,544.1 L539.7,511.8 L540.0,552.5 L540.2,510.6 L540.5,545.3 L540.7,512.0 L541.0,549.4 L541.2,512.4 L541.5,551.4 L541.7,507.6 L542.0,544.8 L542.2,510.7 L542.5,549.7 L542.7,511.7 L543.0,545.5 L543.2,506.1 L543.5,544.8 L543.7,512.0 L544.0,545.4 L544.2,510.5 L544.5,553.2 L544.7,509.7 L545.0,552.9 L545.2,509.7 L545.5,552.5 L545.7,508.2 L546.0,545.6 L546.2,509.5 L546.5,544.9 L546.7,510.5 L547.0,550.6 L547.2,510.4 L547.5,553.8 L547.7,507.7 L548.0,555.9 L548.2,513.1 L548.5,550.8 L548.7,510.3 L549.0,545.6 L549.2,511.7 L549.5,553.8 L549.7,496.2 L550.0,546.2 L550.2,509.9 L550.5,545.2 L550.7,508.2 L551.0,548.0 L551.2,506.0 L551.5,550.9 L551.7,512.9 L552.0,546.1" fill="none" stroke="#000" stroke-width="0.9"/>
<path d="M480.2,471.2 L481.2,476.9 L482.2,482.2 L483.2,485.5 L484.2,488.2 L485.2,491.0 L486.2,493.7 L487.2,496.0 L488.2,498.3 L489.2,499.9 L490.2,500.9 L491.2,501.9 L492.2,502.9 L493.2,503.8 L494.2,504.7 L495.2,505.4 L496.2,506.1 L497.2,506.8 L498.2,507.4 L499.2,508.0 L500.2,508.6 L501.2,509.2 L502.2,509.8 L503.2,510.4 L504.2,511.0 L505.2,511.2 L506.2,511.5 L507.2,511.8 L508.2,512.0 L509.2,512.3 L510.2,512.6 L511.2,512.9 L512.2,513.1 L513.2,513.4 L514.2,513.7 L515.2,513.9 L516.2,514.0 L517.2,514.1 L518.2,514.2 L519.2,514.3 L520.2,514.4 L521.2,514.5 L522.2,514.6 L523.2,514.7 L524.2,514.8 L525.2,514.9 L526.2,515.0 L527.2,515.1 L528.2,515.2 L529.2,515.3 L530.2,515.5 L531.2,515.6 L532.2,515.7 L533.2,515.9 L534.2,516.0 L535.2,516.1 L536.2,516.3 L537.2,516.4 L538.2,516.6 L539.2,516.7 L540.2,516.8 L541.2,516.9 L542.2,517.0 L543.2,517.1 L544.2,517.1 L545.2,517.2 L546.2,517.3 L547.2,517.4 L548.2,517.5 L549.2,517.6 L550.2,517.6 L551.2,517.7 L551.2,541.1 L550.2,541.1 L549.2,541.0 L548.2,540.9 L547.2,540.8 L546.2,540.7 L545.2,540.6 L544.2,540.6 L543.2,540.5 L542.2,540.4 L541.2,540.3 L540.2,540.2 L539.2,540.1 L538.2,540.0 L537.2,539.9 L536.2,539.8 L535.2,539.7 L534.2,539.6 L533.2,539.5 L532.2,539.4 L531.2,539.3 L530.2,539.2 L529.2,539.1 L528.2,539.0 L527.2,538.9 L526.2,538.8 L525.2,538.7 L524.2,538.6 L523.2,538.5 L522.2,538.4 L521.2,538.3 L520.2,538.2 L519.2,538.0 L518.2,537.9 L517.2,537.8 L516.2,537.7 L515.2,537.6 L514.2,537.4 L513.2,537.1 L512.2,536.8 L511.2,536.6 L510.2,536.3 L509.2,536.0 L508.2,535.7 L507.2,535.5 L506.2,535.2 L505.2,534.9 L504.2,534.7 L503.2,534.1 L502.2,533.5 L501.2,532.8 L500.2,532.2 L499.2,531.6 L498.2,530.9 L497.2,530.3 L496.2,529.4 L495.2,528.5 L494.2,527.5 L493.2,526.6 L492.2,525.6 L491.2,524.5 L490.2,523.4 L489.2,522.2 L488.2,520.9 L487.2,519.4 L486.2,517.9 L485.2,515.4 L484.2,512.8 L483.2,510.2 L482.2,507.6 L481.2,504.4 L480.2,498.8Z" fill="#000"/>
<path d="M553.7,483.0 L554.0,529.5 L554.2,485.2 L554.5,530.9 L554.7,488.3 L555.0,521.7 L555.2,488.4 L555.5,523.5 L555.7,485.3 L556.0,527.7 L556.2,491.4 L556.5,537.1 L556.7,490.3 L557.0,527.5 L557.2,490.8 L557.5,524.4 L557.7,494.4 L558.0,528.1 L558.2,491.4 L558.5,527.0 L558.7,492.8 L559.0,526.8 L559.2,495.6 L559.5,526.9 L559.7,488.7 L560.0,530.6 L560.2,493.3 L560.5,528.2 L560.7,491.4 L561.0,527.4 L561.2,495.4 L561.5,528.6 L561.7,493.6 L562.0,528.8 L562.2,494.2 L562.5,531.4 L562.7,497.3 L563.0,530.0 L563.2,498.2 L563.5,530.1 L563.7,492.0 L564.0,533.7 L564.2,497.4 L564.5,531.9 L564.7,498.3 L565.0,534.5 L565.2,499.3 L565.5,533.0 L565.7,495.1 L566.0,533.9 L566.2,499.3 L566.5,535.0 L566.7,499.6 L567.0,532.9 L567.2,496.9 L567.5,530.7 L567.7,499.6 L568.0,530.5 L568.2,497.7 L568.5,532.9 L568.7,491.3 L569.0,534.2 L569.2,498.3 L569.5,532.3 L569.7,500.3 L570.0,532.1 L570.2,493.2 L570.5,531.4 L570.7,501.2 L571.0,532.9 L571.2,494.7 L571.5,532.4 L571.7,498.1 L572.0,535.5 L572.2,501.3 L572.5,531.9 L572.7,500.9 L573.0,535.2 L573.2,499.6 L573.5,532.5 L573.7,493.6 L574.0,539.4 L574.2,499.3 L574.5,540.6 L574.7,502.1 L575.0,539.4 L575.2,499.0 L575.5,533.9 L575.7,493.7 L576.0,537.1 L576.2,502.7 L576.5,537.9 L576.7,501.6 L577.0,536.4 L577.2,496.9 L577.5,534.6 L577.7,498.9 L578.0,537.5 L578.2,499.3 L578.5,536.5 L578.7,499.6 L579.0,534.1 L579.2,503.6 L579.5,536.6 L579.7,503.6 L580.0,534.4 L580.2,504.0 L580.5,535.4 L580.7,501.4 L581.0,539.2 L581.2,503.8 L581.5,539.9 L581.7,497.1 L582.0,537.8 L582.2,504.8 L582.5,540.7 L582.7,504.0 L583.0,536.9 L583.2,505.3 L583.5,540.1 L583.7,504.5 L584.0,536.3 L584.2,504.8 L584.5,535.1 L584.7,505.2 L585.0,535.3 L585.2,497.7 L585.5,536.2 L585.7,505.5 L586.0,535.2 L586.2,496.4 L586.5,539.4 L586.7,506.3 L587.0,541.1 L587.2,505.7 L587.5,535.8 L587.7,505.0 L588.0,539.1 L588.2,497.6 L588.5,535.9 L588.7,497.2 L589.0,537.3 L589.2,506.5 L589.5,536.0 L589.7,505.7 L590.0,538.9 L590.2,504.7 L590.5,539.2 L590.7,505.0 L591.0,537.6 L591.2,505.6 L591.5,536.3 L591.7,502.1 L592.0,547.9 L592.2,503.9 L592.5,538.9 L592.7,504.9 L593.0,541.7 L593.2,501.2 L593.5,538.2 L593.7,503.5 L594.0,538.7 L594.2,495.5 L594.5,539.5 L594.7,506.5 L595.0,537.8 L595.2,507.4 L595.5,539.3 L595.7,500.0 L596.0,536.9 L596.2,507.3 L596.5,543.1 L596.7,506.6 L597.0,540.7 L597.2,506.8 L597.5,539.8 L597.7,506.8 L598.0,540.3 L598.2,506.1 L598.5,536.9 L598.7,507.6 L599.0,537.7 L599.2,505.7 L599.5,541.1 L599.7,505.5 L600.0,541.9 L600.2,502.0 L600.5,540.1 L600.7,506.2 L601.0,539.3 L601.2,499.5 L601.5,542.2 L601.7,504.0 L602.0,538.3 L602.2,508.2 L602.5,538.4 L602.7,504.0 L603.0,544.5 L603.2,506.1 L603.5,543.0 L603.7,496.4 L604.0,540.7 L604.2,502.0 L604.5,537.0 L604.7,507.9 L605.0,541.2 L605.2,494.3 L605.5,539.0 L605.7,506.6 L606.0,539.1 L606.2,505.8 L606.5,539.3 L606.7,503.4 L607.0,541.8 L607.2,505.1 L607.5,538.4" fill="none" stroke="#000" stroke-width="0.9"/>
<path d="M553.7,493.2 L554.7,494.2 L555.7,495.7 L556.7,497.4 L557.7,499.2 L558.7,499.7 L559.7,500.3 L560.7,500.9 L561.7,501.4 L562.7,502.0 L563.7,502.6 L564.7,503.1 L565.7,503.7 L566.7,504.2 L567.7,504.5 L568.7,504.9 L569.7,505.2 L570.7,505.5 L571.7,505.8 L572.7,506.2 L573.7,506.5 L574.7,506.8 L575.7,507.1 L576.7,507.4 L577.7,507.7 L578.7,508.0 L579.7,508.3 L580.7,508.6 L581.7,508.9 L582.7,509.2 L583.7,509.5 L584.7,509.8 L585.7,510.0 L586.7,510.1 L587.7,510.3 L588.7,510.5 L589.7,510.6 L590.7,510.8 L591.7,511.0 L592.7,511.1 L593.7,511.2 L594.7,511.3 L595.7,511.4 L596.7,511.4 L597.7,511.5 L598.7,511.6 L599.7,511.6 L600.7,511.7 L601.7,511.7 L602.7,511.8 L603.7,511.9 L604.7,511.9 L605.7,512.0 L606.7,512.1 L606.7,533.4 L605.7,533.3 L604.7,533.3 L603.7,533.2 L602.7,533.2 L601.7,533.2 L600.7,533.1 L599.7,533.1 L598.7,533.0 L597.7,533.0 L596.7,533.0 L595.7,532.9 L594.7,532.9 L593.7,532.8 L592.7,532.7 L591.7,532.6 L590.7,532.4 L589.7,532.2 L588.7,532.1 L587.7,531.9 L586.7,531.7 L585.7,531.6 L584.7,531.4 L583.7,531.2 L582.7,531.0 L581.7,530.7 L580.7,530.5 L579.7,530.3 L578.7,530.0 L577.7,529.8 L576.7,529.6 L575.7,529.3 L574.7,529.0 L573.7,528.6 L572.7,528.3 L571.7,527.9 L570.7,527.5 L569.7,527.1 L568.7,526.8 L567.7,526.4 L566.7,526.0 L565.7,525.5 L564.7,524.9 L563.7,524.3 L562.7,523.7 L561.7,523.1 L560.7,522.5 L559.7,521.9 L558.7,521.3 L557.7,520.7 L556.7,519.3 L555.7,517.8 L554.7,516.4 L553.7,514.8Z" fill="#000"/>
<path d="M609.0,475.2 L609.2,514.9 L609.5,478.0 L609.8,517.3 L610.0,476.5 L610.2,516.9 L610.5,479.7 L610.8,524.7 L611.0,479.6 L611.2,515.3 L611.5,475.4 L611.8,515.1 L612.0,481.0 L612.2,515.2 L612.5,480.8 L612.8,517.5 L613.0,479.7 L613.2,515.5 L613.5,484.0 L613.8,518.9 L614.0,483.4 L614.2,521.1 L614.5,483.8 L614.8,518.2 L615.0,482.7 L615.2,520.5 L615.5,484.3 L615.8,520.9 L616.0,484.3 L616.2,522.8 L616.5,481.8 L616.8,521.9 L617.0,485.7 L617.2,517.8 L617.5,485.2 L617.8,519.2 L618.0,487.0 L618.2,518.8 L618.5,484.3 L618.8,521.4 L619.0,483.5 L619.2,523.1 L619.5,486.9 L619.8,524.0 L620.0,477.4 L620.2,519.4 L620.5,483.4 L620.8,521.3 L621.0,489.0 L621.2,520.3 L621.5,488.0 L621.8,520.5 L622.0,489.0 L622.2,525.7 L622.5,484.1 L622.8,523.6 L623.0,486.8 L623.2,522.8 L623.5,489.6 L623.8,524.6 L624.0,486.4 L624.2,521.7 L624.5,490.0 L624.8,522.0 L625.0,489.3 L625.2,522.9 L625.5,486.3 L625.8,522.8 L626.0,491.1 L626.2,533.1 L626.5,490.6 L626.8,525.8 L627.0,485.6 L627.2,525.4 L627.5,485.1 L627.8,525.7 L628.0,491.8 L628.2,524.2 L628.5,491.1 L628.8,524.6 L629.0,486.1 L629.2,526.5 L629.5,492.0 L629.8,526.8 L630.0,487.9 L630.2,525.6 L630.5,492.9 L630.8,529.3 L631.0,489.8 L631.2,530.0 L631.5,488.6 L631.8,529.0 L632.0,492.3 L632.2,530.4 L632.5,492.7 L632.8,525.9 L633.0,488.4 L633.2,527.8 L633.5,488.9 L633.8,529.7 L634.0,494.0 L634.2,538.1 L634.5,492.0 L634.8,537.3 L635.0,488.0 L635.2,527.0 L635.5,492.5 L635.8,533.4 L636.0,493.5 L636.2,526.5 L636.5,493.5 L636.8,530.0 L637.0,492.2 L637.2,525.5 L637.5,492.8 L637.8,525.6 L638.0,491.3 L638.2,528.7 L638.5,495.2 L638.8,529.8 L639.0,494.2 L639.2,529.4 L639.5,493.1 L639.8,528.6 L640.0,495.5 L640.2,534.0 L640.5,493.6 L640.8,533.6 L641.0,492.3 L641.2,529.0 L641.5,495.1 L641.8,529.5 L642.0,495.3 L642.2,528.4 L642.5,494.2 L642.8,527.0 L643.0,490.9 L643.2,529.4 L643.5,491.4 L643.8,527.4 L644.0,493.8 L644.2,529.2 L644.5,494.8 L644.8,527.6 L645.0,493.4 L645.2,535.0 L645.5,493.5 L645.8,533.3 L646.0,491.9 L646.2,528.8 L646.5,495.0 L646.8,528.6 L647.0,494.8 L647.2,536.7 L647.5,489.1 L647.8,528.7 L648.0,494.9 L648.2,531.4 L648.5,497.0 L648.8,534.3 L649.0,493.8 L649.2,530.0 L649.5,491.7 L649.8,529.3 L650.0,496.9 L650.2,528.9 L650.5,495.7 L650.8,529.6 L651.0,493.6 L651.2,533.3 L651.5,497.3 L651.8,532.2 L652.0,496.4 L652.2,534.0 L652.5,492.6 L652.8,534.8 L653.0,493.2 L653.2,536.8 L653.5,497.4 L653.8,540.6 L654.0,492.3 L654.2,529.1 L654.5,495.0 L654.8,530.5 L655.0,497.7 L655.2,530.0 L655.5,493.5 L655.8,531.3 L656.0,496.9 L656.2,533.4 L656.5,497.2 L656.8,533.6 L657.0,496.5 L657.2,529.9 L657.5,497.6 L657.8,530.8 L658.0,498.5 L658.2,539.6 L658.5,498.8 L658.8,530.9 L659.0,497.8 L659.2,530.3 L659.5,495.9 L659.8,534.0 L660.0,496.7 L660.2,532.0 L660.5,497.8 L660.8,540.8 L661.0,494.4 L661.2,535.5 L661.5,498.5 L661.8,533.4 L662.0,499.0 L662.2,535.6 L662.5,494.6 L662.8,532.2 L663.0,495.4 L663.2,533.7 L663.5,498.8 L663.8,533.0 L664.0,497.9 L664.2,539.2 L664.5,498.2 L664.8,531.0 L665.0,493.2 L665.2,531.1 L665.5,488.8 L665.8,532.6 L666.0,494.5 L666.2,532.3 L666.5,497.3 L666.8,532.0 L667.0,497.4 L667.2,538.6 L667.5,496.8 L667.8,531.8 L668.0,493.9 L668.2,531.4 L668.5,492.5 L668.8,534.9 L669.0,494.2 L669.2,540.4 L669.5,493.6 L669.8,532.9 L670.0,498.4 L670.2,533.6 L670.5,497.8 L670.8,535.4 L671.0,496.3 L671.2,534.6 L671.5,495.2 L671.8,533.5 L672.0,490.5 L672.2,534.5 L672.5,495.5 L672.8,538.9 L673.0,496.7 L673.2,533.5 L673.5,499.5 L673.8,534.4 L674.0,493.7 L674.2,532.0 L674.5,498.9 L674.8,535.9 L675.0,498.5 L675.2,532.4 L675.5,496.4 L675.8,536.7 L676.0,497.8 L676.2,533.1 L676.5,493.5 L676.8,539.4 L677.0,499.6 L677.2,536.7 L677.5,490.6 L677.8,538.5 L678.0,499.8 L678.2,534.4 L678.5,499.2 L678.8,536.5 L679.0,491.5 L679.2,535.7 L679.5,498.1 L679.8,538.0 L680.0,498.2 L680.2,537.1 L680.5,498.0 L680.8,533.4 L681.0,498.3 L681.2,536.4 L681.5,496.1 L681.8,534.5 L682.0,497.8 L682.2,533.1 L682.5,495.3 L682.8,534.5 L683.0,498.9 L683.2,536.0 L683.5,496.2 L683.8,536.0 L684.0,497.0 L684.2,535.4 L684.5,497.2 L684.8,536.3 L685.0,499.8 L685.2,535.8 L685.5,495.2 L685.8,535.7 L686.0,496.3 L686.2,534.0 L686.5,493.6 L686.8,534.8 L687.0,497.6 L687.2,533.9 L687.5,497.3 L687.8,533.1 L688.0,493.3 L688.2,533.6 L688.5,499.4 L688.8,535.3 L689.0,497.7 L689.2,533.3 L689.5,496.7 L689.8,533.9 L690.0,492.5 L690.2,533.4 L690.5,496.9 L690.8,535.8 L691.0,500.0 L691.2,534.5 L691.5,498.9 L691.8,544.3 L692.0,497.3 L692.2,536.4 L692.5,496.1 L692.8,538.8 L693.0,496.1 L693.2,534.3 L693.5,499.7 L693.8,536.0 L694.0,497.3 L694.2,536.5 L694.5,494.8 L694.8,538.4 L695.0,499.2 L695.2,545.4 L695.5,499.7 L695.8,535.6 L696.0,498.2 L696.2,538.1 L696.5,497.1 L696.8,533.7 L697.0,499.3 L697.2,535.0 L697.5,486.4 L697.8,538.9 L698.0,494.0 L698.2,536.5 L698.5,495.7 L698.8,537.1" fill="none" stroke="#000" stroke-width="0.9"/>
<path d="M609.0,482.2 L610.0,484.8 L611.0,485.7 L612.0,486.6 L613.0,487.6 L614.0,488.5 L615.0,489.2 L616.0,489.9 L617.0,490.5 L618.0,491.1 L619.0,491.7 L620.0,492.3 L621.0,492.8 L622.0,493.4 L623.0,493.9 L624.0,494.4 L625.0,494.9 L626.0,495.4 L627.0,495.9 L628.0,496.4 L629.0,496.8 L630.0,497.1 L631.0,497.3 L632.0,497.5 L633.0,497.8 L634.0,498.0 L635.0,498.2 L636.0,498.5 L637.0,498.7 L638.0,498.9 L639.0,499.2 L640.0,499.4 L641.0,499.6 L642.0,499.7 L643.0,499.9 L644.0,500.1 L645.0,500.3 L646.0,500.5 L647.0,500.7 L648.0,500.9 L649.0,501.0 L650.0,501.2 L651.0,501.4 L652.0,501.6 L653.0,501.8 L654.0,502.0 L655.0,502.2 L656.0,502.3 L657.0,502.5 L658.0,502.7 L659.0,502.9 L660.0,503.1 L661.0,503.3 L662.0,503.3 L663.0,503.4 L664.0,503.4 L665.0,503.5 L666.0,503.5 L667.0,503.5 L668.0,503.6 L669.0,503.6 L670.0,503.7 L671.0,503.7 L672.0,503.8 L673.0,503.8 L674.0,503.8 L675.0,503.9 L676.0,503.9 L677.0,504.0 L678.0,504.0 L679.0,504.1 L680.0,504.1 L681.0,504.1 L682.0,504.1 L683.0,504.1 L684.0,504.2 L685.0,504.2 L686.0,504.2 L687.0,504.2 L688.0,504.2 L689.0,504.2 L690.0,504.3 L691.0,504.3 L692.0,504.3 L693.0,504.3 L694.0,504.3 L695.0,504.3 L696.0,504.4 L697.0,504.4 L698.0,504.4 L699.0,504.4 L699.0,529.6 L698.0,529.5 L697.0,529.5 L696.0,529.4 L695.0,529.3 L694.0,529.3 L693.0,529.2 L692.0,529.2 L691.0,529.1 L690.0,529.0 L689.0,529.0 L688.0,528.9 L687.0,528.8 L686.0,528.8 L685.0,528.7 L684.0,528.7 L683.0,528.6 L682.0,528.5 L681.0,528.5 L680.0,528.4 L679.0,528.3 L678.0,528.2 L677.0,528.1 L676.0,528.0 L675.0,527.9 L674.0,527.8 L673.0,527.7 L672.0,527.7 L671.0,527.6 L670.0,527.5 L669.0,527.4 L668.0,527.3 L667.0,527.2 L666.0,527.1 L665.0,527.0 L664.0,526.9 L663.0,526.8 L662.0,526.7 L661.0,526.6 L660.0,526.4 L659.0,526.2 L658.0,526.0 L657.0,525.8 L656.0,525.6 L655.0,525.4 L654.0,525.1 L653.0,524.9 L652.0,524.7 L651.0,524.5 L650.0,524.3 L649.0,524.1 L648.0,523.9 L647.0,523.7 L646.0,523.5 L645.0,523.2 L644.0,523.0 L643.0,522.8 L642.0,522.6 L641.0,522.4 L640.0,522.2 L639.0,522.0 L638.0,521.8 L637.0,521.6 L636.0,521.4 L635.0,521.3 L634.0,521.1 L633.0,520.9 L632.0,520.7 L631.0,520.5 L630.0,520.4 L629.0,520.2 L628.0,519.8 L627.0,519.2 L626.0,518.7 L625.0,518.1 L624.0,517.5 L623.0,516.9 L622.0,516.4 L621.0,515.8 L620.0,515.2 L619.0,514.7 L618.0,514.1 L617.0,513.6 L616.0,513.0 L615.0,512.5 L614.0,511.9 L613.0,511.2 L612.0,510.6 L611.0,509.9 L610.0,509.2 L609.0,506.8Z" fill="#000"/>
<rect x="415.6" y="306.8" width="283.9" height="277.59999999999997" fill="none" stroke="#8a8a8a" stroke-width="1.1"/>
<path d="M442.4,584.4v-3.2M442.4,306.8v3.2M479.1,584.4v-3.2M479.1,306.8v3.2M515.8,584.4v-3.2M515.8,306.8v3.2M552.5,584.4v-3.2M552.5,306.8v3.2M589.1,584.4v-3.2M589.1,306.8v3.2M625.8,584.4v-3.2M625.8,306.8v3.2M662.5,584.4v-3.2M662.5,306.8v3.2M415.6,551.8h3.2M699.5,551.8h-3.2M415.6,519.1h3.2M699.5,519.1h-3.2M415.6,486.5h3.2M699.5,486.5h-3.2M415.6,453.9h3.2M699.5,453.9h-3.2M415.6,421.3h3.2M699.5,421.3h-3.2M415.6,388.6h3.2M699.5,388.6h-3.2M415.6,356.0h3.2M699.5,356.0h-3.2M415.6,323.4h3.2M699.5,323.4h-3.2" stroke="#8a8a8a" stroke-width="0.9900000000000001" fill="none"/>
<path d="M442.9,306.2V584.6" stroke="#000" stroke-width="2.0"/>
<path d="M479.5,306.2V584.6" stroke="#000" stroke-width="2.5"/>
<path d="M552.9,306.2V584.6" stroke="#000" stroke-width="2.0"/>
<path d="M608.2,306.2V584.6" stroke="#000" stroke-width="2.2"/>
<text x="442.9" y="601.2" font-size="16.4" text-anchor="middle" >600</text>
<text x="479.5" y="601.2" font-size="16.4" text-anchor="middle" >800</text>
<text x="519.4" y="601.2" font-size="16.4" text-anchor="middle" >1000</text>
<text x="556.0" y="601.2" font-size="16.4" text-anchor="middle" >1200</text>
<text x="592.8" y="601.2" font-size="16.4" text-anchor="middle" >1400</text>
<text x="629.8" y="601.2" font-size="16.4" text-anchor="middle" >1600</text>
<text x="666.4" y="601.2" font-size="16.4" text-anchor="middle" >1800</text>
<text x="396.5" y="325.6" font-size="16.4" text-anchor="middle" >0.24</text>
<text x="396.5" y="358.2" font-size="16.4" text-anchor="middle" >0.22</text>
<text x="395.6" y="390.8" font-size="16.4" text-anchor="middle" >0.2</text>
<text x="396.5" y="423.5" font-size="16.4" text-anchor="middle" >0.18</text>
<text x="396.5" y="456.1" font-size="16.4" text-anchor="middle" >0.16</text>
<text x="396.5" y="488.7" font-size="16.4" text-anchor="middle" >0.14</text>
<text x="396.5" y="521.4" font-size="16.4" text-anchor="middle" >0.12</text>
<text x="395.4" y="554.0" font-size="16.4" text-anchor="middle" >0.1</text>
<text x="396.6" y="586.6" font-size="16.4" text-anchor="middle" >0.08</text>
<text transform="translate(373.2,542.6) rotate(-90)" font-size="16.4">Current density [&#956;A cm<tspan dy="-6" font-size="10.5">-2</tspan><tspan dy="6">]</tspan></text>
<text x="540.6" y="617.9" font-size="16.4" text-anchor="start" >Time [s]</text>
<rect x="481" y="309.6" width="214" height="125.1" fill="#fff"/>
<path d="M523.5,315.2V410.8H682.8" fill="none" stroke="#a9bdb6" stroke-width="1.2"/>
<path d="M523.5,410.6h-1.6M523.5,397.0h-1.6M523.5,383.3h-1.6M523.5,369.7h-1.6M523.5,356.1h-1.6M523.5,342.5h-1.6M523.5,328.8h-1.6M523.5,315.2h-1.6M524.4,410.8v1.6M554.8,410.8v1.6M585.2,410.8v1.6M615.6,410.8v1.6M646.0,410.8v1.6M676.4,410.8v1.6" stroke="#a9bdb6" stroke-width="1"/>
<text x="510.0" y="318.1" font-size="9.3" text-anchor="middle" >0.128</text>
<text x="510.0" y="331.7" font-size="9.3" text-anchor="middle" >0.126</text>
<text x="510.0" y="345.4" font-size="9.3" text-anchor="middle" >0.124</text>
<text x="510.0" y="359.0" font-size="9.3" text-anchor="middle" >0.122</text>
<text x="510.0" y="372.6" font-size="9.3" text-anchor="middle" >0.12</text>
<text x="510.0" y="386.2" font-size="9.3" text-anchor="middle" >0.118</text>
<text x="510.0" y="399.9" font-size="9.3" text-anchor="middle" >0.116</text>
<text x="510.0" y="413.5" font-size="9.3" text-anchor="middle" >0.114</text>
<text x="524.5" y="420.8" font-size="9.3" text-anchor="middle" >0</text>
<text x="557.0" y="420.8" font-size="9.3" text-anchor="middle" >200</text>
<text x="587.2" y="420.8" font-size="9.3" text-anchor="middle" >400</text>
<text x="617.7" y="420.8" font-size="9.3" text-anchor="middle" >600</text>
<text x="648.2" y="420.8" font-size="9.3" text-anchor="middle" >800</text>
<text x="679.9" y="420.8" font-size="9.3" text-anchor="middle" >1000</text>
<text transform="translate(496.0,415.0) rotate(-90)" font-size="9.95">Current density [&#956;A cm<tspan dy="-3.5" font-size="6.3">-2</tspan><tspan dy="3.5">]</tspan></text>
<text x="573.5" y="431.6" font-size="9.7" text-anchor="start" >Concentration [&#956;M]</text>
<path d="M539.6,400.0L679.4,329.2" stroke="#333" stroke-width="1.1" stroke-dasharray="8,7.5"/>
<circle cx="539.0" cy="399.4" r="2.8" fill="#1d3535"/>
<circle cx="569.4" cy="385.5" r="2.8" fill="#1d3535"/>
<circle cx="599.8" cy="372.0" r="2.8" fill="#1d3535"/>
<circle cx="675.8" cy="330.1" r="2.8" fill="#1d3535"/>
<text x="530.0" y="329.8" font-size="13.05" text-anchor="start" >y = 0.00001x + 0.1143</text>
<text x="530.0" y="345.4" font-size="13.05" text-anchor="start" >R<tspan dy="-5" font-size="8.2">2</tspan><tspan dy="5"> = 0.9979</tspan></text>
<text x="420.6" y="331.0" font-size="26.5" text-anchor="start" >D</text>
</svg></body></html>
